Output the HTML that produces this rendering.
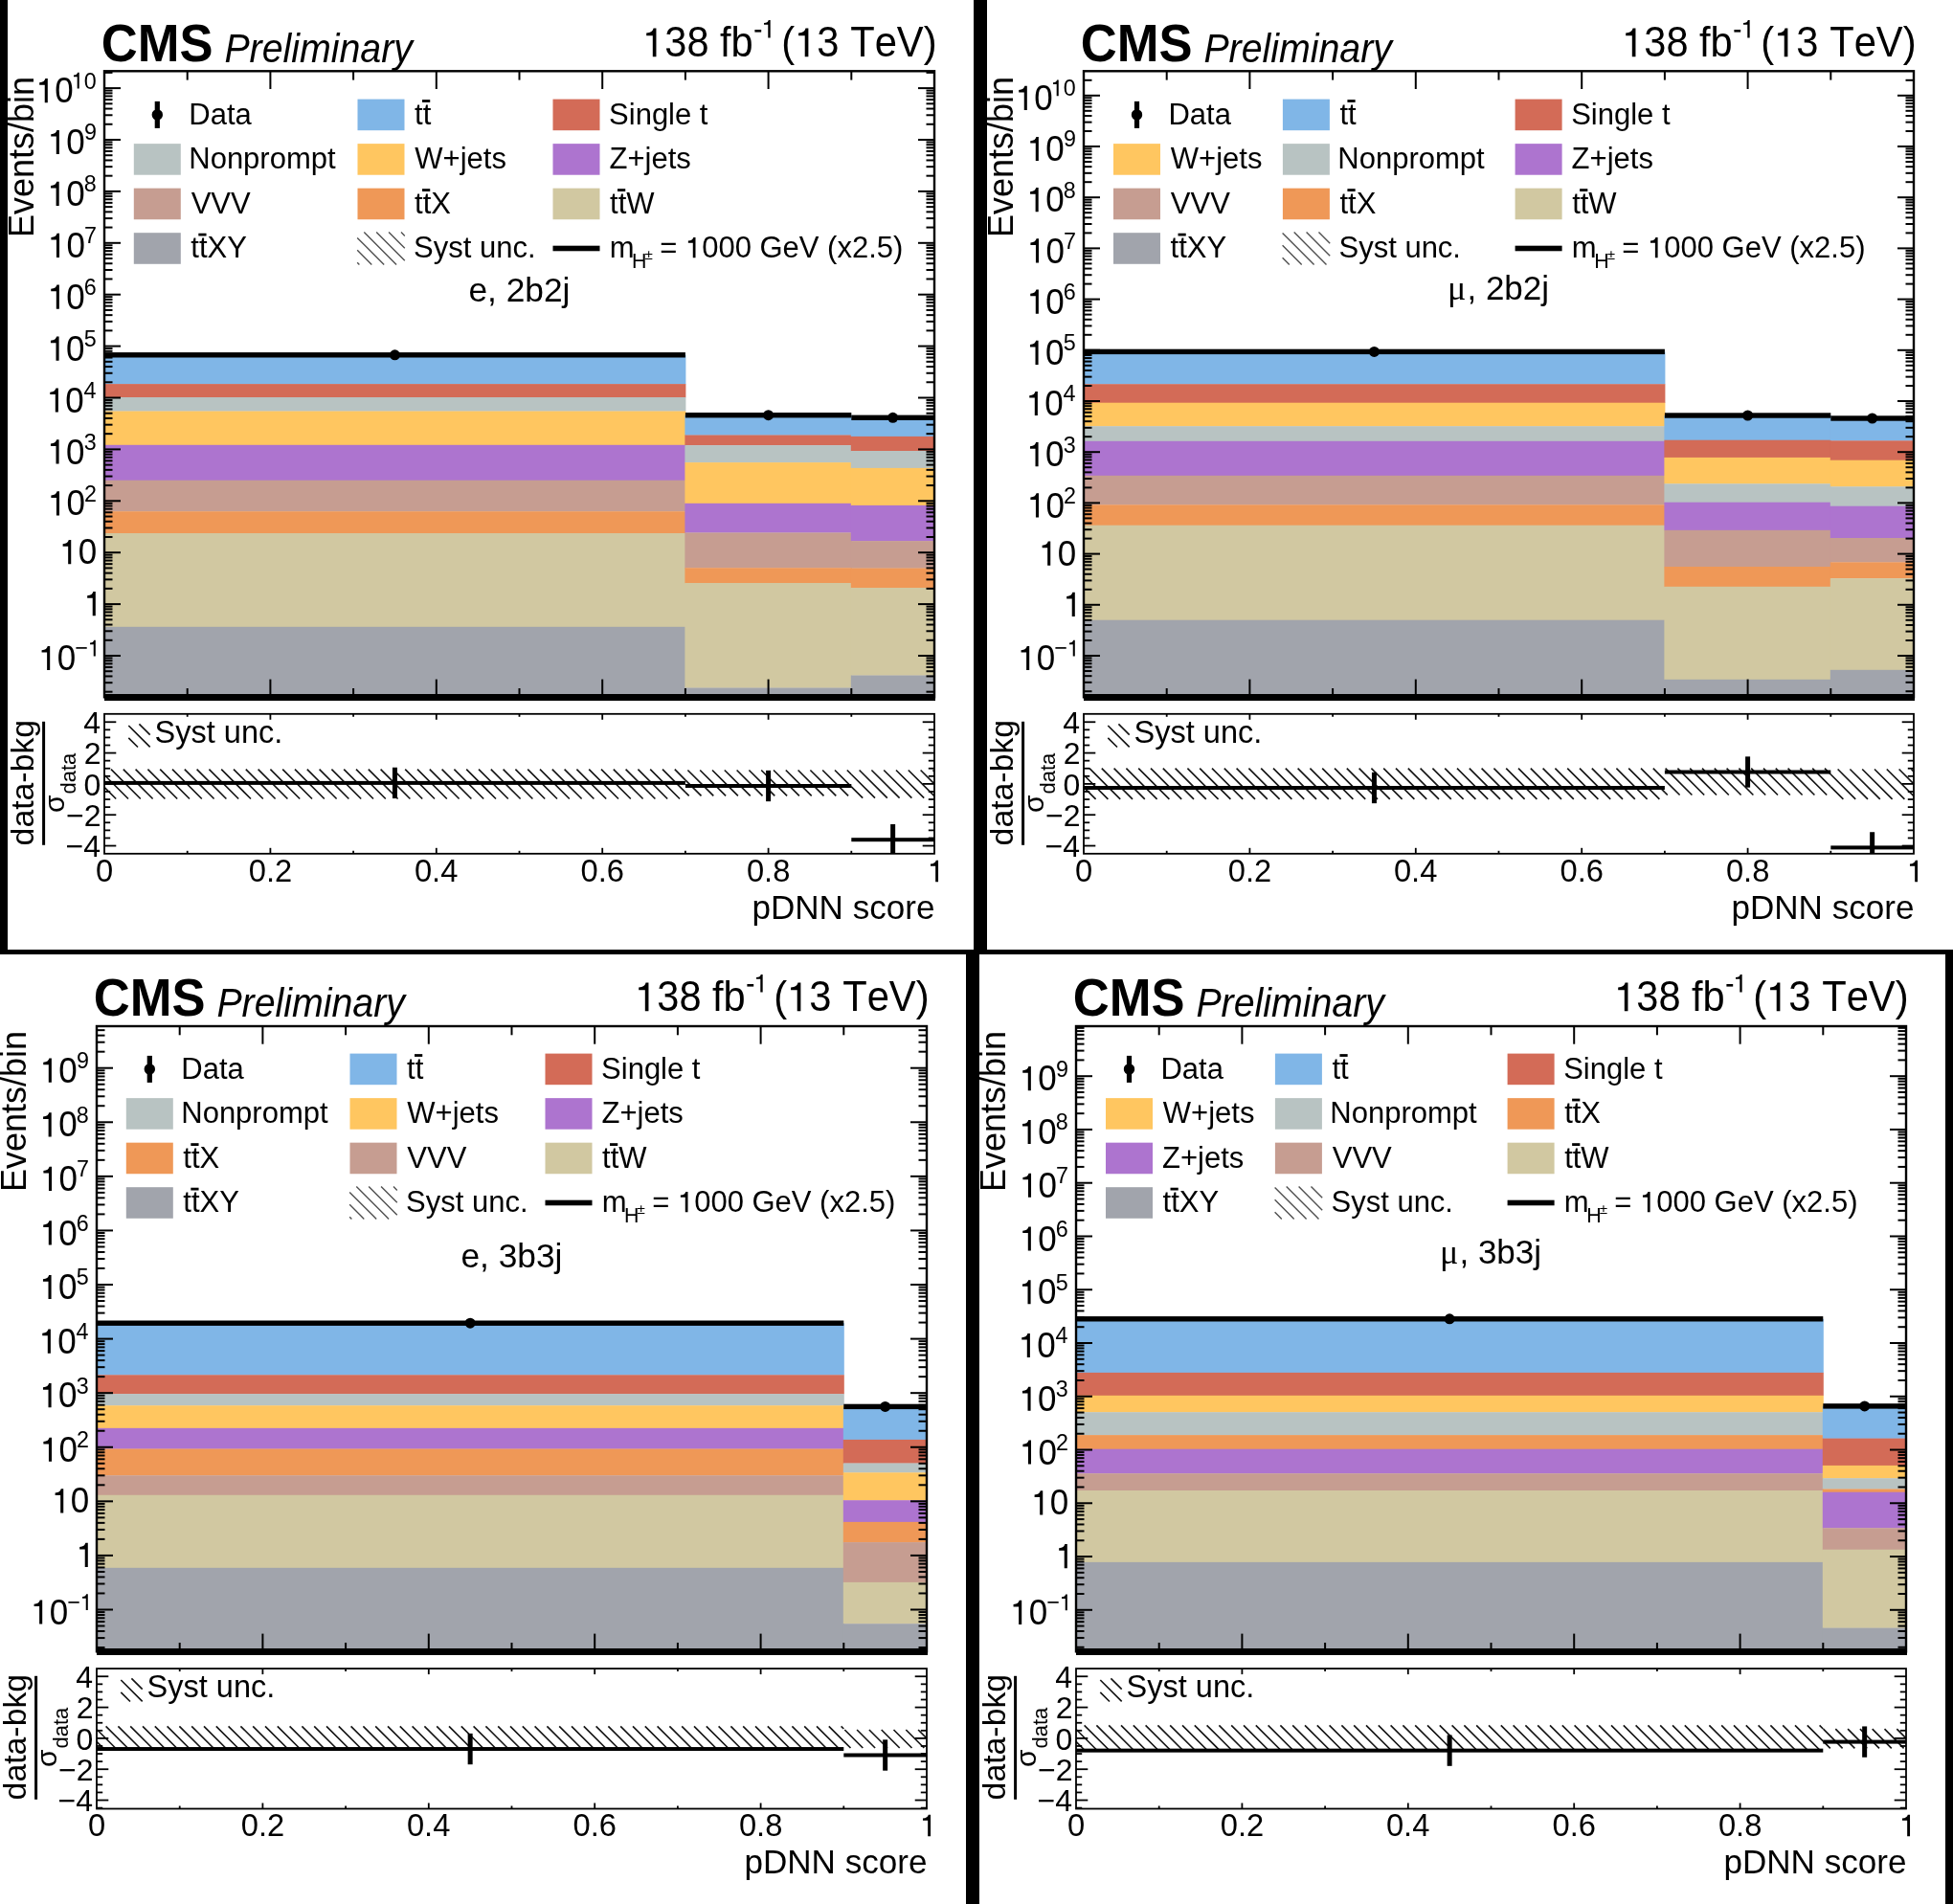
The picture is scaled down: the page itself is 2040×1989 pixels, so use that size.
<!DOCTYPE html><html><head><meta charset="utf-8"><style>html,body{margin:0;padding:0;background:#fff;}svg{display:block;will-change:transform;}</style></head><body><svg xmlns="http://www.w3.org/2000/svg" width="2040" height="1989" viewBox="0 0 2040 1989" font-family="Liberation Sans" style="font-kerning:none">
<rect width="2040" height="1989" fill="#fff"/>
<g transform="translate(0,0)">
<rect x="109" y="370.8" width="607.4" height="30.6" fill="#80b6e7"/>
<rect x="109" y="401.1" width="607.4" height="14.2" fill="#d36b57"/>
<rect x="109" y="415" width="607.4" height="14.8" fill="#b8c3c2"/>
<rect x="109" y="429.5" width="607.4" height="35.6" fill="#ffc660"/>
<rect x="109" y="464.8" width="607.4" height="37.2" fill="#ad74cf"/>
<rect x="109" y="501.7" width="607.4" height="32.8" fill="#c69d91"/>
<rect x="109" y="534.2" width="607.4" height="23.1" fill="#ef9857"/>
<rect x="109" y="557" width="607.4" height="98.1" fill="#d1c8a1"/>
<rect x="109" y="654.8" width="607.4" height="76.2" fill="#a1a4ac"/>
<rect x="715.4" y="433.7" width="174.4" height="21.1" fill="#80b6e7"/>
<rect x="715.4" y="454.5" width="174.4" height="10.9" fill="#d36b57"/>
<rect x="715.4" y="465.1" width="174.4" height="18.3" fill="#b8c3c2"/>
<rect x="715.4" y="483.1" width="174.4" height="43" fill="#ffc660"/>
<rect x="715.4" y="525.8" width="174.4" height="30.9" fill="#ad74cf"/>
<rect x="715.4" y="556.4" width="174.4" height="37.1" fill="#c69d91"/>
<rect x="715.4" y="593.2" width="174.4" height="16.1" fill="#ef9857"/>
<rect x="715.4" y="609" width="174.4" height="109.8" fill="#d1c8a1"/>
<rect x="715.4" y="718.5" width="174.4" height="12.5" fill="#a1a4ac"/>
<rect x="888.8" y="436.3" width="87.2" height="19.9" fill="#80b6e7"/>
<rect x="888.8" y="455.9" width="87.2" height="15.4" fill="#d36b57"/>
<rect x="888.8" y="471" width="87.2" height="18.2" fill="#b8c3c2"/>
<rect x="888.8" y="488.9" width="87.2" height="39.3" fill="#ffc660"/>
<rect x="888.8" y="527.9" width="87.2" height="37.5" fill="#ad74cf"/>
<rect x="888.8" y="565.1" width="87.2" height="28.7" fill="#c69d91"/>
<rect x="888.8" y="593.5" width="87.2" height="20.8" fill="#ef9857"/>
<rect x="888.8" y="614" width="87.2" height="91.8" fill="#d1c8a1"/>
<rect x="888.8" y="705.5" width="87.2" height="25.5" fill="#a1a4ac"/>
<g stroke="#000" fill="none">
<line x1="195.7" y1="728.3" x2="195.7" y2="719" stroke="#000" stroke-width="2"/>
<line x1="195.7" y1="74.3" x2="195.7" y2="83.6" stroke="#000" stroke-width="2"/>
<line x1="282.4" y1="728.3" x2="282.4" y2="709.6" stroke="#000" stroke-width="2"/>
<line x1="282.4" y1="74.3" x2="282.4" y2="93" stroke="#000" stroke-width="2"/>
<line x1="369.1" y1="728.3" x2="369.1" y2="719" stroke="#000" stroke-width="2"/>
<line x1="369.1" y1="74.3" x2="369.1" y2="83.6" stroke="#000" stroke-width="2"/>
<line x1="455.8" y1="728.3" x2="455.8" y2="709.6" stroke="#000" stroke-width="2"/>
<line x1="455.8" y1="74.3" x2="455.8" y2="93" stroke="#000" stroke-width="2"/>
<line x1="542.5" y1="728.3" x2="542.5" y2="719" stroke="#000" stroke-width="2"/>
<line x1="542.5" y1="74.3" x2="542.5" y2="83.6" stroke="#000" stroke-width="2"/>
<line x1="629.2" y1="728.3" x2="629.2" y2="709.6" stroke="#000" stroke-width="2"/>
<line x1="629.2" y1="74.3" x2="629.2" y2="93" stroke="#000" stroke-width="2"/>
<line x1="715.9" y1="728.3" x2="715.9" y2="719" stroke="#000" stroke-width="2"/>
<line x1="715.9" y1="74.3" x2="715.9" y2="83.6" stroke="#000" stroke-width="2"/>
<line x1="802.6" y1="728.3" x2="802.6" y2="709.6" stroke="#000" stroke-width="2"/>
<line x1="802.6" y1="74.3" x2="802.6" y2="93" stroke="#000" stroke-width="2"/>
<line x1="889.3" y1="728.3" x2="889.3" y2="719" stroke="#000" stroke-width="2"/>
<line x1="889.3" y1="74.3" x2="889.3" y2="83.6" stroke="#000" stroke-width="2"/>
<line x1="109" y1="722.67" x2="117.5" y2="722.67" stroke="#000" stroke-width="2"/>
<line x1="976" y1="722.67" x2="967.5" y2="722.67" stroke="#000" stroke-width="2"/>
<line x1="109" y1="713.18" x2="117.5" y2="713.18" stroke="#000" stroke-width="2"/>
<line x1="976" y1="713.18" x2="967.5" y2="713.18" stroke="#000" stroke-width="2"/>
<line x1="109" y1="706.45" x2="117.5" y2="706.45" stroke="#000" stroke-width="2"/>
<line x1="976" y1="706.45" x2="967.5" y2="706.45" stroke="#000" stroke-width="2"/>
<line x1="109" y1="701.23" x2="117.5" y2="701.23" stroke="#000" stroke-width="2"/>
<line x1="976" y1="701.23" x2="967.5" y2="701.23" stroke="#000" stroke-width="2"/>
<line x1="109" y1="696.96" x2="117.5" y2="696.96" stroke="#000" stroke-width="2"/>
<line x1="976" y1="696.96" x2="967.5" y2="696.96" stroke="#000" stroke-width="2"/>
<line x1="109" y1="693.35" x2="117.5" y2="693.35" stroke="#000" stroke-width="2"/>
<line x1="976" y1="693.35" x2="967.5" y2="693.35" stroke="#000" stroke-width="2"/>
<line x1="109" y1="690.22" x2="117.5" y2="690.22" stroke="#000" stroke-width="2"/>
<line x1="976" y1="690.22" x2="967.5" y2="690.22" stroke="#000" stroke-width="2"/>
<line x1="109" y1="687.47" x2="117.5" y2="687.47" stroke="#000" stroke-width="2"/>
<line x1="976" y1="687.47" x2="967.5" y2="687.47" stroke="#000" stroke-width="2"/>
<line x1="109" y1="685" x2="126" y2="685" stroke="#000" stroke-width="2"/>
<line x1="976" y1="685" x2="959" y2="685" stroke="#000" stroke-width="2"/>
<line x1="109" y1="668.77" x2="117.5" y2="668.77" stroke="#000" stroke-width="2"/>
<line x1="976" y1="668.77" x2="967.5" y2="668.77" stroke="#000" stroke-width="2"/>
<line x1="109" y1="659.28" x2="117.5" y2="659.28" stroke="#000" stroke-width="2"/>
<line x1="976" y1="659.28" x2="967.5" y2="659.28" stroke="#000" stroke-width="2"/>
<line x1="109" y1="652.55" x2="117.5" y2="652.55" stroke="#000" stroke-width="2"/>
<line x1="976" y1="652.55" x2="967.5" y2="652.55" stroke="#000" stroke-width="2"/>
<line x1="109" y1="647.33" x2="117.5" y2="647.33" stroke="#000" stroke-width="2"/>
<line x1="976" y1="647.33" x2="967.5" y2="647.33" stroke="#000" stroke-width="2"/>
<line x1="109" y1="643.06" x2="117.5" y2="643.06" stroke="#000" stroke-width="2"/>
<line x1="976" y1="643.06" x2="967.5" y2="643.06" stroke="#000" stroke-width="2"/>
<line x1="109" y1="639.45" x2="117.5" y2="639.45" stroke="#000" stroke-width="2"/>
<line x1="976" y1="639.45" x2="967.5" y2="639.45" stroke="#000" stroke-width="2"/>
<line x1="109" y1="636.32" x2="117.5" y2="636.32" stroke="#000" stroke-width="2"/>
<line x1="976" y1="636.32" x2="967.5" y2="636.32" stroke="#000" stroke-width="2"/>
<line x1="109" y1="633.57" x2="117.5" y2="633.57" stroke="#000" stroke-width="2"/>
<line x1="976" y1="633.57" x2="967.5" y2="633.57" stroke="#000" stroke-width="2"/>
<line x1="109" y1="631.1" x2="126" y2="631.1" stroke="#000" stroke-width="2"/>
<line x1="976" y1="631.1" x2="959" y2="631.1" stroke="#000" stroke-width="2"/>
<line x1="109" y1="614.87" x2="117.5" y2="614.87" stroke="#000" stroke-width="2"/>
<line x1="976" y1="614.87" x2="967.5" y2="614.87" stroke="#000" stroke-width="2"/>
<line x1="109" y1="605.38" x2="117.5" y2="605.38" stroke="#000" stroke-width="2"/>
<line x1="976" y1="605.38" x2="967.5" y2="605.38" stroke="#000" stroke-width="2"/>
<line x1="109" y1="598.65" x2="117.5" y2="598.65" stroke="#000" stroke-width="2"/>
<line x1="976" y1="598.65" x2="967.5" y2="598.65" stroke="#000" stroke-width="2"/>
<line x1="109" y1="593.43" x2="117.5" y2="593.43" stroke="#000" stroke-width="2"/>
<line x1="976" y1="593.43" x2="967.5" y2="593.43" stroke="#000" stroke-width="2"/>
<line x1="109" y1="589.16" x2="117.5" y2="589.16" stroke="#000" stroke-width="2"/>
<line x1="976" y1="589.16" x2="967.5" y2="589.16" stroke="#000" stroke-width="2"/>
<line x1="109" y1="585.55" x2="117.5" y2="585.55" stroke="#000" stroke-width="2"/>
<line x1="976" y1="585.55" x2="967.5" y2="585.55" stroke="#000" stroke-width="2"/>
<line x1="109" y1="582.42" x2="117.5" y2="582.42" stroke="#000" stroke-width="2"/>
<line x1="976" y1="582.42" x2="967.5" y2="582.42" stroke="#000" stroke-width="2"/>
<line x1="109" y1="579.67" x2="117.5" y2="579.67" stroke="#000" stroke-width="2"/>
<line x1="976" y1="579.67" x2="967.5" y2="579.67" stroke="#000" stroke-width="2"/>
<line x1="109" y1="577.2" x2="126" y2="577.2" stroke="#000" stroke-width="2"/>
<line x1="976" y1="577.2" x2="959" y2="577.2" stroke="#000" stroke-width="2"/>
<line x1="109" y1="560.97" x2="117.5" y2="560.97" stroke="#000" stroke-width="2"/>
<line x1="976" y1="560.97" x2="967.5" y2="560.97" stroke="#000" stroke-width="2"/>
<line x1="109" y1="551.48" x2="117.5" y2="551.48" stroke="#000" stroke-width="2"/>
<line x1="976" y1="551.48" x2="967.5" y2="551.48" stroke="#000" stroke-width="2"/>
<line x1="109" y1="544.75" x2="117.5" y2="544.75" stroke="#000" stroke-width="2"/>
<line x1="976" y1="544.75" x2="967.5" y2="544.75" stroke="#000" stroke-width="2"/>
<line x1="109" y1="539.53" x2="117.5" y2="539.53" stroke="#000" stroke-width="2"/>
<line x1="976" y1="539.53" x2="967.5" y2="539.53" stroke="#000" stroke-width="2"/>
<line x1="109" y1="535.26" x2="117.5" y2="535.26" stroke="#000" stroke-width="2"/>
<line x1="976" y1="535.26" x2="967.5" y2="535.26" stroke="#000" stroke-width="2"/>
<line x1="109" y1="531.65" x2="117.5" y2="531.65" stroke="#000" stroke-width="2"/>
<line x1="976" y1="531.65" x2="967.5" y2="531.65" stroke="#000" stroke-width="2"/>
<line x1="109" y1="528.52" x2="117.5" y2="528.52" stroke="#000" stroke-width="2"/>
<line x1="976" y1="528.52" x2="967.5" y2="528.52" stroke="#000" stroke-width="2"/>
<line x1="109" y1="525.77" x2="117.5" y2="525.77" stroke="#000" stroke-width="2"/>
<line x1="976" y1="525.77" x2="967.5" y2="525.77" stroke="#000" stroke-width="2"/>
<line x1="109" y1="523.3" x2="126" y2="523.3" stroke="#000" stroke-width="2"/>
<line x1="976" y1="523.3" x2="959" y2="523.3" stroke="#000" stroke-width="2"/>
<line x1="109" y1="507.07" x2="117.5" y2="507.07" stroke="#000" stroke-width="2"/>
<line x1="976" y1="507.07" x2="967.5" y2="507.07" stroke="#000" stroke-width="2"/>
<line x1="109" y1="497.58" x2="117.5" y2="497.58" stroke="#000" stroke-width="2"/>
<line x1="976" y1="497.58" x2="967.5" y2="497.58" stroke="#000" stroke-width="2"/>
<line x1="109" y1="490.85" x2="117.5" y2="490.85" stroke="#000" stroke-width="2"/>
<line x1="976" y1="490.85" x2="967.5" y2="490.85" stroke="#000" stroke-width="2"/>
<line x1="109" y1="485.63" x2="117.5" y2="485.63" stroke="#000" stroke-width="2"/>
<line x1="976" y1="485.63" x2="967.5" y2="485.63" stroke="#000" stroke-width="2"/>
<line x1="109" y1="481.36" x2="117.5" y2="481.36" stroke="#000" stroke-width="2"/>
<line x1="976" y1="481.36" x2="967.5" y2="481.36" stroke="#000" stroke-width="2"/>
<line x1="109" y1="477.75" x2="117.5" y2="477.75" stroke="#000" stroke-width="2"/>
<line x1="976" y1="477.75" x2="967.5" y2="477.75" stroke="#000" stroke-width="2"/>
<line x1="109" y1="474.62" x2="117.5" y2="474.62" stroke="#000" stroke-width="2"/>
<line x1="976" y1="474.62" x2="967.5" y2="474.62" stroke="#000" stroke-width="2"/>
<line x1="109" y1="471.87" x2="117.5" y2="471.87" stroke="#000" stroke-width="2"/>
<line x1="976" y1="471.87" x2="967.5" y2="471.87" stroke="#000" stroke-width="2"/>
<line x1="109" y1="469.4" x2="126" y2="469.4" stroke="#000" stroke-width="2"/>
<line x1="976" y1="469.4" x2="959" y2="469.4" stroke="#000" stroke-width="2"/>
<line x1="109" y1="453.17" x2="117.5" y2="453.17" stroke="#000" stroke-width="2"/>
<line x1="976" y1="453.17" x2="967.5" y2="453.17" stroke="#000" stroke-width="2"/>
<line x1="109" y1="443.68" x2="117.5" y2="443.68" stroke="#000" stroke-width="2"/>
<line x1="976" y1="443.68" x2="967.5" y2="443.68" stroke="#000" stroke-width="2"/>
<line x1="109" y1="436.95" x2="117.5" y2="436.95" stroke="#000" stroke-width="2"/>
<line x1="976" y1="436.95" x2="967.5" y2="436.95" stroke="#000" stroke-width="2"/>
<line x1="109" y1="431.73" x2="117.5" y2="431.73" stroke="#000" stroke-width="2"/>
<line x1="976" y1="431.73" x2="967.5" y2="431.73" stroke="#000" stroke-width="2"/>
<line x1="109" y1="427.46" x2="117.5" y2="427.46" stroke="#000" stroke-width="2"/>
<line x1="976" y1="427.46" x2="967.5" y2="427.46" stroke="#000" stroke-width="2"/>
<line x1="109" y1="423.85" x2="117.5" y2="423.85" stroke="#000" stroke-width="2"/>
<line x1="976" y1="423.85" x2="967.5" y2="423.85" stroke="#000" stroke-width="2"/>
<line x1="109" y1="420.72" x2="117.5" y2="420.72" stroke="#000" stroke-width="2"/>
<line x1="976" y1="420.72" x2="967.5" y2="420.72" stroke="#000" stroke-width="2"/>
<line x1="109" y1="417.97" x2="117.5" y2="417.97" stroke="#000" stroke-width="2"/>
<line x1="976" y1="417.97" x2="967.5" y2="417.97" stroke="#000" stroke-width="2"/>
<line x1="109" y1="415.5" x2="126" y2="415.5" stroke="#000" stroke-width="2"/>
<line x1="976" y1="415.5" x2="959" y2="415.5" stroke="#000" stroke-width="2"/>
<line x1="109" y1="399.27" x2="117.5" y2="399.27" stroke="#000" stroke-width="2"/>
<line x1="976" y1="399.27" x2="967.5" y2="399.27" stroke="#000" stroke-width="2"/>
<line x1="109" y1="389.78" x2="117.5" y2="389.78" stroke="#000" stroke-width="2"/>
<line x1="976" y1="389.78" x2="967.5" y2="389.78" stroke="#000" stroke-width="2"/>
<line x1="109" y1="383.05" x2="117.5" y2="383.05" stroke="#000" stroke-width="2"/>
<line x1="976" y1="383.05" x2="967.5" y2="383.05" stroke="#000" stroke-width="2"/>
<line x1="109" y1="377.83" x2="117.5" y2="377.83" stroke="#000" stroke-width="2"/>
<line x1="976" y1="377.83" x2="967.5" y2="377.83" stroke="#000" stroke-width="2"/>
<line x1="109" y1="373.56" x2="117.5" y2="373.56" stroke="#000" stroke-width="2"/>
<line x1="976" y1="373.56" x2="967.5" y2="373.56" stroke="#000" stroke-width="2"/>
<line x1="109" y1="369.95" x2="117.5" y2="369.95" stroke="#000" stroke-width="2"/>
<line x1="976" y1="369.95" x2="967.5" y2="369.95" stroke="#000" stroke-width="2"/>
<line x1="109" y1="366.82" x2="117.5" y2="366.82" stroke="#000" stroke-width="2"/>
<line x1="976" y1="366.82" x2="967.5" y2="366.82" stroke="#000" stroke-width="2"/>
<line x1="109" y1="364.07" x2="117.5" y2="364.07" stroke="#000" stroke-width="2"/>
<line x1="976" y1="364.07" x2="967.5" y2="364.07" stroke="#000" stroke-width="2"/>
<line x1="109" y1="361.6" x2="126" y2="361.6" stroke="#000" stroke-width="2"/>
<line x1="976" y1="361.6" x2="959" y2="361.6" stroke="#000" stroke-width="2"/>
<line x1="109" y1="345.37" x2="117.5" y2="345.37" stroke="#000" stroke-width="2"/>
<line x1="976" y1="345.37" x2="967.5" y2="345.37" stroke="#000" stroke-width="2"/>
<line x1="109" y1="335.88" x2="117.5" y2="335.88" stroke="#000" stroke-width="2"/>
<line x1="976" y1="335.88" x2="967.5" y2="335.88" stroke="#000" stroke-width="2"/>
<line x1="109" y1="329.15" x2="117.5" y2="329.15" stroke="#000" stroke-width="2"/>
<line x1="976" y1="329.15" x2="967.5" y2="329.15" stroke="#000" stroke-width="2"/>
<line x1="109" y1="323.93" x2="117.5" y2="323.93" stroke="#000" stroke-width="2"/>
<line x1="976" y1="323.93" x2="967.5" y2="323.93" stroke="#000" stroke-width="2"/>
<line x1="109" y1="319.66" x2="117.5" y2="319.66" stroke="#000" stroke-width="2"/>
<line x1="976" y1="319.66" x2="967.5" y2="319.66" stroke="#000" stroke-width="2"/>
<line x1="109" y1="316.05" x2="117.5" y2="316.05" stroke="#000" stroke-width="2"/>
<line x1="976" y1="316.05" x2="967.5" y2="316.05" stroke="#000" stroke-width="2"/>
<line x1="109" y1="312.92" x2="117.5" y2="312.92" stroke="#000" stroke-width="2"/>
<line x1="976" y1="312.92" x2="967.5" y2="312.92" stroke="#000" stroke-width="2"/>
<line x1="109" y1="310.17" x2="117.5" y2="310.17" stroke="#000" stroke-width="2"/>
<line x1="976" y1="310.17" x2="967.5" y2="310.17" stroke="#000" stroke-width="2"/>
<line x1="109" y1="307.7" x2="126" y2="307.7" stroke="#000" stroke-width="2"/>
<line x1="976" y1="307.7" x2="959" y2="307.7" stroke="#000" stroke-width="2"/>
<line x1="109" y1="291.47" x2="117.5" y2="291.47" stroke="#000" stroke-width="2"/>
<line x1="976" y1="291.47" x2="967.5" y2="291.47" stroke="#000" stroke-width="2"/>
<line x1="109" y1="281.98" x2="117.5" y2="281.98" stroke="#000" stroke-width="2"/>
<line x1="976" y1="281.98" x2="967.5" y2="281.98" stroke="#000" stroke-width="2"/>
<line x1="109" y1="275.25" x2="117.5" y2="275.25" stroke="#000" stroke-width="2"/>
<line x1="976" y1="275.25" x2="967.5" y2="275.25" stroke="#000" stroke-width="2"/>
<line x1="109" y1="270.03" x2="117.5" y2="270.03" stroke="#000" stroke-width="2"/>
<line x1="976" y1="270.03" x2="967.5" y2="270.03" stroke="#000" stroke-width="2"/>
<line x1="109" y1="265.76" x2="117.5" y2="265.76" stroke="#000" stroke-width="2"/>
<line x1="976" y1="265.76" x2="967.5" y2="265.76" stroke="#000" stroke-width="2"/>
<line x1="109" y1="262.15" x2="117.5" y2="262.15" stroke="#000" stroke-width="2"/>
<line x1="976" y1="262.15" x2="967.5" y2="262.15" stroke="#000" stroke-width="2"/>
<line x1="109" y1="259.02" x2="117.5" y2="259.02" stroke="#000" stroke-width="2"/>
<line x1="976" y1="259.02" x2="967.5" y2="259.02" stroke="#000" stroke-width="2"/>
<line x1="109" y1="256.27" x2="117.5" y2="256.27" stroke="#000" stroke-width="2"/>
<line x1="976" y1="256.27" x2="967.5" y2="256.27" stroke="#000" stroke-width="2"/>
<line x1="109" y1="253.8" x2="126" y2="253.8" stroke="#000" stroke-width="2"/>
<line x1="976" y1="253.8" x2="959" y2="253.8" stroke="#000" stroke-width="2"/>
<line x1="109" y1="237.57" x2="117.5" y2="237.57" stroke="#000" stroke-width="2"/>
<line x1="976" y1="237.57" x2="967.5" y2="237.57" stroke="#000" stroke-width="2"/>
<line x1="109" y1="228.08" x2="117.5" y2="228.08" stroke="#000" stroke-width="2"/>
<line x1="976" y1="228.08" x2="967.5" y2="228.08" stroke="#000" stroke-width="2"/>
<line x1="109" y1="221.35" x2="117.5" y2="221.35" stroke="#000" stroke-width="2"/>
<line x1="976" y1="221.35" x2="967.5" y2="221.35" stroke="#000" stroke-width="2"/>
<line x1="109" y1="216.13" x2="117.5" y2="216.13" stroke="#000" stroke-width="2"/>
<line x1="976" y1="216.13" x2="967.5" y2="216.13" stroke="#000" stroke-width="2"/>
<line x1="109" y1="211.86" x2="117.5" y2="211.86" stroke="#000" stroke-width="2"/>
<line x1="976" y1="211.86" x2="967.5" y2="211.86" stroke="#000" stroke-width="2"/>
<line x1="109" y1="208.25" x2="117.5" y2="208.25" stroke="#000" stroke-width="2"/>
<line x1="976" y1="208.25" x2="967.5" y2="208.25" stroke="#000" stroke-width="2"/>
<line x1="109" y1="205.12" x2="117.5" y2="205.12" stroke="#000" stroke-width="2"/>
<line x1="976" y1="205.12" x2="967.5" y2="205.12" stroke="#000" stroke-width="2"/>
<line x1="109" y1="202.37" x2="117.5" y2="202.37" stroke="#000" stroke-width="2"/>
<line x1="976" y1="202.37" x2="967.5" y2="202.37" stroke="#000" stroke-width="2"/>
<line x1="109" y1="199.9" x2="126" y2="199.9" stroke="#000" stroke-width="2"/>
<line x1="976" y1="199.9" x2="959" y2="199.9" stroke="#000" stroke-width="2"/>
<line x1="109" y1="183.67" x2="117.5" y2="183.67" stroke="#000" stroke-width="2"/>
<line x1="976" y1="183.67" x2="967.5" y2="183.67" stroke="#000" stroke-width="2"/>
<line x1="109" y1="174.18" x2="117.5" y2="174.18" stroke="#000" stroke-width="2"/>
<line x1="976" y1="174.18" x2="967.5" y2="174.18" stroke="#000" stroke-width="2"/>
<line x1="109" y1="167.45" x2="117.5" y2="167.45" stroke="#000" stroke-width="2"/>
<line x1="976" y1="167.45" x2="967.5" y2="167.45" stroke="#000" stroke-width="2"/>
<line x1="109" y1="162.23" x2="117.5" y2="162.23" stroke="#000" stroke-width="2"/>
<line x1="976" y1="162.23" x2="967.5" y2="162.23" stroke="#000" stroke-width="2"/>
<line x1="109" y1="157.96" x2="117.5" y2="157.96" stroke="#000" stroke-width="2"/>
<line x1="976" y1="157.96" x2="967.5" y2="157.96" stroke="#000" stroke-width="2"/>
<line x1="109" y1="154.35" x2="117.5" y2="154.35" stroke="#000" stroke-width="2"/>
<line x1="976" y1="154.35" x2="967.5" y2="154.35" stroke="#000" stroke-width="2"/>
<line x1="109" y1="151.22" x2="117.5" y2="151.22" stroke="#000" stroke-width="2"/>
<line x1="976" y1="151.22" x2="967.5" y2="151.22" stroke="#000" stroke-width="2"/>
<line x1="109" y1="148.47" x2="117.5" y2="148.47" stroke="#000" stroke-width="2"/>
<line x1="976" y1="148.47" x2="967.5" y2="148.47" stroke="#000" stroke-width="2"/>
<line x1="109" y1="146" x2="126" y2="146" stroke="#000" stroke-width="2"/>
<line x1="976" y1="146" x2="959" y2="146" stroke="#000" stroke-width="2"/>
<line x1="109" y1="129.77" x2="117.5" y2="129.77" stroke="#000" stroke-width="2"/>
<line x1="976" y1="129.77" x2="967.5" y2="129.77" stroke="#000" stroke-width="2"/>
<line x1="109" y1="120.28" x2="117.5" y2="120.28" stroke="#000" stroke-width="2"/>
<line x1="976" y1="120.28" x2="967.5" y2="120.28" stroke="#000" stroke-width="2"/>
<line x1="109" y1="113.55" x2="117.5" y2="113.55" stroke="#000" stroke-width="2"/>
<line x1="976" y1="113.55" x2="967.5" y2="113.55" stroke="#000" stroke-width="2"/>
<line x1="109" y1="108.33" x2="117.5" y2="108.33" stroke="#000" stroke-width="2"/>
<line x1="976" y1="108.33" x2="967.5" y2="108.33" stroke="#000" stroke-width="2"/>
<line x1="109" y1="104.06" x2="117.5" y2="104.06" stroke="#000" stroke-width="2"/>
<line x1="976" y1="104.06" x2="967.5" y2="104.06" stroke="#000" stroke-width="2"/>
<line x1="109" y1="100.45" x2="117.5" y2="100.45" stroke="#000" stroke-width="2"/>
<line x1="976" y1="100.45" x2="967.5" y2="100.45" stroke="#000" stroke-width="2"/>
<line x1="109" y1="97.32" x2="117.5" y2="97.32" stroke="#000" stroke-width="2"/>
<line x1="976" y1="97.32" x2="967.5" y2="97.32" stroke="#000" stroke-width="2"/>
<line x1="109" y1="94.57" x2="117.5" y2="94.57" stroke="#000" stroke-width="2"/>
<line x1="976" y1="94.57" x2="967.5" y2="94.57" stroke="#000" stroke-width="2"/>
<line x1="109" y1="92.1" x2="126" y2="92.1" stroke="#000" stroke-width="2"/>
<line x1="976" y1="92.1" x2="959" y2="92.1" stroke="#000" stroke-width="2"/>
<line x1="109" y1="75.87" x2="117.5" y2="75.87" stroke="#000" stroke-width="2"/>
<line x1="976" y1="75.87" x2="967.5" y2="75.87" stroke="#000" stroke-width="2"/>
</g>
<rect x="109" y="368.1" width="606.9" height="5.4" fill="#000"/>
<rect x="715.9" y="431" width="173.4" height="5.4" fill="#000"/>
<rect x="889.3" y="433.6" width="86.7" height="5.4" fill="#000"/>
<rect x="109" y="725" width="868" height="7" fill="#000"/>
<rect x="109.0" y="74.3" width="867.0" height="654.0" fill="none" stroke="#000" stroke-width="2.4"/>
<circle cx="412.45" cy="370.8" r="5.5" fill="#000"/>
<circle cx="802.6" cy="433.7" r="5.5" fill="#000"/>
<circle cx="932.65" cy="436.3" r="5.5" fill="#000"/>
<text transform="translate(74.76,92.5) scale(0.9600,1)" font-size="24.3"> 0</text>
<path d="M0.342,0 L0.342,0.688 L0.272,0.688 C0.258,0.625 0.205,0.578 0.095,0.572 L0.095,0.505 L0.254,0.505 L0.254,0 Z" fill="#000" transform="translate(74.76,92.5) scale(23.328,-24.300)"/>
<text transform="translate(37.87,107.2) scale(0.9550,1)" font-size="36.6"> 0</text>
<path d="M0.342,0 L0.342,0.688 L0.272,0.688 C0.258,0.625 0.205,0.578 0.095,0.572 L0.095,0.505 L0.254,0.505 L0.254,0 Z" fill="#000" transform="translate(37.87,107.2) scale(34.953,-36.600)"/>
<text transform="translate(87.93,146.4) scale(0.9600,1)" font-size="24.3">9</text>
<text transform="translate(49.91,161.1) scale(0.9550,1)" font-size="36.6"> 0</text>
<path d="M0.342,0 L0.342,0.688 L0.272,0.688 C0.258,0.625 0.205,0.578 0.095,0.572 L0.095,0.505 L0.254,0.505 L0.254,0 Z" fill="#000" transform="translate(49.91,161.1) scale(34.953,-36.600)"/>
<text transform="translate(87.84,200.3) scale(0.9600,1)" font-size="24.3">8</text>
<text transform="translate(49.74,215) scale(0.9550,1)" font-size="36.6"> 0</text>
<path d="M0.342,0 L0.342,0.688 L0.272,0.688 C0.258,0.625 0.205,0.578 0.095,0.572 L0.095,0.505 L0.254,0.505 L0.254,0 Z" fill="#000" transform="translate(49.74,215) scale(34.953,-36.600)"/>
<text transform="translate(88,254.2) scale(0.9600,1)" font-size="24.3">7</text>
<text transform="translate(50.08,268.9) scale(0.9550,1)" font-size="36.6"> 0</text>
<path d="M0.342,0 L0.342,0.688 L0.272,0.688 C0.258,0.625 0.205,0.578 0.095,0.572 L0.095,0.505 L0.254,0.505 L0.254,0 Z" fill="#000" transform="translate(50.08,268.9) scale(34.953,-36.600)"/>
<text transform="translate(87.85,308.1) scale(0.9600,1)" font-size="24.3">6</text>
<text transform="translate(49.92,322.8) scale(0.9550,1)" font-size="36.6"> 0</text>
<path d="M0.342,0 L0.342,0.688 L0.272,0.688 C0.258,0.625 0.205,0.578 0.095,0.572 L0.095,0.505 L0.254,0.505 L0.254,0 Z" fill="#000" transform="translate(49.92,322.8) scale(34.953,-36.600)"/>
<text transform="translate(87.81,362) scale(0.9600,1)" font-size="24.3">5</text>
<text transform="translate(49.63,376.7) scale(0.9550,1)" font-size="36.6"> 0</text>
<path d="M0.342,0 L0.342,0.688 L0.272,0.688 C0.258,0.625 0.205,0.578 0.095,0.572 L0.095,0.505 L0.254,0.505 L0.254,0 Z" fill="#000" transform="translate(49.63,376.7) scale(34.953,-36.600)"/>
<text transform="translate(87.51,415.9) scale(0.9600,1)" font-size="24.3">4</text>
<text transform="translate(48.93,430.6) scale(0.9550,1)" font-size="36.6"> 0</text>
<path d="M0.342,0 L0.342,0.688 L0.272,0.688 C0.258,0.625 0.205,0.578 0.095,0.572 L0.095,0.505 L0.254,0.505 L0.254,0 Z" fill="#000" transform="translate(48.93,430.6) scale(34.953,-36.600)"/>
<text transform="translate(87.85,469.8) scale(0.9600,1)" font-size="24.3">3</text>
<text transform="translate(49.63,484.5) scale(0.9550,1)" font-size="36.6"> 0</text>
<path d="M0.342,0 L0.342,0.688 L0.272,0.688 C0.258,0.625 0.205,0.578 0.095,0.572 L0.095,0.505 L0.254,0.505 L0.254,0 Z" fill="#000" transform="translate(49.63,484.5) scale(34.953,-36.600)"/>
<text transform="translate(88,523.7) scale(0.9600,1)" font-size="24.3">2</text>
<text transform="translate(50.06,538.4) scale(0.9550,1)" font-size="36.6"> 0</text>
<path d="M0.342,0 L0.342,0.688 L0.272,0.688 C0.258,0.625 0.205,0.578 0.095,0.572 L0.095,0.505 L0.254,0.505 L0.254,0 Z" fill="#000" transform="translate(50.06,538.4) scale(34.953,-36.600)"/>
<text transform="translate(62.29,589.3) scale(0.9550,1)" font-size="36.6"> 0</text>
<path d="M0.342,0 L0.342,0.688 L0.272,0.688 C0.258,0.625 0.205,0.578 0.095,0.572 L0.095,0.505 L0.254,0.505 L0.254,0 Z" fill="#000" transform="translate(62.29,589.3) scale(34.953,-36.600)"/>
<text transform="translate(87.85,643.2) scale(0.9550,1)" font-size="36.6"> </text>
<path d="M0.342,0 L0.342,0.688 L0.272,0.688 C0.258,0.625 0.205,0.578 0.095,0.572 L0.095,0.505 L0.254,0.505 L0.254,0 Z" fill="#000" transform="translate(87.85,643.2) scale(34.953,-36.600)"/>
<text transform="translate(78.2,685.4) scale(0.9600,1)" font-size="24.3">− </text>
<path d="M0.342,0 L0.342,0.688 L0.272,0.688 C0.258,0.625 0.205,0.578 0.095,0.572 L0.095,0.505 L0.254,0.505 L0.254,0 Z" fill="#000" transform="translate(91.82,685.4) scale(23.328,-24.300)"/>
<text transform="translate(40.24,700.1) scale(0.9550,1)" font-size="36.6"> 0</text>
<path d="M0.342,0 L0.342,0.688 L0.272,0.688 C0.258,0.625 0.205,0.578 0.095,0.572 L0.095,0.505 L0.254,0.505 L0.254,0 Z" fill="#000" transform="translate(40.24,700.1) scale(34.953,-36.600)"/>
<text transform="translate(34.6,82.3) rotate(-90)" x="-165.76" y="0" font-size="36">Events/bin</text>
<text transform="translate(105.74,64.4) scale(0.9533,1)" font-size="55.14" font-weight="bold">CMS</text>
<text transform="translate(234.39,64.7) scale(0.9360,1)" font-size="42.01" font-style="italic">Preliminary</text>
<text transform="translate(816.21,59.3) scale(0.9605,1)" font-size="43.46">( 3 TeV)</text>
<path d="M0.342,0 L0.342,0.688 L0.272,0.688 C0.258,0.625 0.205,0.578 0.095,0.572 L0.095,0.505 L0.254,0.505 L0.254,0 Z" fill="#000" transform="translate(830.11,59.3) scale(41.741,-43.459)"/>
<text transform="translate(671.25,59.3) scale(0.9558,1)" font-size="43.46"> 38 fb</text>
<path d="M0.342,0 L0.342,0.688 L0.272,0.688 C0.258,0.625 0.205,0.578 0.095,0.572 L0.095,0.505 L0.254,0.505 L0.254,0 Z" fill="#000" transform="translate(671.25,59.3) scale(41.539,-43.459)"/>
<rect x="788.4" y="31" width="6.8" height="2.6" fill="#000"/>
<text x="795.43" y="39.5" font-size="27"> </text>
<path d="M0.342,0 L0.342,0.688 L0.272,0.688 C0.258,0.625 0.205,0.578 0.095,0.572 L0.095,0.505 L0.254,0.505 L0.254,0 Z" fill="#000" transform="translate(795.43,39.5) scale(27.000,-27.000)"/>
<text x="489.45" y="314.7" font-size="35.3">e, 2b2j</text>
<rect x="161.7" y="105.9" width="5.2" height="28" fill="#000"/>
<circle cx="164.3" cy="119.9" r="5.7" fill="#000"/>
<text x="197.26" y="129.7" font-size="31">Data</text>
<rect x="373.5" y="103.6" width="49" height="32.6" fill="#80b6e7"/>
<text x="433.03" y="129.7" font-size="31">tt</text>
<line x1="441.02" y1="105.52" x2="449.24" y2="105.52" stroke="#000" stroke-width="2.79"/>
<rect x="577.5" y="103.6" width="49" height="32.6" fill="#d36b57"/>
<text x="636.09" y="129.7" font-size="31">Single t</text>
<rect x="139.8" y="150.13" width="49" height="32.6" fill="#b8c3c2"/>
<text x="197.26" y="176.23" font-size="31">Nonprompt</text>
<rect x="373.5" y="150.13" width="49" height="32.6" fill="#ffc660"/>
<text x="433.36" y="176.23" font-size="31">W+jets</text>
<rect x="577.5" y="150.13" width="49" height="32.6" fill="#ad74cf"/>
<text x="636.52" y="176.23" font-size="31">Z+jets</text>
<rect x="139.8" y="196.66" width="49" height="32.6" fill="#c69d91"/>
<text x="199.66" y="222.76" font-size="31">VVV</text>
<rect x="373.5" y="196.66" width="49" height="32.6" fill="#ef9857"/>
<text x="433.03" y="222.76" font-size="31">ttX</text>
<line x1="441.02" y1="198.58" x2="449.24" y2="198.58" stroke="#000" stroke-width="2.79"/>
<rect x="577.5" y="196.66" width="49" height="32.6" fill="#d1c8a1"/>
<text x="637.03" y="222.76" font-size="31">ttW</text>
<line x1="645.02" y1="198.58" x2="653.24" y2="198.58" stroke="#000" stroke-width="2.79"/>
<rect x="139.8" y="243.19" width="49" height="32.6" fill="#a1a4ac"/>
<text x="199.33" y="269.29" font-size="31">ttXY</text>
<line x1="207.32" y1="245.11" x2="215.54" y2="245.11" stroke="#000" stroke-width="2.79"/>
<path d="M373.20,274.20L375.39,276.39M373.20,261.30L388.29,276.39M373.20,248.40L401.19,276.39M380.29,242.59L414.09,276.39M393.19,242.59L422.80,272.20M406.09,242.59L422.80,259.30M418.99,242.59L422.80,246.40" stroke="#505050" stroke-width="1.4" fill="none"/>
<text x="432.09" y="269.29" font-size="31">Syst unc.</text>
<rect x="577.5" y="256.69" width="49" height="5.6" fill="#000"/>
<text x="636.64" y="269.29" font-size="31">m</text>
<text x="660.04" y="279.59" font-size="21.4">H</text>
<text x="673.62" y="270.59" font-size="15.2">±</text>
<text x="689.19" y="269.29" font-size="31">=  000 GeV (x2.5)</text>
<path d="M0.342,0 L0.342,0.688 L0.272,0.688 C0.258,0.625 0.205,0.578 0.095,0.572 L0.095,0.505 L0.254,0.505 L0.254,0 Z" fill="#000" transform="translate(715.90,269.29) scale(31.000,-31.000)"/>
<path d="M109.00,822.30L121.20,834.50M109.00,809.50L134.00,834.50M116.00,803.70L146.80,834.50M128.80,803.70L159.60,834.50M141.60,803.70L172.40,834.50M154.40,803.70L185.20,834.50M167.20,803.70L198.00,834.50M180.00,803.70L210.80,834.50M192.80,803.70L223.60,834.50M205.60,803.70L236.40,834.50M218.40,803.70L249.20,834.50M231.20,803.70L262.00,834.50M244.00,803.70L274.80,834.50M256.80,803.70L287.60,834.50M269.60,803.70L300.40,834.50M282.40,803.70L313.20,834.50M295.20,803.70L326.00,834.50M308.00,803.70L338.80,834.50M320.80,803.70L351.60,834.50M333.60,803.70L364.40,834.50M346.40,803.70L377.20,834.50M359.20,803.70L390.00,834.50M372.00,803.70L402.80,834.50M384.80,803.70L415.60,834.50M397.60,803.70L428.40,834.50M410.40,803.70L441.20,834.50M423.20,803.70L454.00,834.50M436.00,803.70L466.80,834.50M448.80,803.70L479.60,834.50M461.60,803.70L492.40,834.50M474.40,803.70L505.20,834.50M487.20,803.70L518.00,834.50M500.00,803.70L530.80,834.50M512.80,803.70L543.60,834.50M525.60,803.70L556.40,834.50M538.40,803.70L569.20,834.50M551.20,803.70L582.00,834.50M564.00,803.70L594.80,834.50M576.80,803.70L607.60,834.50M589.60,803.70L620.40,834.50M602.40,803.70L633.20,834.50M615.20,803.70L646.00,834.50M628.00,803.70L658.80,834.50M640.80,803.70L671.60,834.50M653.60,803.70L684.40,834.50M666.40,803.70L697.20,834.50M679.20,803.70L710.00,834.50M692.00,803.70L715.90,827.60M704.80,803.70L715.90,814.80" stroke="#151515" stroke-width="1.65" fill="none"/>
<path d="M715.90,827.60L719.70,831.40M715.90,814.80L732.50,831.40M718.40,804.50L745.30,831.40M731.20,804.50L758.10,831.40M744.00,804.50L770.90,831.40M756.80,804.50L783.70,831.40M769.60,804.50L796.50,831.40M782.40,804.50L809.30,831.40M795.20,804.50L822.10,831.40M808.00,804.50L834.90,831.40M820.80,804.50L847.70,831.40M833.60,804.50L860.50,831.40M846.40,804.50L873.30,831.40M859.20,804.50L886.10,831.40M872.00,804.50L889.30,821.80M884.80,804.50L889.30,809.00" stroke="#151515" stroke-width="1.65" fill="none"/>
<path d="M889.30,821.80L901.20,833.70M889.30,809.00L914.00,833.70M897.60,804.50L926.80,833.70M910.40,804.50L939.60,833.70M923.20,804.50L952.40,833.70M936.00,804.50L965.20,833.70M948.80,804.50L976.00,831.70M961.60,804.50L976.00,818.90M974.40,804.50L976.00,806.10" stroke="#151515" stroke-width="1.65" fill="none"/>
<line x1="195.7" y1="891.8" x2="195.7" y2="888.8" stroke="#000" stroke-width="1.8"/>
<line x1="195.7" y1="745.8" x2="195.7" y2="748.8" stroke="#000" stroke-width="1.8"/>
<line x1="282.4" y1="891.8" x2="282.4" y2="885.8" stroke="#000" stroke-width="1.8"/>
<line x1="282.4" y1="745.8" x2="282.4" y2="751.8" stroke="#000" stroke-width="1.8"/>
<line x1="369.1" y1="891.8" x2="369.1" y2="888.8" stroke="#000" stroke-width="1.8"/>
<line x1="369.1" y1="745.8" x2="369.1" y2="748.8" stroke="#000" stroke-width="1.8"/>
<line x1="455.8" y1="891.8" x2="455.8" y2="885.8" stroke="#000" stroke-width="1.8"/>
<line x1="455.8" y1="745.8" x2="455.8" y2="751.8" stroke="#000" stroke-width="1.8"/>
<line x1="542.5" y1="891.8" x2="542.5" y2="888.8" stroke="#000" stroke-width="1.8"/>
<line x1="542.5" y1="745.8" x2="542.5" y2="748.8" stroke="#000" stroke-width="1.8"/>
<line x1="629.2" y1="891.8" x2="629.2" y2="885.8" stroke="#000" stroke-width="1.8"/>
<line x1="629.2" y1="745.8" x2="629.2" y2="751.8" stroke="#000" stroke-width="1.8"/>
<line x1="715.9" y1="891.8" x2="715.9" y2="888.8" stroke="#000" stroke-width="1.8"/>
<line x1="715.9" y1="745.8" x2="715.9" y2="748.8" stroke="#000" stroke-width="1.8"/>
<line x1="802.6" y1="891.8" x2="802.6" y2="885.8" stroke="#000" stroke-width="1.8"/>
<line x1="802.6" y1="745.8" x2="802.6" y2="751.8" stroke="#000" stroke-width="1.8"/>
<line x1="889.3" y1="891.8" x2="889.3" y2="888.8" stroke="#000" stroke-width="1.8"/>
<line x1="889.3" y1="745.8" x2="889.3" y2="748.8" stroke="#000" stroke-width="1.8"/>
<line x1="109" y1="883.54" x2="121.3" y2="883.54" stroke="#000" stroke-width="1.8"/>
<line x1="976" y1="883.54" x2="963.7" y2="883.54" stroke="#000" stroke-width="1.8"/>
<line x1="109" y1="875.46" x2="115.2" y2="875.46" stroke="#000" stroke-width="1.8"/>
<line x1="976" y1="875.46" x2="969.8" y2="875.46" stroke="#000" stroke-width="1.8"/>
<line x1="109" y1="867.38" x2="115.2" y2="867.38" stroke="#000" stroke-width="1.8"/>
<line x1="976" y1="867.38" x2="969.8" y2="867.38" stroke="#000" stroke-width="1.8"/>
<line x1="109" y1="859.3" x2="115.2" y2="859.3" stroke="#000" stroke-width="1.8"/>
<line x1="976" y1="859.3" x2="969.8" y2="859.3" stroke="#000" stroke-width="1.8"/>
<line x1="109" y1="851.22" x2="121.3" y2="851.22" stroke="#000" stroke-width="1.8"/>
<line x1="976" y1="851.22" x2="963.7" y2="851.22" stroke="#000" stroke-width="1.8"/>
<line x1="109" y1="843.14" x2="115.2" y2="843.14" stroke="#000" stroke-width="1.8"/>
<line x1="976" y1="843.14" x2="969.8" y2="843.14" stroke="#000" stroke-width="1.8"/>
<line x1="109" y1="835.06" x2="115.2" y2="835.06" stroke="#000" stroke-width="1.8"/>
<line x1="976" y1="835.06" x2="969.8" y2="835.06" stroke="#000" stroke-width="1.8"/>
<line x1="109" y1="826.98" x2="115.2" y2="826.98" stroke="#000" stroke-width="1.8"/>
<line x1="976" y1="826.98" x2="969.8" y2="826.98" stroke="#000" stroke-width="1.8"/>
<line x1="109" y1="818.9" x2="121.3" y2="818.9" stroke="#000" stroke-width="1.8"/>
<line x1="976" y1="818.9" x2="963.7" y2="818.9" stroke="#000" stroke-width="1.8"/>
<line x1="109" y1="810.82" x2="115.2" y2="810.82" stroke="#000" stroke-width="1.8"/>
<line x1="976" y1="810.82" x2="969.8" y2="810.82" stroke="#000" stroke-width="1.8"/>
<line x1="109" y1="802.74" x2="115.2" y2="802.74" stroke="#000" stroke-width="1.8"/>
<line x1="976" y1="802.74" x2="969.8" y2="802.74" stroke="#000" stroke-width="1.8"/>
<line x1="109" y1="794.66" x2="115.2" y2="794.66" stroke="#000" stroke-width="1.8"/>
<line x1="976" y1="794.66" x2="969.8" y2="794.66" stroke="#000" stroke-width="1.8"/>
<line x1="109" y1="786.58" x2="121.3" y2="786.58" stroke="#000" stroke-width="1.8"/>
<line x1="976" y1="786.58" x2="963.7" y2="786.58" stroke="#000" stroke-width="1.8"/>
<line x1="109" y1="778.5" x2="115.2" y2="778.5" stroke="#000" stroke-width="1.8"/>
<line x1="976" y1="778.5" x2="969.8" y2="778.5" stroke="#000" stroke-width="1.8"/>
<line x1="109" y1="770.42" x2="115.2" y2="770.42" stroke="#000" stroke-width="1.8"/>
<line x1="976" y1="770.42" x2="969.8" y2="770.42" stroke="#000" stroke-width="1.8"/>
<line x1="109" y1="762.34" x2="115.2" y2="762.34" stroke="#000" stroke-width="1.8"/>
<line x1="976" y1="762.34" x2="969.8" y2="762.34" stroke="#000" stroke-width="1.8"/>
<line x1="109" y1="754.26" x2="121.3" y2="754.26" stroke="#000" stroke-width="1.8"/>
<line x1="976" y1="754.26" x2="963.7" y2="754.26" stroke="#000" stroke-width="1.8"/>
<rect x="109.0" y="745.8" width="867.0" height="146.0" fill="none" stroke="#000" stroke-width="1.8"/>
<rect x="109" y="815.9" width="606.9" height="4" fill="#000"/>
<rect x="409.95" y="801.74" width="5" height="32.32" fill="#000"/>
<rect x="715.9" y="819" width="173.4" height="4" fill="#000"/>
<rect x="800.1" y="804.84" width="5" height="32.32" fill="#000"/>
<rect x="889.3" y="875.2" width="86.7" height="4" fill="#000"/>
<rect x="930.15" y="861.04" width="5" height="30.76" fill="#000"/>
<text x="87.14" y="766.06" font-size="32">4</text>
<text x="87.81" y="798.38" font-size="32">2</text>
<text x="87.45" y="830.7" font-size="32">0</text>
<text x="69.12" y="863.02" font-size="32">−2</text>
<text x="68.45" y="895.34" font-size="32">−4</text>
<text x="99.91" y="921.2" font-size="32.7">0</text>
<text x="259.85" y="921.2" font-size="32.7">0.2</text>
<text x="432.91" y="921.2" font-size="32.7">0.4</text>
<text x="606.55" y="921.2" font-size="32.7">0.6</text>
<text x="779.94" y="921.2" font-size="32.7">0.8</text>
<text x="968.86" y="921.2" font-size="32.7"> </text>
<path d="M0.342,0 L0.342,0.688 L0.272,0.688 C0.258,0.625 0.205,0.578 0.095,0.572 L0.095,0.505 L0.254,0.505 L0.254,0 Z" fill="#000" transform="translate(968.86,921.2) scale(32.700,-32.700)"/>
<text x="785.41" y="960.4" font-size="35.1">pDNN score</text>
<path d="M134.30,770.80L144.00,780.50M134.30,758.00L156.70,780.40M145.40,756.30L156.70,767.60" stroke="#151515" stroke-width="1.65" fill="none"/>
<text x="161.62" y="776" font-size="32.5">Syst unc.</text>
<text transform="translate(35.0,882.0) rotate(-90)" x="-1.42" y="0" font-size="33.8">data-bkg</text>
<line x1="45.6" y1="753.8" x2="45.6" y2="882.8" stroke="#000" stroke-width="3"/>
<text transform="translate(67.0,849.0) rotate(-90)" x="0" y="0" font-size="30">σ</text>
<text transform="translate(78.5,829.5) rotate(-90)" x="0" y="0" font-size="22">data</text>
</g>
<g transform="translate(1023,0)">
<rect x="109" y="367.4" width="607.4" height="34.1" fill="#80b6e7"/>
<rect x="109" y="401.2" width="607.4" height="19.8" fill="#d36b57"/>
<rect x="109" y="420.7" width="607.4" height="24.8" fill="#ffc660"/>
<rect x="109" y="445.2" width="607.4" height="15.9" fill="#b8c3c2"/>
<rect x="109" y="460.8" width="607.4" height="36.3" fill="#ad74cf"/>
<rect x="109" y="496.8" width="607.4" height="30.8" fill="#c69d91"/>
<rect x="109" y="527.3" width="607.4" height="21.7" fill="#ef9857"/>
<rect x="109" y="548.7" width="607.4" height="99.3" fill="#d1c8a1"/>
<rect x="109" y="647.7" width="607.4" height="83.3" fill="#a1a4ac"/>
<rect x="715.4" y="434" width="174.4" height="26" fill="#80b6e7"/>
<rect x="715.4" y="459.7" width="174.4" height="18.5" fill="#d36b57"/>
<rect x="715.4" y="477.9" width="174.4" height="27.7" fill="#ffc660"/>
<rect x="715.4" y="505.3" width="174.4" height="19.7" fill="#b8c3c2"/>
<rect x="715.4" y="524.7" width="174.4" height="29.4" fill="#ad74cf"/>
<rect x="715.4" y="553.8" width="174.4" height="38.5" fill="#c69d91"/>
<rect x="715.4" y="592" width="174.4" height="21.1" fill="#ef9857"/>
<rect x="715.4" y="612.8" width="174.4" height="97.3" fill="#d1c8a1"/>
<rect x="715.4" y="709.8" width="174.4" height="21.2" fill="#a1a4ac"/>
<rect x="888.8" y="437" width="87.2" height="23.6" fill="#80b6e7"/>
<rect x="888.8" y="460.3" width="87.2" height="20.7" fill="#d36b57"/>
<rect x="888.8" y="480.7" width="87.2" height="27.9" fill="#ffc660"/>
<rect x="888.8" y="508.3" width="87.2" height="20.7" fill="#b8c3c2"/>
<rect x="888.8" y="528.7" width="87.2" height="33.6" fill="#ad74cf"/>
<rect x="888.8" y="562" width="87.2" height="25.6" fill="#c69d91"/>
<rect x="888.8" y="587.3" width="87.2" height="17.1" fill="#ef9857"/>
<rect x="888.8" y="604.1" width="87.2" height="96" fill="#d1c8a1"/>
<rect x="888.8" y="699.8" width="87.2" height="31.2" fill="#a1a4ac"/>
<g stroke="#000" fill="none">
<line x1="195.7" y1="728.3" x2="195.7" y2="719" stroke="#000" stroke-width="2"/>
<line x1="195.7" y1="74.3" x2="195.7" y2="83.6" stroke="#000" stroke-width="2"/>
<line x1="282.4" y1="728.3" x2="282.4" y2="709.6" stroke="#000" stroke-width="2"/>
<line x1="282.4" y1="74.3" x2="282.4" y2="93" stroke="#000" stroke-width="2"/>
<line x1="369.1" y1="728.3" x2="369.1" y2="719" stroke="#000" stroke-width="2"/>
<line x1="369.1" y1="74.3" x2="369.1" y2="83.6" stroke="#000" stroke-width="2"/>
<line x1="455.8" y1="728.3" x2="455.8" y2="709.6" stroke="#000" stroke-width="2"/>
<line x1="455.8" y1="74.3" x2="455.8" y2="93" stroke="#000" stroke-width="2"/>
<line x1="542.5" y1="728.3" x2="542.5" y2="719" stroke="#000" stroke-width="2"/>
<line x1="542.5" y1="74.3" x2="542.5" y2="83.6" stroke="#000" stroke-width="2"/>
<line x1="629.2" y1="728.3" x2="629.2" y2="709.6" stroke="#000" stroke-width="2"/>
<line x1="629.2" y1="74.3" x2="629.2" y2="93" stroke="#000" stroke-width="2"/>
<line x1="715.9" y1="728.3" x2="715.9" y2="719" stroke="#000" stroke-width="2"/>
<line x1="715.9" y1="74.3" x2="715.9" y2="83.6" stroke="#000" stroke-width="2"/>
<line x1="802.6" y1="728.3" x2="802.6" y2="709.6" stroke="#000" stroke-width="2"/>
<line x1="802.6" y1="74.3" x2="802.6" y2="93" stroke="#000" stroke-width="2"/>
<line x1="889.3" y1="728.3" x2="889.3" y2="719" stroke="#000" stroke-width="2"/>
<line x1="889.3" y1="74.3" x2="889.3" y2="83.6" stroke="#000" stroke-width="2"/>
<line x1="109" y1="722.19" x2="117.5" y2="722.19" stroke="#000" stroke-width="2"/>
<line x1="976" y1="722.19" x2="967.5" y2="722.19" stroke="#000" stroke-width="2"/>
<line x1="109" y1="712.82" x2="117.5" y2="712.82" stroke="#000" stroke-width="2"/>
<line x1="976" y1="712.82" x2="967.5" y2="712.82" stroke="#000" stroke-width="2"/>
<line x1="109" y1="706.17" x2="117.5" y2="706.17" stroke="#000" stroke-width="2"/>
<line x1="976" y1="706.17" x2="967.5" y2="706.17" stroke="#000" stroke-width="2"/>
<line x1="109" y1="701.01" x2="117.5" y2="701.01" stroke="#000" stroke-width="2"/>
<line x1="976" y1="701.01" x2="967.5" y2="701.01" stroke="#000" stroke-width="2"/>
<line x1="109" y1="696.8" x2="117.5" y2="696.8" stroke="#000" stroke-width="2"/>
<line x1="976" y1="696.8" x2="967.5" y2="696.8" stroke="#000" stroke-width="2"/>
<line x1="109" y1="693.24" x2="117.5" y2="693.24" stroke="#000" stroke-width="2"/>
<line x1="976" y1="693.24" x2="967.5" y2="693.24" stroke="#000" stroke-width="2"/>
<line x1="109" y1="690.16" x2="117.5" y2="690.16" stroke="#000" stroke-width="2"/>
<line x1="976" y1="690.16" x2="967.5" y2="690.16" stroke="#000" stroke-width="2"/>
<line x1="109" y1="687.43" x2="117.5" y2="687.43" stroke="#000" stroke-width="2"/>
<line x1="976" y1="687.43" x2="967.5" y2="687.43" stroke="#000" stroke-width="2"/>
<line x1="109" y1="685" x2="126" y2="685" stroke="#000" stroke-width="2"/>
<line x1="976" y1="685" x2="959" y2="685" stroke="#000" stroke-width="2"/>
<line x1="109" y1="668.99" x2="117.5" y2="668.99" stroke="#000" stroke-width="2"/>
<line x1="976" y1="668.99" x2="967.5" y2="668.99" stroke="#000" stroke-width="2"/>
<line x1="109" y1="659.62" x2="117.5" y2="659.62" stroke="#000" stroke-width="2"/>
<line x1="976" y1="659.62" x2="967.5" y2="659.62" stroke="#000" stroke-width="2"/>
<line x1="109" y1="652.97" x2="117.5" y2="652.97" stroke="#000" stroke-width="2"/>
<line x1="976" y1="652.97" x2="967.5" y2="652.97" stroke="#000" stroke-width="2"/>
<line x1="109" y1="647.81" x2="117.5" y2="647.81" stroke="#000" stroke-width="2"/>
<line x1="976" y1="647.81" x2="967.5" y2="647.81" stroke="#000" stroke-width="2"/>
<line x1="109" y1="643.6" x2="117.5" y2="643.6" stroke="#000" stroke-width="2"/>
<line x1="976" y1="643.6" x2="967.5" y2="643.6" stroke="#000" stroke-width="2"/>
<line x1="109" y1="640.04" x2="117.5" y2="640.04" stroke="#000" stroke-width="2"/>
<line x1="976" y1="640.04" x2="967.5" y2="640.04" stroke="#000" stroke-width="2"/>
<line x1="109" y1="636.96" x2="117.5" y2="636.96" stroke="#000" stroke-width="2"/>
<line x1="976" y1="636.96" x2="967.5" y2="636.96" stroke="#000" stroke-width="2"/>
<line x1="109" y1="634.23" x2="117.5" y2="634.23" stroke="#000" stroke-width="2"/>
<line x1="976" y1="634.23" x2="967.5" y2="634.23" stroke="#000" stroke-width="2"/>
<line x1="109" y1="631.8" x2="126" y2="631.8" stroke="#000" stroke-width="2"/>
<line x1="976" y1="631.8" x2="959" y2="631.8" stroke="#000" stroke-width="2"/>
<line x1="109" y1="615.79" x2="117.5" y2="615.79" stroke="#000" stroke-width="2"/>
<line x1="976" y1="615.79" x2="967.5" y2="615.79" stroke="#000" stroke-width="2"/>
<line x1="109" y1="606.42" x2="117.5" y2="606.42" stroke="#000" stroke-width="2"/>
<line x1="976" y1="606.42" x2="967.5" y2="606.42" stroke="#000" stroke-width="2"/>
<line x1="109" y1="599.77" x2="117.5" y2="599.77" stroke="#000" stroke-width="2"/>
<line x1="976" y1="599.77" x2="967.5" y2="599.77" stroke="#000" stroke-width="2"/>
<line x1="109" y1="594.61" x2="117.5" y2="594.61" stroke="#000" stroke-width="2"/>
<line x1="976" y1="594.61" x2="967.5" y2="594.61" stroke="#000" stroke-width="2"/>
<line x1="109" y1="590.4" x2="117.5" y2="590.4" stroke="#000" stroke-width="2"/>
<line x1="976" y1="590.4" x2="967.5" y2="590.4" stroke="#000" stroke-width="2"/>
<line x1="109" y1="586.84" x2="117.5" y2="586.84" stroke="#000" stroke-width="2"/>
<line x1="976" y1="586.84" x2="967.5" y2="586.84" stroke="#000" stroke-width="2"/>
<line x1="109" y1="583.76" x2="117.5" y2="583.76" stroke="#000" stroke-width="2"/>
<line x1="976" y1="583.76" x2="967.5" y2="583.76" stroke="#000" stroke-width="2"/>
<line x1="109" y1="581.03" x2="117.5" y2="581.03" stroke="#000" stroke-width="2"/>
<line x1="976" y1="581.03" x2="967.5" y2="581.03" stroke="#000" stroke-width="2"/>
<line x1="109" y1="578.6" x2="126" y2="578.6" stroke="#000" stroke-width="2"/>
<line x1="976" y1="578.6" x2="959" y2="578.6" stroke="#000" stroke-width="2"/>
<line x1="109" y1="562.59" x2="117.5" y2="562.59" stroke="#000" stroke-width="2"/>
<line x1="976" y1="562.59" x2="967.5" y2="562.59" stroke="#000" stroke-width="2"/>
<line x1="109" y1="553.22" x2="117.5" y2="553.22" stroke="#000" stroke-width="2"/>
<line x1="976" y1="553.22" x2="967.5" y2="553.22" stroke="#000" stroke-width="2"/>
<line x1="109" y1="546.57" x2="117.5" y2="546.57" stroke="#000" stroke-width="2"/>
<line x1="976" y1="546.57" x2="967.5" y2="546.57" stroke="#000" stroke-width="2"/>
<line x1="109" y1="541.41" x2="117.5" y2="541.41" stroke="#000" stroke-width="2"/>
<line x1="976" y1="541.41" x2="967.5" y2="541.41" stroke="#000" stroke-width="2"/>
<line x1="109" y1="537.2" x2="117.5" y2="537.2" stroke="#000" stroke-width="2"/>
<line x1="976" y1="537.2" x2="967.5" y2="537.2" stroke="#000" stroke-width="2"/>
<line x1="109" y1="533.64" x2="117.5" y2="533.64" stroke="#000" stroke-width="2"/>
<line x1="976" y1="533.64" x2="967.5" y2="533.64" stroke="#000" stroke-width="2"/>
<line x1="109" y1="530.56" x2="117.5" y2="530.56" stroke="#000" stroke-width="2"/>
<line x1="976" y1="530.56" x2="967.5" y2="530.56" stroke="#000" stroke-width="2"/>
<line x1="109" y1="527.83" x2="117.5" y2="527.83" stroke="#000" stroke-width="2"/>
<line x1="976" y1="527.83" x2="967.5" y2="527.83" stroke="#000" stroke-width="2"/>
<line x1="109" y1="525.4" x2="126" y2="525.4" stroke="#000" stroke-width="2"/>
<line x1="976" y1="525.4" x2="959" y2="525.4" stroke="#000" stroke-width="2"/>
<line x1="109" y1="509.39" x2="117.5" y2="509.39" stroke="#000" stroke-width="2"/>
<line x1="976" y1="509.39" x2="967.5" y2="509.39" stroke="#000" stroke-width="2"/>
<line x1="109" y1="500.02" x2="117.5" y2="500.02" stroke="#000" stroke-width="2"/>
<line x1="976" y1="500.02" x2="967.5" y2="500.02" stroke="#000" stroke-width="2"/>
<line x1="109" y1="493.37" x2="117.5" y2="493.37" stroke="#000" stroke-width="2"/>
<line x1="976" y1="493.37" x2="967.5" y2="493.37" stroke="#000" stroke-width="2"/>
<line x1="109" y1="488.21" x2="117.5" y2="488.21" stroke="#000" stroke-width="2"/>
<line x1="976" y1="488.21" x2="967.5" y2="488.21" stroke="#000" stroke-width="2"/>
<line x1="109" y1="484" x2="117.5" y2="484" stroke="#000" stroke-width="2"/>
<line x1="976" y1="484" x2="967.5" y2="484" stroke="#000" stroke-width="2"/>
<line x1="109" y1="480.44" x2="117.5" y2="480.44" stroke="#000" stroke-width="2"/>
<line x1="976" y1="480.44" x2="967.5" y2="480.44" stroke="#000" stroke-width="2"/>
<line x1="109" y1="477.36" x2="117.5" y2="477.36" stroke="#000" stroke-width="2"/>
<line x1="976" y1="477.36" x2="967.5" y2="477.36" stroke="#000" stroke-width="2"/>
<line x1="109" y1="474.63" x2="117.5" y2="474.63" stroke="#000" stroke-width="2"/>
<line x1="976" y1="474.63" x2="967.5" y2="474.63" stroke="#000" stroke-width="2"/>
<line x1="109" y1="472.2" x2="126" y2="472.2" stroke="#000" stroke-width="2"/>
<line x1="976" y1="472.2" x2="959" y2="472.2" stroke="#000" stroke-width="2"/>
<line x1="109" y1="456.19" x2="117.5" y2="456.19" stroke="#000" stroke-width="2"/>
<line x1="976" y1="456.19" x2="967.5" y2="456.19" stroke="#000" stroke-width="2"/>
<line x1="109" y1="446.82" x2="117.5" y2="446.82" stroke="#000" stroke-width="2"/>
<line x1="976" y1="446.82" x2="967.5" y2="446.82" stroke="#000" stroke-width="2"/>
<line x1="109" y1="440.17" x2="117.5" y2="440.17" stroke="#000" stroke-width="2"/>
<line x1="976" y1="440.17" x2="967.5" y2="440.17" stroke="#000" stroke-width="2"/>
<line x1="109" y1="435.01" x2="117.5" y2="435.01" stroke="#000" stroke-width="2"/>
<line x1="976" y1="435.01" x2="967.5" y2="435.01" stroke="#000" stroke-width="2"/>
<line x1="109" y1="430.8" x2="117.5" y2="430.8" stroke="#000" stroke-width="2"/>
<line x1="976" y1="430.8" x2="967.5" y2="430.8" stroke="#000" stroke-width="2"/>
<line x1="109" y1="427.24" x2="117.5" y2="427.24" stroke="#000" stroke-width="2"/>
<line x1="976" y1="427.24" x2="967.5" y2="427.24" stroke="#000" stroke-width="2"/>
<line x1="109" y1="424.16" x2="117.5" y2="424.16" stroke="#000" stroke-width="2"/>
<line x1="976" y1="424.16" x2="967.5" y2="424.16" stroke="#000" stroke-width="2"/>
<line x1="109" y1="421.43" x2="117.5" y2="421.43" stroke="#000" stroke-width="2"/>
<line x1="976" y1="421.43" x2="967.5" y2="421.43" stroke="#000" stroke-width="2"/>
<line x1="109" y1="419" x2="126" y2="419" stroke="#000" stroke-width="2"/>
<line x1="976" y1="419" x2="959" y2="419" stroke="#000" stroke-width="2"/>
<line x1="109" y1="402.99" x2="117.5" y2="402.99" stroke="#000" stroke-width="2"/>
<line x1="976" y1="402.99" x2="967.5" y2="402.99" stroke="#000" stroke-width="2"/>
<line x1="109" y1="393.62" x2="117.5" y2="393.62" stroke="#000" stroke-width="2"/>
<line x1="976" y1="393.62" x2="967.5" y2="393.62" stroke="#000" stroke-width="2"/>
<line x1="109" y1="386.97" x2="117.5" y2="386.97" stroke="#000" stroke-width="2"/>
<line x1="976" y1="386.97" x2="967.5" y2="386.97" stroke="#000" stroke-width="2"/>
<line x1="109" y1="381.81" x2="117.5" y2="381.81" stroke="#000" stroke-width="2"/>
<line x1="976" y1="381.81" x2="967.5" y2="381.81" stroke="#000" stroke-width="2"/>
<line x1="109" y1="377.6" x2="117.5" y2="377.6" stroke="#000" stroke-width="2"/>
<line x1="976" y1="377.6" x2="967.5" y2="377.6" stroke="#000" stroke-width="2"/>
<line x1="109" y1="374.04" x2="117.5" y2="374.04" stroke="#000" stroke-width="2"/>
<line x1="976" y1="374.04" x2="967.5" y2="374.04" stroke="#000" stroke-width="2"/>
<line x1="109" y1="370.96" x2="117.5" y2="370.96" stroke="#000" stroke-width="2"/>
<line x1="976" y1="370.96" x2="967.5" y2="370.96" stroke="#000" stroke-width="2"/>
<line x1="109" y1="368.23" x2="117.5" y2="368.23" stroke="#000" stroke-width="2"/>
<line x1="976" y1="368.23" x2="967.5" y2="368.23" stroke="#000" stroke-width="2"/>
<line x1="109" y1="365.8" x2="126" y2="365.8" stroke="#000" stroke-width="2"/>
<line x1="976" y1="365.8" x2="959" y2="365.8" stroke="#000" stroke-width="2"/>
<line x1="109" y1="349.79" x2="117.5" y2="349.79" stroke="#000" stroke-width="2"/>
<line x1="976" y1="349.79" x2="967.5" y2="349.79" stroke="#000" stroke-width="2"/>
<line x1="109" y1="340.42" x2="117.5" y2="340.42" stroke="#000" stroke-width="2"/>
<line x1="976" y1="340.42" x2="967.5" y2="340.42" stroke="#000" stroke-width="2"/>
<line x1="109" y1="333.77" x2="117.5" y2="333.77" stroke="#000" stroke-width="2"/>
<line x1="976" y1="333.77" x2="967.5" y2="333.77" stroke="#000" stroke-width="2"/>
<line x1="109" y1="328.61" x2="117.5" y2="328.61" stroke="#000" stroke-width="2"/>
<line x1="976" y1="328.61" x2="967.5" y2="328.61" stroke="#000" stroke-width="2"/>
<line x1="109" y1="324.4" x2="117.5" y2="324.4" stroke="#000" stroke-width="2"/>
<line x1="976" y1="324.4" x2="967.5" y2="324.4" stroke="#000" stroke-width="2"/>
<line x1="109" y1="320.84" x2="117.5" y2="320.84" stroke="#000" stroke-width="2"/>
<line x1="976" y1="320.84" x2="967.5" y2="320.84" stroke="#000" stroke-width="2"/>
<line x1="109" y1="317.76" x2="117.5" y2="317.76" stroke="#000" stroke-width="2"/>
<line x1="976" y1="317.76" x2="967.5" y2="317.76" stroke="#000" stroke-width="2"/>
<line x1="109" y1="315.03" x2="117.5" y2="315.03" stroke="#000" stroke-width="2"/>
<line x1="976" y1="315.03" x2="967.5" y2="315.03" stroke="#000" stroke-width="2"/>
<line x1="109" y1="312.6" x2="126" y2="312.6" stroke="#000" stroke-width="2"/>
<line x1="976" y1="312.6" x2="959" y2="312.6" stroke="#000" stroke-width="2"/>
<line x1="109" y1="296.59" x2="117.5" y2="296.59" stroke="#000" stroke-width="2"/>
<line x1="976" y1="296.59" x2="967.5" y2="296.59" stroke="#000" stroke-width="2"/>
<line x1="109" y1="287.22" x2="117.5" y2="287.22" stroke="#000" stroke-width="2"/>
<line x1="976" y1="287.22" x2="967.5" y2="287.22" stroke="#000" stroke-width="2"/>
<line x1="109" y1="280.57" x2="117.5" y2="280.57" stroke="#000" stroke-width="2"/>
<line x1="976" y1="280.57" x2="967.5" y2="280.57" stroke="#000" stroke-width="2"/>
<line x1="109" y1="275.41" x2="117.5" y2="275.41" stroke="#000" stroke-width="2"/>
<line x1="976" y1="275.41" x2="967.5" y2="275.41" stroke="#000" stroke-width="2"/>
<line x1="109" y1="271.2" x2="117.5" y2="271.2" stroke="#000" stroke-width="2"/>
<line x1="976" y1="271.2" x2="967.5" y2="271.2" stroke="#000" stroke-width="2"/>
<line x1="109" y1="267.64" x2="117.5" y2="267.64" stroke="#000" stroke-width="2"/>
<line x1="976" y1="267.64" x2="967.5" y2="267.64" stroke="#000" stroke-width="2"/>
<line x1="109" y1="264.56" x2="117.5" y2="264.56" stroke="#000" stroke-width="2"/>
<line x1="976" y1="264.56" x2="967.5" y2="264.56" stroke="#000" stroke-width="2"/>
<line x1="109" y1="261.83" x2="117.5" y2="261.83" stroke="#000" stroke-width="2"/>
<line x1="976" y1="261.83" x2="967.5" y2="261.83" stroke="#000" stroke-width="2"/>
<line x1="109" y1="259.4" x2="126" y2="259.4" stroke="#000" stroke-width="2"/>
<line x1="976" y1="259.4" x2="959" y2="259.4" stroke="#000" stroke-width="2"/>
<line x1="109" y1="243.39" x2="117.5" y2="243.39" stroke="#000" stroke-width="2"/>
<line x1="976" y1="243.39" x2="967.5" y2="243.39" stroke="#000" stroke-width="2"/>
<line x1="109" y1="234.02" x2="117.5" y2="234.02" stroke="#000" stroke-width="2"/>
<line x1="976" y1="234.02" x2="967.5" y2="234.02" stroke="#000" stroke-width="2"/>
<line x1="109" y1="227.37" x2="117.5" y2="227.37" stroke="#000" stroke-width="2"/>
<line x1="976" y1="227.37" x2="967.5" y2="227.37" stroke="#000" stroke-width="2"/>
<line x1="109" y1="222.21" x2="117.5" y2="222.21" stroke="#000" stroke-width="2"/>
<line x1="976" y1="222.21" x2="967.5" y2="222.21" stroke="#000" stroke-width="2"/>
<line x1="109" y1="218" x2="117.5" y2="218" stroke="#000" stroke-width="2"/>
<line x1="976" y1="218" x2="967.5" y2="218" stroke="#000" stroke-width="2"/>
<line x1="109" y1="214.44" x2="117.5" y2="214.44" stroke="#000" stroke-width="2"/>
<line x1="976" y1="214.44" x2="967.5" y2="214.44" stroke="#000" stroke-width="2"/>
<line x1="109" y1="211.36" x2="117.5" y2="211.36" stroke="#000" stroke-width="2"/>
<line x1="976" y1="211.36" x2="967.5" y2="211.36" stroke="#000" stroke-width="2"/>
<line x1="109" y1="208.63" x2="117.5" y2="208.63" stroke="#000" stroke-width="2"/>
<line x1="976" y1="208.63" x2="967.5" y2="208.63" stroke="#000" stroke-width="2"/>
<line x1="109" y1="206.2" x2="126" y2="206.2" stroke="#000" stroke-width="2"/>
<line x1="976" y1="206.2" x2="959" y2="206.2" stroke="#000" stroke-width="2"/>
<line x1="109" y1="190.19" x2="117.5" y2="190.19" stroke="#000" stroke-width="2"/>
<line x1="976" y1="190.19" x2="967.5" y2="190.19" stroke="#000" stroke-width="2"/>
<line x1="109" y1="180.82" x2="117.5" y2="180.82" stroke="#000" stroke-width="2"/>
<line x1="976" y1="180.82" x2="967.5" y2="180.82" stroke="#000" stroke-width="2"/>
<line x1="109" y1="174.17" x2="117.5" y2="174.17" stroke="#000" stroke-width="2"/>
<line x1="976" y1="174.17" x2="967.5" y2="174.17" stroke="#000" stroke-width="2"/>
<line x1="109" y1="169.01" x2="117.5" y2="169.01" stroke="#000" stroke-width="2"/>
<line x1="976" y1="169.01" x2="967.5" y2="169.01" stroke="#000" stroke-width="2"/>
<line x1="109" y1="164.8" x2="117.5" y2="164.8" stroke="#000" stroke-width="2"/>
<line x1="976" y1="164.8" x2="967.5" y2="164.8" stroke="#000" stroke-width="2"/>
<line x1="109" y1="161.24" x2="117.5" y2="161.24" stroke="#000" stroke-width="2"/>
<line x1="976" y1="161.24" x2="967.5" y2="161.24" stroke="#000" stroke-width="2"/>
<line x1="109" y1="158.16" x2="117.5" y2="158.16" stroke="#000" stroke-width="2"/>
<line x1="976" y1="158.16" x2="967.5" y2="158.16" stroke="#000" stroke-width="2"/>
<line x1="109" y1="155.43" x2="117.5" y2="155.43" stroke="#000" stroke-width="2"/>
<line x1="976" y1="155.43" x2="967.5" y2="155.43" stroke="#000" stroke-width="2"/>
<line x1="109" y1="153" x2="126" y2="153" stroke="#000" stroke-width="2"/>
<line x1="976" y1="153" x2="959" y2="153" stroke="#000" stroke-width="2"/>
<line x1="109" y1="136.99" x2="117.5" y2="136.99" stroke="#000" stroke-width="2"/>
<line x1="976" y1="136.99" x2="967.5" y2="136.99" stroke="#000" stroke-width="2"/>
<line x1="109" y1="127.62" x2="117.5" y2="127.62" stroke="#000" stroke-width="2"/>
<line x1="976" y1="127.62" x2="967.5" y2="127.62" stroke="#000" stroke-width="2"/>
<line x1="109" y1="120.97" x2="117.5" y2="120.97" stroke="#000" stroke-width="2"/>
<line x1="976" y1="120.97" x2="967.5" y2="120.97" stroke="#000" stroke-width="2"/>
<line x1="109" y1="115.81" x2="117.5" y2="115.81" stroke="#000" stroke-width="2"/>
<line x1="976" y1="115.81" x2="967.5" y2="115.81" stroke="#000" stroke-width="2"/>
<line x1="109" y1="111.6" x2="117.5" y2="111.6" stroke="#000" stroke-width="2"/>
<line x1="976" y1="111.6" x2="967.5" y2="111.6" stroke="#000" stroke-width="2"/>
<line x1="109" y1="108.04" x2="117.5" y2="108.04" stroke="#000" stroke-width="2"/>
<line x1="976" y1="108.04" x2="967.5" y2="108.04" stroke="#000" stroke-width="2"/>
<line x1="109" y1="104.96" x2="117.5" y2="104.96" stroke="#000" stroke-width="2"/>
<line x1="976" y1="104.96" x2="967.5" y2="104.96" stroke="#000" stroke-width="2"/>
<line x1="109" y1="102.23" x2="117.5" y2="102.23" stroke="#000" stroke-width="2"/>
<line x1="976" y1="102.23" x2="967.5" y2="102.23" stroke="#000" stroke-width="2"/>
<line x1="109" y1="99.8" x2="126" y2="99.8" stroke="#000" stroke-width="2"/>
<line x1="976" y1="99.8" x2="959" y2="99.8" stroke="#000" stroke-width="2"/>
<line x1="109" y1="83.79" x2="117.5" y2="83.79" stroke="#000" stroke-width="2"/>
<line x1="976" y1="83.79" x2="967.5" y2="83.79" stroke="#000" stroke-width="2"/>
</g>
<rect x="109" y="364.7" width="606.9" height="5.4" fill="#000"/>
<rect x="715.9" y="431.3" width="173.4" height="5.4" fill="#000"/>
<rect x="889.3" y="434.3" width="86.7" height="5.4" fill="#000"/>
<rect x="109" y="725" width="868" height="7" fill="#000"/>
<rect x="109.0" y="74.3" width="867.0" height="654.0" fill="none" stroke="#000" stroke-width="2.4"/>
<circle cx="412.45" cy="367.4" r="5.5" fill="#000"/>
<circle cx="802.6" cy="434" r="5.5" fill="#000"/>
<circle cx="932.65" cy="437" r="5.5" fill="#000"/>
<text transform="translate(74.76,100.2) scale(0.9600,1)" font-size="24.3"> 0</text>
<path d="M0.342,0 L0.342,0.688 L0.272,0.688 C0.258,0.625 0.205,0.578 0.095,0.572 L0.095,0.505 L0.254,0.505 L0.254,0 Z" fill="#000" transform="translate(74.76,100.2) scale(23.328,-24.300)"/>
<text transform="translate(37.87,114.9) scale(0.9550,1)" font-size="36.6"> 0</text>
<path d="M0.342,0 L0.342,0.688 L0.272,0.688 C0.258,0.625 0.205,0.578 0.095,0.572 L0.095,0.505 L0.254,0.505 L0.254,0 Z" fill="#000" transform="translate(37.87,114.9) scale(34.953,-36.600)"/>
<text transform="translate(87.93,153.4) scale(0.9600,1)" font-size="24.3">9</text>
<text transform="translate(49.91,168.1) scale(0.9550,1)" font-size="36.6"> 0</text>
<path d="M0.342,0 L0.342,0.688 L0.272,0.688 C0.258,0.625 0.205,0.578 0.095,0.572 L0.095,0.505 L0.254,0.505 L0.254,0 Z" fill="#000" transform="translate(49.91,168.1) scale(34.953,-36.600)"/>
<text transform="translate(87.84,206.6) scale(0.9600,1)" font-size="24.3">8</text>
<text transform="translate(49.74,221.3) scale(0.9550,1)" font-size="36.6"> 0</text>
<path d="M0.342,0 L0.342,0.688 L0.272,0.688 C0.258,0.625 0.205,0.578 0.095,0.572 L0.095,0.505 L0.254,0.505 L0.254,0 Z" fill="#000" transform="translate(49.74,221.3) scale(34.953,-36.600)"/>
<text transform="translate(88,259.8) scale(0.9600,1)" font-size="24.3">7</text>
<text transform="translate(50.08,274.5) scale(0.9550,1)" font-size="36.6"> 0</text>
<path d="M0.342,0 L0.342,0.688 L0.272,0.688 C0.258,0.625 0.205,0.578 0.095,0.572 L0.095,0.505 L0.254,0.505 L0.254,0 Z" fill="#000" transform="translate(50.08,274.5) scale(34.953,-36.600)"/>
<text transform="translate(87.85,313) scale(0.9600,1)" font-size="24.3">6</text>
<text transform="translate(49.92,327.7) scale(0.9550,1)" font-size="36.6"> 0</text>
<path d="M0.342,0 L0.342,0.688 L0.272,0.688 C0.258,0.625 0.205,0.578 0.095,0.572 L0.095,0.505 L0.254,0.505 L0.254,0 Z" fill="#000" transform="translate(49.92,327.7) scale(34.953,-36.600)"/>
<text transform="translate(87.81,366.2) scale(0.9600,1)" font-size="24.3">5</text>
<text transform="translate(49.63,380.9) scale(0.9550,1)" font-size="36.6"> 0</text>
<path d="M0.342,0 L0.342,0.688 L0.272,0.688 C0.258,0.625 0.205,0.578 0.095,0.572 L0.095,0.505 L0.254,0.505 L0.254,0 Z" fill="#000" transform="translate(49.63,380.9) scale(34.953,-36.600)"/>
<text transform="translate(87.51,419.4) scale(0.9600,1)" font-size="24.3">4</text>
<text transform="translate(48.93,434.1) scale(0.9550,1)" font-size="36.6"> 0</text>
<path d="M0.342,0 L0.342,0.688 L0.272,0.688 C0.258,0.625 0.205,0.578 0.095,0.572 L0.095,0.505 L0.254,0.505 L0.254,0 Z" fill="#000" transform="translate(48.93,434.1) scale(34.953,-36.600)"/>
<text transform="translate(87.85,472.6) scale(0.9600,1)" font-size="24.3">3</text>
<text transform="translate(49.63,487.3) scale(0.9550,1)" font-size="36.6"> 0</text>
<path d="M0.342,0 L0.342,0.688 L0.272,0.688 C0.258,0.625 0.205,0.578 0.095,0.572 L0.095,0.505 L0.254,0.505 L0.254,0 Z" fill="#000" transform="translate(49.63,487.3) scale(34.953,-36.600)"/>
<text transform="translate(88,525.8) scale(0.9600,1)" font-size="24.3">2</text>
<text transform="translate(50.06,540.5) scale(0.9550,1)" font-size="36.6"> 0</text>
<path d="M0.342,0 L0.342,0.688 L0.272,0.688 C0.258,0.625 0.205,0.578 0.095,0.572 L0.095,0.505 L0.254,0.505 L0.254,0 Z" fill="#000" transform="translate(50.06,540.5) scale(34.953,-36.600)"/>
<text transform="translate(62.29,590.7) scale(0.9550,1)" font-size="36.6"> 0</text>
<path d="M0.342,0 L0.342,0.688 L0.272,0.688 C0.258,0.625 0.205,0.578 0.095,0.572 L0.095,0.505 L0.254,0.505 L0.254,0 Z" fill="#000" transform="translate(62.29,590.7) scale(34.953,-36.600)"/>
<text transform="translate(87.85,643.9) scale(0.9550,1)" font-size="36.6"> </text>
<path d="M0.342,0 L0.342,0.688 L0.272,0.688 C0.258,0.625 0.205,0.578 0.095,0.572 L0.095,0.505 L0.254,0.505 L0.254,0 Z" fill="#000" transform="translate(87.85,643.9) scale(34.953,-36.600)"/>
<text transform="translate(78.2,685.4) scale(0.9600,1)" font-size="24.3">− </text>
<path d="M0.342,0 L0.342,0.688 L0.272,0.688 C0.258,0.625 0.205,0.578 0.095,0.572 L0.095,0.505 L0.254,0.505 L0.254,0 Z" fill="#000" transform="translate(91.82,685.4) scale(23.328,-24.300)"/>
<text transform="translate(40.24,700.1) scale(0.9550,1)" font-size="36.6"> 0</text>
<path d="M0.342,0 L0.342,0.688 L0.272,0.688 C0.258,0.625 0.205,0.578 0.095,0.572 L0.095,0.505 L0.254,0.505 L0.254,0 Z" fill="#000" transform="translate(40.24,700.1) scale(34.953,-36.600)"/>
<text transform="translate(34.6,82.3) rotate(-90)" x="-165.76" y="0" font-size="36">Events/bin</text>
<text transform="translate(105.74,64.4) scale(0.9533,1)" font-size="55.14" font-weight="bold">CMS</text>
<text transform="translate(234.39,64.7) scale(0.9360,1)" font-size="42.01" font-style="italic">Preliminary</text>
<text transform="translate(816.21,59.3) scale(0.9605,1)" font-size="43.46">( 3 TeV)</text>
<path d="M0.342,0 L0.342,0.688 L0.272,0.688 C0.258,0.625 0.205,0.578 0.095,0.572 L0.095,0.505 L0.254,0.505 L0.254,0 Z" fill="#000" transform="translate(830.11,59.3) scale(41.741,-43.459)"/>
<text transform="translate(671.25,59.3) scale(0.9558,1)" font-size="43.46"> 38 fb</text>
<path d="M0.342,0 L0.342,0.688 L0.272,0.688 C0.258,0.625 0.205,0.578 0.095,0.572 L0.095,0.505 L0.254,0.505 L0.254,0 Z" fill="#000" transform="translate(671.25,59.3) scale(41.539,-43.459)"/>
<rect x="788.4" y="31" width="6.8" height="2.6" fill="#000"/>
<text x="795.43" y="39.5" font-size="27"> </text>
<path d="M0.342,0 L0.342,0.688 L0.272,0.688 C0.258,0.625 0.205,0.578 0.095,0.572 L0.095,0.505 L0.254,0.505 L0.254,0 Z" fill="#000" transform="translate(795.43,39.5) scale(27.000,-27.000)"/>
<text x="489" y="312.7" font-size="36" font-family="Liberation Serif">μ</text>
<text x="509.46" y="312.7" font-size="35">, 2b2j</text>
<rect x="161.9" y="105.9" width="5.2" height="28" fill="#000"/>
<circle cx="164.5" cy="119.9" r="5.7" fill="#000"/>
<text x="197.46" y="129.7" font-size="31">Data</text>
<rect x="316.9" y="103.6" width="49" height="32.6" fill="#80b6e7"/>
<text x="376.43" y="129.7" font-size="31">tt</text>
<line x1="384.42" y1="105.52" x2="392.64" y2="105.52" stroke="#000" stroke-width="2.79"/>
<rect x="559.6" y="103.6" width="49" height="32.6" fill="#d36b57"/>
<text x="618.19" y="129.7" font-size="31">Single t</text>
<rect x="140" y="150.13" width="49" height="32.6" fill="#ffc660"/>
<text x="199.86" y="176.23" font-size="31">W+jets</text>
<rect x="316.9" y="150.13" width="49" height="32.6" fill="#b8c3c2"/>
<text x="374.36" y="176.23" font-size="31">Nonprompt</text>
<rect x="559.6" y="150.13" width="49" height="32.6" fill="#ad74cf"/>
<text x="618.62" y="176.23" font-size="31">Z+jets</text>
<rect x="140" y="196.66" width="49" height="32.6" fill="#c69d91"/>
<text x="199.86" y="222.76" font-size="31">VVV</text>
<rect x="316.9" y="196.66" width="49" height="32.6" fill="#ef9857"/>
<text x="376.43" y="222.76" font-size="31">ttX</text>
<line x1="384.42" y1="198.58" x2="392.64" y2="198.58" stroke="#000" stroke-width="2.79"/>
<rect x="559.6" y="196.66" width="49" height="32.6" fill="#d1c8a1"/>
<text x="619.13" y="222.76" font-size="31">ttW</text>
<line x1="627.12" y1="198.58" x2="635.34" y2="198.58" stroke="#000" stroke-width="2.79"/>
<rect x="140" y="243.19" width="49" height="32.6" fill="#a1a4ac"/>
<text x="199.53" y="269.29" font-size="31">ttXY</text>
<line x1="207.52" y1="245.11" x2="215.74" y2="245.11" stroke="#000" stroke-width="2.79"/>
<path d="M316.60,269.20L323.79,276.39M316.60,256.30L336.69,276.39M316.60,243.40L349.59,276.39M328.69,242.59L362.49,276.39M341.59,242.59L366.20,267.20M354.49,242.59L366.20,254.30" stroke="#505050" stroke-width="1.4" fill="none"/>
<text x="375.49" y="269.29" font-size="31">Syst unc.</text>
<rect x="559.6" y="256.69" width="49" height="5.6" fill="#000"/>
<text x="618.74" y="269.29" font-size="31">m</text>
<text x="642.14" y="279.59" font-size="21.4">H</text>
<text x="655.72" y="270.59" font-size="15.2">±</text>
<text x="671.29" y="269.29" font-size="31">=  000 GeV (x2.5)</text>
<path d="M0.342,0 L0.342,0.688 L0.272,0.688 C0.258,0.625 0.205,0.578 0.095,0.572 L0.095,0.505 L0.254,0.505 L0.254,0 Z" fill="#000" transform="translate(698.00,269.29) scale(31.000,-31.000)"/>
<path d="M109.00,822.30L121.60,834.90M109.00,809.50L134.40,834.90M115.00,802.70L147.20,834.90M127.80,802.70L160.00,834.90M140.60,802.70L172.80,834.90M153.40,802.70L185.60,834.90M166.20,802.70L198.40,834.90M179.00,802.70L211.20,834.90M191.80,802.70L224.00,834.90M204.60,802.70L236.80,834.90M217.40,802.70L249.60,834.90M230.20,802.70L262.40,834.90M243.00,802.70L275.20,834.90M255.80,802.70L288.00,834.90M268.60,802.70L300.80,834.90M281.40,802.70L313.60,834.90M294.20,802.70L326.40,834.90M307.00,802.70L339.20,834.90M319.80,802.70L352.00,834.90M332.60,802.70L364.80,834.90M345.40,802.70L377.60,834.90M358.20,802.70L390.40,834.90M371.00,802.70L403.20,834.90M383.80,802.70L416.00,834.90M396.60,802.70L428.80,834.90M409.40,802.70L441.60,834.90M422.20,802.70L454.40,834.90M435.00,802.70L467.20,834.90M447.80,802.70L480.00,834.90M460.60,802.70L492.80,834.90M473.40,802.70L505.60,834.90M486.20,802.70L518.40,834.90M499.00,802.70L531.20,834.90M511.80,802.70L544.00,834.90M524.60,802.70L556.80,834.90M537.40,802.70L569.60,834.90M550.20,802.70L582.40,834.90M563.00,802.70L595.20,834.90M575.80,802.70L608.00,834.90M588.60,802.70L620.80,834.90M601.40,802.70L633.60,834.90M614.20,802.70L646.40,834.90M627.00,802.70L659.20,834.90M639.80,802.70L672.00,834.90M652.60,802.70L684.80,834.90M665.40,802.70L697.60,834.90M678.20,802.70L710.40,834.90M691.00,802.70L715.90,827.60M703.80,802.70L715.90,814.80" stroke="#151515" stroke-width="1.65" fill="none"/>
<path d="M715.90,827.60L718.80,830.50M715.90,814.80L731.60,830.50M716.60,802.70L744.40,830.50M729.40,802.70L757.20,830.50M742.20,802.70L770.00,830.50M755.00,802.70L782.80,830.50M767.80,802.70L795.60,830.50M780.60,802.70L808.40,830.50M793.40,802.70L821.20,830.50M806.20,802.70L834.00,830.50M819.00,802.70L846.80,830.50M831.80,802.70L859.60,830.50M844.60,802.70L872.40,830.50M857.40,802.70L885.20,830.50M870.20,802.70L889.30,821.80M883.00,802.70L889.30,809.00" stroke="#151515" stroke-width="1.65" fill="none"/>
<path d="M889.30,821.80L902.40,834.90M889.30,809.00L915.20,834.90M896.60,803.50L928.00,834.90M909.40,803.50L940.80,834.90M922.20,803.50L953.60,834.90M935.00,803.50L966.40,834.90M947.80,803.50L976.00,831.70M960.60,803.50L976.00,818.90M973.40,803.50L976.00,806.10" stroke="#151515" stroke-width="1.65" fill="none"/>
<line x1="195.7" y1="891.8" x2="195.7" y2="888.8" stroke="#000" stroke-width="1.8"/>
<line x1="195.7" y1="745.8" x2="195.7" y2="748.8" stroke="#000" stroke-width="1.8"/>
<line x1="282.4" y1="891.8" x2="282.4" y2="885.8" stroke="#000" stroke-width="1.8"/>
<line x1="282.4" y1="745.8" x2="282.4" y2="751.8" stroke="#000" stroke-width="1.8"/>
<line x1="369.1" y1="891.8" x2="369.1" y2="888.8" stroke="#000" stroke-width="1.8"/>
<line x1="369.1" y1="745.8" x2="369.1" y2="748.8" stroke="#000" stroke-width="1.8"/>
<line x1="455.8" y1="891.8" x2="455.8" y2="885.8" stroke="#000" stroke-width="1.8"/>
<line x1="455.8" y1="745.8" x2="455.8" y2="751.8" stroke="#000" stroke-width="1.8"/>
<line x1="542.5" y1="891.8" x2="542.5" y2="888.8" stroke="#000" stroke-width="1.8"/>
<line x1="542.5" y1="745.8" x2="542.5" y2="748.8" stroke="#000" stroke-width="1.8"/>
<line x1="629.2" y1="891.8" x2="629.2" y2="885.8" stroke="#000" stroke-width="1.8"/>
<line x1="629.2" y1="745.8" x2="629.2" y2="751.8" stroke="#000" stroke-width="1.8"/>
<line x1="715.9" y1="891.8" x2="715.9" y2="888.8" stroke="#000" stroke-width="1.8"/>
<line x1="715.9" y1="745.8" x2="715.9" y2="748.8" stroke="#000" stroke-width="1.8"/>
<line x1="802.6" y1="891.8" x2="802.6" y2="885.8" stroke="#000" stroke-width="1.8"/>
<line x1="802.6" y1="745.8" x2="802.6" y2="751.8" stroke="#000" stroke-width="1.8"/>
<line x1="889.3" y1="891.8" x2="889.3" y2="888.8" stroke="#000" stroke-width="1.8"/>
<line x1="889.3" y1="745.8" x2="889.3" y2="748.8" stroke="#000" stroke-width="1.8"/>
<line x1="109" y1="883.54" x2="121.3" y2="883.54" stroke="#000" stroke-width="1.8"/>
<line x1="976" y1="883.54" x2="963.7" y2="883.54" stroke="#000" stroke-width="1.8"/>
<line x1="109" y1="875.46" x2="115.2" y2="875.46" stroke="#000" stroke-width="1.8"/>
<line x1="976" y1="875.46" x2="969.8" y2="875.46" stroke="#000" stroke-width="1.8"/>
<line x1="109" y1="867.38" x2="115.2" y2="867.38" stroke="#000" stroke-width="1.8"/>
<line x1="976" y1="867.38" x2="969.8" y2="867.38" stroke="#000" stroke-width="1.8"/>
<line x1="109" y1="859.3" x2="115.2" y2="859.3" stroke="#000" stroke-width="1.8"/>
<line x1="976" y1="859.3" x2="969.8" y2="859.3" stroke="#000" stroke-width="1.8"/>
<line x1="109" y1="851.22" x2="121.3" y2="851.22" stroke="#000" stroke-width="1.8"/>
<line x1="976" y1="851.22" x2="963.7" y2="851.22" stroke="#000" stroke-width="1.8"/>
<line x1="109" y1="843.14" x2="115.2" y2="843.14" stroke="#000" stroke-width="1.8"/>
<line x1="976" y1="843.14" x2="969.8" y2="843.14" stroke="#000" stroke-width="1.8"/>
<line x1="109" y1="835.06" x2="115.2" y2="835.06" stroke="#000" stroke-width="1.8"/>
<line x1="976" y1="835.06" x2="969.8" y2="835.06" stroke="#000" stroke-width="1.8"/>
<line x1="109" y1="826.98" x2="115.2" y2="826.98" stroke="#000" stroke-width="1.8"/>
<line x1="976" y1="826.98" x2="969.8" y2="826.98" stroke="#000" stroke-width="1.8"/>
<line x1="109" y1="818.9" x2="121.3" y2="818.9" stroke="#000" stroke-width="1.8"/>
<line x1="976" y1="818.9" x2="963.7" y2="818.9" stroke="#000" stroke-width="1.8"/>
<line x1="109" y1="810.82" x2="115.2" y2="810.82" stroke="#000" stroke-width="1.8"/>
<line x1="976" y1="810.82" x2="969.8" y2="810.82" stroke="#000" stroke-width="1.8"/>
<line x1="109" y1="802.74" x2="115.2" y2="802.74" stroke="#000" stroke-width="1.8"/>
<line x1="976" y1="802.74" x2="969.8" y2="802.74" stroke="#000" stroke-width="1.8"/>
<line x1="109" y1="794.66" x2="115.2" y2="794.66" stroke="#000" stroke-width="1.8"/>
<line x1="976" y1="794.66" x2="969.8" y2="794.66" stroke="#000" stroke-width="1.8"/>
<line x1="109" y1="786.58" x2="121.3" y2="786.58" stroke="#000" stroke-width="1.8"/>
<line x1="976" y1="786.58" x2="963.7" y2="786.58" stroke="#000" stroke-width="1.8"/>
<line x1="109" y1="778.5" x2="115.2" y2="778.5" stroke="#000" stroke-width="1.8"/>
<line x1="976" y1="778.5" x2="969.8" y2="778.5" stroke="#000" stroke-width="1.8"/>
<line x1="109" y1="770.42" x2="115.2" y2="770.42" stroke="#000" stroke-width="1.8"/>
<line x1="976" y1="770.42" x2="969.8" y2="770.42" stroke="#000" stroke-width="1.8"/>
<line x1="109" y1="762.34" x2="115.2" y2="762.34" stroke="#000" stroke-width="1.8"/>
<line x1="976" y1="762.34" x2="969.8" y2="762.34" stroke="#000" stroke-width="1.8"/>
<line x1="109" y1="754.26" x2="121.3" y2="754.26" stroke="#000" stroke-width="1.8"/>
<line x1="976" y1="754.26" x2="963.7" y2="754.26" stroke="#000" stroke-width="1.8"/>
<rect x="109.0" y="745.8" width="867.0" height="146.0" fill="none" stroke="#000" stroke-width="1.8"/>
<rect x="109" y="821" width="606.9" height="4" fill="#000"/>
<rect x="409.95" y="806.84" width="5" height="32.32" fill="#000"/>
<rect x="715.9" y="804.5" width="173.4" height="4" fill="#000"/>
<rect x="800.1" y="790.34" width="5" height="32.32" fill="#000"/>
<rect x="889.3" y="883.4" width="86.7" height="4" fill="#000"/>
<rect x="930.15" y="869.24" width="5" height="22.56" fill="#000"/>
<text x="87.14" y="766.06" font-size="32">4</text>
<text x="87.81" y="798.38" font-size="32">2</text>
<text x="87.45" y="830.7" font-size="32">0</text>
<text x="69.12" y="863.02" font-size="32">−2</text>
<text x="68.45" y="895.34" font-size="32">−4</text>
<text x="99.91" y="921.2" font-size="32.7">0</text>
<text x="259.85" y="921.2" font-size="32.7">0.2</text>
<text x="432.91" y="921.2" font-size="32.7">0.4</text>
<text x="606.55" y="921.2" font-size="32.7">0.6</text>
<text x="779.94" y="921.2" font-size="32.7">0.8</text>
<text x="968.86" y="921.2" font-size="32.7"> </text>
<path d="M0.342,0 L0.342,0.688 L0.272,0.688 C0.258,0.625 0.205,0.578 0.095,0.572 L0.095,0.505 L0.254,0.505 L0.254,0 Z" fill="#000" transform="translate(968.86,921.2) scale(32.700,-32.700)"/>
<text x="785.41" y="960.4" font-size="35.1">pDNN score</text>
<path d="M134.30,770.80L144.00,780.50M134.30,758.00L156.70,780.40M145.40,756.30L156.70,767.60" stroke="#151515" stroke-width="1.65" fill="none"/>
<text x="161.62" y="776" font-size="32.5">Syst unc.</text>
<text transform="translate(35.0,882.0) rotate(-90)" x="-1.42" y="0" font-size="33.8">data-bkg</text>
<line x1="45.6" y1="753.8" x2="45.6" y2="882.8" stroke="#000" stroke-width="3"/>
<text transform="translate(67.0,849.0) rotate(-90)" x="0" y="0" font-size="30">σ</text>
<text transform="translate(78.5,829.5) rotate(-90)" x="0" y="0" font-size="22">data</text>
</g>
<g transform="translate(-8,997)">
<rect x="109" y="385.2" width="780.8" height="54.4" fill="#80b6e7"/>
<rect x="109" y="439.3" width="780.8" height="20.1" fill="#d36b57"/>
<rect x="109" y="459.1" width="780.8" height="12.45" fill="#b8c3c2"/>
<rect x="109" y="471.25" width="780.8" height="23.9" fill="#ffc660"/>
<rect x="109" y="494.85" width="780.8" height="21.95" fill="#ad74cf"/>
<rect x="109" y="516.5" width="780.8" height="28.05" fill="#ef9857"/>
<rect x="109" y="544.25" width="780.8" height="20.8" fill="#c69d91"/>
<rect x="109" y="564.75" width="780.8" height="76.35" fill="#d1c8a1"/>
<rect x="109" y="640.8" width="780.8" height="90.2" fill="#a1a4ac"/>
<rect x="888.8" y="472.4" width="87.2" height="34.8" fill="#80b6e7"/>
<rect x="888.8" y="506.9" width="87.2" height="24.9" fill="#d36b57"/>
<rect x="888.8" y="531.5" width="87.2" height="10.1" fill="#b8c3c2"/>
<rect x="888.8" y="541.3" width="87.2" height="29.2" fill="#ffc660"/>
<rect x="888.8" y="570.2" width="87.2" height="23" fill="#ad74cf"/>
<rect x="888.8" y="592.9" width="87.2" height="21.5" fill="#ef9857"/>
<rect x="888.8" y="614.1" width="87.2" height="42.1" fill="#c69d91"/>
<rect x="888.8" y="655.9" width="87.2" height="43.6" fill="#d1c8a1"/>
<rect x="888.8" y="699.2" width="87.2" height="31.8" fill="#a1a4ac"/>
<g stroke="#000" fill="none">
<line x1="195.7" y1="728.3" x2="195.7" y2="719" stroke="#000" stroke-width="2"/>
<line x1="195.7" y1="75" x2="195.7" y2="84.3" stroke="#000" stroke-width="2"/>
<line x1="282.4" y1="728.3" x2="282.4" y2="709.6" stroke="#000" stroke-width="2"/>
<line x1="282.4" y1="75" x2="282.4" y2="93.7" stroke="#000" stroke-width="2"/>
<line x1="369.1" y1="728.3" x2="369.1" y2="719" stroke="#000" stroke-width="2"/>
<line x1="369.1" y1="75" x2="369.1" y2="84.3" stroke="#000" stroke-width="2"/>
<line x1="455.8" y1="728.3" x2="455.8" y2="709.6" stroke="#000" stroke-width="2"/>
<line x1="455.8" y1="75" x2="455.8" y2="93.7" stroke="#000" stroke-width="2"/>
<line x1="542.5" y1="728.3" x2="542.5" y2="719" stroke="#000" stroke-width="2"/>
<line x1="542.5" y1="75" x2="542.5" y2="84.3" stroke="#000" stroke-width="2"/>
<line x1="629.2" y1="728.3" x2="629.2" y2="709.6" stroke="#000" stroke-width="2"/>
<line x1="629.2" y1="75" x2="629.2" y2="93.7" stroke="#000" stroke-width="2"/>
<line x1="715.9" y1="728.3" x2="715.9" y2="719" stroke="#000" stroke-width="2"/>
<line x1="715.9" y1="75" x2="715.9" y2="84.3" stroke="#000" stroke-width="2"/>
<line x1="802.6" y1="728.3" x2="802.6" y2="709.6" stroke="#000" stroke-width="2"/>
<line x1="802.6" y1="75" x2="802.6" y2="93.7" stroke="#000" stroke-width="2"/>
<line x1="889.3" y1="728.3" x2="889.3" y2="719" stroke="#000" stroke-width="2"/>
<line x1="889.3" y1="75" x2="889.3" y2="84.3" stroke="#000" stroke-width="2"/>
<line x1="109" y1="724.05" x2="117.5" y2="724.05" stroke="#000" stroke-width="2"/>
<line x1="976" y1="724.05" x2="967.5" y2="724.05" stroke="#000" stroke-width="2"/>
<line x1="109" y1="714.08" x2="117.5" y2="714.08" stroke="#000" stroke-width="2"/>
<line x1="976" y1="714.08" x2="967.5" y2="714.08" stroke="#000" stroke-width="2"/>
<line x1="109" y1="707.02" x2="117.5" y2="707.02" stroke="#000" stroke-width="2"/>
<line x1="976" y1="707.02" x2="967.5" y2="707.02" stroke="#000" stroke-width="2"/>
<line x1="109" y1="701.53" x2="117.5" y2="701.53" stroke="#000" stroke-width="2"/>
<line x1="976" y1="701.53" x2="967.5" y2="701.53" stroke="#000" stroke-width="2"/>
<line x1="109" y1="697.05" x2="117.5" y2="697.05" stroke="#000" stroke-width="2"/>
<line x1="976" y1="697.05" x2="967.5" y2="697.05" stroke="#000" stroke-width="2"/>
<line x1="109" y1="693.26" x2="117.5" y2="693.26" stroke="#000" stroke-width="2"/>
<line x1="976" y1="693.26" x2="967.5" y2="693.26" stroke="#000" stroke-width="2"/>
<line x1="109" y1="689.98" x2="117.5" y2="689.98" stroke="#000" stroke-width="2"/>
<line x1="976" y1="689.98" x2="967.5" y2="689.98" stroke="#000" stroke-width="2"/>
<line x1="109" y1="687.09" x2="117.5" y2="687.09" stroke="#000" stroke-width="2"/>
<line x1="976" y1="687.09" x2="967.5" y2="687.09" stroke="#000" stroke-width="2"/>
<line x1="109" y1="684.5" x2="126" y2="684.5" stroke="#000" stroke-width="2"/>
<line x1="976" y1="684.5" x2="959" y2="684.5" stroke="#000" stroke-width="2"/>
<line x1="109" y1="667.47" x2="117.5" y2="667.47" stroke="#000" stroke-width="2"/>
<line x1="976" y1="667.47" x2="967.5" y2="667.47" stroke="#000" stroke-width="2"/>
<line x1="109" y1="657.5" x2="117.5" y2="657.5" stroke="#000" stroke-width="2"/>
<line x1="976" y1="657.5" x2="967.5" y2="657.5" stroke="#000" stroke-width="2"/>
<line x1="109" y1="650.44" x2="117.5" y2="650.44" stroke="#000" stroke-width="2"/>
<line x1="976" y1="650.44" x2="967.5" y2="650.44" stroke="#000" stroke-width="2"/>
<line x1="109" y1="644.95" x2="117.5" y2="644.95" stroke="#000" stroke-width="2"/>
<line x1="976" y1="644.95" x2="967.5" y2="644.95" stroke="#000" stroke-width="2"/>
<line x1="109" y1="640.47" x2="117.5" y2="640.47" stroke="#000" stroke-width="2"/>
<line x1="976" y1="640.47" x2="967.5" y2="640.47" stroke="#000" stroke-width="2"/>
<line x1="109" y1="636.68" x2="117.5" y2="636.68" stroke="#000" stroke-width="2"/>
<line x1="976" y1="636.68" x2="967.5" y2="636.68" stroke="#000" stroke-width="2"/>
<line x1="109" y1="633.4" x2="117.5" y2="633.4" stroke="#000" stroke-width="2"/>
<line x1="976" y1="633.4" x2="967.5" y2="633.4" stroke="#000" stroke-width="2"/>
<line x1="109" y1="630.51" x2="117.5" y2="630.51" stroke="#000" stroke-width="2"/>
<line x1="976" y1="630.51" x2="967.5" y2="630.51" stroke="#000" stroke-width="2"/>
<line x1="109" y1="627.92" x2="126" y2="627.92" stroke="#000" stroke-width="2"/>
<line x1="976" y1="627.92" x2="959" y2="627.92" stroke="#000" stroke-width="2"/>
<line x1="109" y1="610.89" x2="117.5" y2="610.89" stroke="#000" stroke-width="2"/>
<line x1="976" y1="610.89" x2="967.5" y2="610.89" stroke="#000" stroke-width="2"/>
<line x1="109" y1="600.92" x2="117.5" y2="600.92" stroke="#000" stroke-width="2"/>
<line x1="976" y1="600.92" x2="967.5" y2="600.92" stroke="#000" stroke-width="2"/>
<line x1="109" y1="593.86" x2="117.5" y2="593.86" stroke="#000" stroke-width="2"/>
<line x1="976" y1="593.86" x2="967.5" y2="593.86" stroke="#000" stroke-width="2"/>
<line x1="109" y1="588.37" x2="117.5" y2="588.37" stroke="#000" stroke-width="2"/>
<line x1="976" y1="588.37" x2="967.5" y2="588.37" stroke="#000" stroke-width="2"/>
<line x1="109" y1="583.89" x2="117.5" y2="583.89" stroke="#000" stroke-width="2"/>
<line x1="976" y1="583.89" x2="967.5" y2="583.89" stroke="#000" stroke-width="2"/>
<line x1="109" y1="580.1" x2="117.5" y2="580.1" stroke="#000" stroke-width="2"/>
<line x1="976" y1="580.1" x2="967.5" y2="580.1" stroke="#000" stroke-width="2"/>
<line x1="109" y1="576.82" x2="117.5" y2="576.82" stroke="#000" stroke-width="2"/>
<line x1="976" y1="576.82" x2="967.5" y2="576.82" stroke="#000" stroke-width="2"/>
<line x1="109" y1="573.93" x2="117.5" y2="573.93" stroke="#000" stroke-width="2"/>
<line x1="976" y1="573.93" x2="967.5" y2="573.93" stroke="#000" stroke-width="2"/>
<line x1="109" y1="571.34" x2="126" y2="571.34" stroke="#000" stroke-width="2"/>
<line x1="976" y1="571.34" x2="959" y2="571.34" stroke="#000" stroke-width="2"/>
<line x1="109" y1="554.31" x2="117.5" y2="554.31" stroke="#000" stroke-width="2"/>
<line x1="976" y1="554.31" x2="967.5" y2="554.31" stroke="#000" stroke-width="2"/>
<line x1="109" y1="544.34" x2="117.5" y2="544.34" stroke="#000" stroke-width="2"/>
<line x1="976" y1="544.34" x2="967.5" y2="544.34" stroke="#000" stroke-width="2"/>
<line x1="109" y1="537.28" x2="117.5" y2="537.28" stroke="#000" stroke-width="2"/>
<line x1="976" y1="537.28" x2="967.5" y2="537.28" stroke="#000" stroke-width="2"/>
<line x1="109" y1="531.79" x2="117.5" y2="531.79" stroke="#000" stroke-width="2"/>
<line x1="976" y1="531.79" x2="967.5" y2="531.79" stroke="#000" stroke-width="2"/>
<line x1="109" y1="527.31" x2="117.5" y2="527.31" stroke="#000" stroke-width="2"/>
<line x1="976" y1="527.31" x2="967.5" y2="527.31" stroke="#000" stroke-width="2"/>
<line x1="109" y1="523.52" x2="117.5" y2="523.52" stroke="#000" stroke-width="2"/>
<line x1="976" y1="523.52" x2="967.5" y2="523.52" stroke="#000" stroke-width="2"/>
<line x1="109" y1="520.24" x2="117.5" y2="520.24" stroke="#000" stroke-width="2"/>
<line x1="976" y1="520.24" x2="967.5" y2="520.24" stroke="#000" stroke-width="2"/>
<line x1="109" y1="517.35" x2="117.5" y2="517.35" stroke="#000" stroke-width="2"/>
<line x1="976" y1="517.35" x2="967.5" y2="517.35" stroke="#000" stroke-width="2"/>
<line x1="109" y1="514.76" x2="126" y2="514.76" stroke="#000" stroke-width="2"/>
<line x1="976" y1="514.76" x2="959" y2="514.76" stroke="#000" stroke-width="2"/>
<line x1="109" y1="497.73" x2="117.5" y2="497.73" stroke="#000" stroke-width="2"/>
<line x1="976" y1="497.73" x2="967.5" y2="497.73" stroke="#000" stroke-width="2"/>
<line x1="109" y1="487.76" x2="117.5" y2="487.76" stroke="#000" stroke-width="2"/>
<line x1="976" y1="487.76" x2="967.5" y2="487.76" stroke="#000" stroke-width="2"/>
<line x1="109" y1="480.7" x2="117.5" y2="480.7" stroke="#000" stroke-width="2"/>
<line x1="976" y1="480.7" x2="967.5" y2="480.7" stroke="#000" stroke-width="2"/>
<line x1="109" y1="475.21" x2="117.5" y2="475.21" stroke="#000" stroke-width="2"/>
<line x1="976" y1="475.21" x2="967.5" y2="475.21" stroke="#000" stroke-width="2"/>
<line x1="109" y1="470.73" x2="117.5" y2="470.73" stroke="#000" stroke-width="2"/>
<line x1="976" y1="470.73" x2="967.5" y2="470.73" stroke="#000" stroke-width="2"/>
<line x1="109" y1="466.94" x2="117.5" y2="466.94" stroke="#000" stroke-width="2"/>
<line x1="976" y1="466.94" x2="967.5" y2="466.94" stroke="#000" stroke-width="2"/>
<line x1="109" y1="463.66" x2="117.5" y2="463.66" stroke="#000" stroke-width="2"/>
<line x1="976" y1="463.66" x2="967.5" y2="463.66" stroke="#000" stroke-width="2"/>
<line x1="109" y1="460.77" x2="117.5" y2="460.77" stroke="#000" stroke-width="2"/>
<line x1="976" y1="460.77" x2="967.5" y2="460.77" stroke="#000" stroke-width="2"/>
<line x1="109" y1="458.18" x2="126" y2="458.18" stroke="#000" stroke-width="2"/>
<line x1="976" y1="458.18" x2="959" y2="458.18" stroke="#000" stroke-width="2"/>
<line x1="109" y1="441.15" x2="117.5" y2="441.15" stroke="#000" stroke-width="2"/>
<line x1="976" y1="441.15" x2="967.5" y2="441.15" stroke="#000" stroke-width="2"/>
<line x1="109" y1="431.18" x2="117.5" y2="431.18" stroke="#000" stroke-width="2"/>
<line x1="976" y1="431.18" x2="967.5" y2="431.18" stroke="#000" stroke-width="2"/>
<line x1="109" y1="424.12" x2="117.5" y2="424.12" stroke="#000" stroke-width="2"/>
<line x1="976" y1="424.12" x2="967.5" y2="424.12" stroke="#000" stroke-width="2"/>
<line x1="109" y1="418.63" x2="117.5" y2="418.63" stroke="#000" stroke-width="2"/>
<line x1="976" y1="418.63" x2="967.5" y2="418.63" stroke="#000" stroke-width="2"/>
<line x1="109" y1="414.15" x2="117.5" y2="414.15" stroke="#000" stroke-width="2"/>
<line x1="976" y1="414.15" x2="967.5" y2="414.15" stroke="#000" stroke-width="2"/>
<line x1="109" y1="410.36" x2="117.5" y2="410.36" stroke="#000" stroke-width="2"/>
<line x1="976" y1="410.36" x2="967.5" y2="410.36" stroke="#000" stroke-width="2"/>
<line x1="109" y1="407.08" x2="117.5" y2="407.08" stroke="#000" stroke-width="2"/>
<line x1="976" y1="407.08" x2="967.5" y2="407.08" stroke="#000" stroke-width="2"/>
<line x1="109" y1="404.19" x2="117.5" y2="404.19" stroke="#000" stroke-width="2"/>
<line x1="976" y1="404.19" x2="967.5" y2="404.19" stroke="#000" stroke-width="2"/>
<line x1="109" y1="401.6" x2="126" y2="401.6" stroke="#000" stroke-width="2"/>
<line x1="976" y1="401.6" x2="959" y2="401.6" stroke="#000" stroke-width="2"/>
<line x1="109" y1="384.57" x2="117.5" y2="384.57" stroke="#000" stroke-width="2"/>
<line x1="976" y1="384.57" x2="967.5" y2="384.57" stroke="#000" stroke-width="2"/>
<line x1="109" y1="374.6" x2="117.5" y2="374.6" stroke="#000" stroke-width="2"/>
<line x1="976" y1="374.6" x2="967.5" y2="374.6" stroke="#000" stroke-width="2"/>
<line x1="109" y1="367.54" x2="117.5" y2="367.54" stroke="#000" stroke-width="2"/>
<line x1="976" y1="367.54" x2="967.5" y2="367.54" stroke="#000" stroke-width="2"/>
<line x1="109" y1="362.05" x2="117.5" y2="362.05" stroke="#000" stroke-width="2"/>
<line x1="976" y1="362.05" x2="967.5" y2="362.05" stroke="#000" stroke-width="2"/>
<line x1="109" y1="357.57" x2="117.5" y2="357.57" stroke="#000" stroke-width="2"/>
<line x1="976" y1="357.57" x2="967.5" y2="357.57" stroke="#000" stroke-width="2"/>
<line x1="109" y1="353.78" x2="117.5" y2="353.78" stroke="#000" stroke-width="2"/>
<line x1="976" y1="353.78" x2="967.5" y2="353.78" stroke="#000" stroke-width="2"/>
<line x1="109" y1="350.5" x2="117.5" y2="350.5" stroke="#000" stroke-width="2"/>
<line x1="976" y1="350.5" x2="967.5" y2="350.5" stroke="#000" stroke-width="2"/>
<line x1="109" y1="347.61" x2="117.5" y2="347.61" stroke="#000" stroke-width="2"/>
<line x1="976" y1="347.61" x2="967.5" y2="347.61" stroke="#000" stroke-width="2"/>
<line x1="109" y1="345.02" x2="126" y2="345.02" stroke="#000" stroke-width="2"/>
<line x1="976" y1="345.02" x2="959" y2="345.02" stroke="#000" stroke-width="2"/>
<line x1="109" y1="327.99" x2="117.5" y2="327.99" stroke="#000" stroke-width="2"/>
<line x1="976" y1="327.99" x2="967.5" y2="327.99" stroke="#000" stroke-width="2"/>
<line x1="109" y1="318.02" x2="117.5" y2="318.02" stroke="#000" stroke-width="2"/>
<line x1="976" y1="318.02" x2="967.5" y2="318.02" stroke="#000" stroke-width="2"/>
<line x1="109" y1="310.96" x2="117.5" y2="310.96" stroke="#000" stroke-width="2"/>
<line x1="976" y1="310.96" x2="967.5" y2="310.96" stroke="#000" stroke-width="2"/>
<line x1="109" y1="305.47" x2="117.5" y2="305.47" stroke="#000" stroke-width="2"/>
<line x1="976" y1="305.47" x2="967.5" y2="305.47" stroke="#000" stroke-width="2"/>
<line x1="109" y1="300.99" x2="117.5" y2="300.99" stroke="#000" stroke-width="2"/>
<line x1="976" y1="300.99" x2="967.5" y2="300.99" stroke="#000" stroke-width="2"/>
<line x1="109" y1="297.2" x2="117.5" y2="297.2" stroke="#000" stroke-width="2"/>
<line x1="976" y1="297.2" x2="967.5" y2="297.2" stroke="#000" stroke-width="2"/>
<line x1="109" y1="293.92" x2="117.5" y2="293.92" stroke="#000" stroke-width="2"/>
<line x1="976" y1="293.92" x2="967.5" y2="293.92" stroke="#000" stroke-width="2"/>
<line x1="109" y1="291.03" x2="117.5" y2="291.03" stroke="#000" stroke-width="2"/>
<line x1="976" y1="291.03" x2="967.5" y2="291.03" stroke="#000" stroke-width="2"/>
<line x1="109" y1="288.44" x2="126" y2="288.44" stroke="#000" stroke-width="2"/>
<line x1="976" y1="288.44" x2="959" y2="288.44" stroke="#000" stroke-width="2"/>
<line x1="109" y1="271.41" x2="117.5" y2="271.41" stroke="#000" stroke-width="2"/>
<line x1="976" y1="271.41" x2="967.5" y2="271.41" stroke="#000" stroke-width="2"/>
<line x1="109" y1="261.44" x2="117.5" y2="261.44" stroke="#000" stroke-width="2"/>
<line x1="976" y1="261.44" x2="967.5" y2="261.44" stroke="#000" stroke-width="2"/>
<line x1="109" y1="254.38" x2="117.5" y2="254.38" stroke="#000" stroke-width="2"/>
<line x1="976" y1="254.38" x2="967.5" y2="254.38" stroke="#000" stroke-width="2"/>
<line x1="109" y1="248.89" x2="117.5" y2="248.89" stroke="#000" stroke-width="2"/>
<line x1="976" y1="248.89" x2="967.5" y2="248.89" stroke="#000" stroke-width="2"/>
<line x1="109" y1="244.41" x2="117.5" y2="244.41" stroke="#000" stroke-width="2"/>
<line x1="976" y1="244.41" x2="967.5" y2="244.41" stroke="#000" stroke-width="2"/>
<line x1="109" y1="240.62" x2="117.5" y2="240.62" stroke="#000" stroke-width="2"/>
<line x1="976" y1="240.62" x2="967.5" y2="240.62" stroke="#000" stroke-width="2"/>
<line x1="109" y1="237.34" x2="117.5" y2="237.34" stroke="#000" stroke-width="2"/>
<line x1="976" y1="237.34" x2="967.5" y2="237.34" stroke="#000" stroke-width="2"/>
<line x1="109" y1="234.45" x2="117.5" y2="234.45" stroke="#000" stroke-width="2"/>
<line x1="976" y1="234.45" x2="967.5" y2="234.45" stroke="#000" stroke-width="2"/>
<line x1="109" y1="231.86" x2="126" y2="231.86" stroke="#000" stroke-width="2"/>
<line x1="976" y1="231.86" x2="959" y2="231.86" stroke="#000" stroke-width="2"/>
<line x1="109" y1="214.83" x2="117.5" y2="214.83" stroke="#000" stroke-width="2"/>
<line x1="976" y1="214.83" x2="967.5" y2="214.83" stroke="#000" stroke-width="2"/>
<line x1="109" y1="204.86" x2="117.5" y2="204.86" stroke="#000" stroke-width="2"/>
<line x1="976" y1="204.86" x2="967.5" y2="204.86" stroke="#000" stroke-width="2"/>
<line x1="109" y1="197.8" x2="117.5" y2="197.8" stroke="#000" stroke-width="2"/>
<line x1="976" y1="197.8" x2="967.5" y2="197.8" stroke="#000" stroke-width="2"/>
<line x1="109" y1="192.31" x2="117.5" y2="192.31" stroke="#000" stroke-width="2"/>
<line x1="976" y1="192.31" x2="967.5" y2="192.31" stroke="#000" stroke-width="2"/>
<line x1="109" y1="187.83" x2="117.5" y2="187.83" stroke="#000" stroke-width="2"/>
<line x1="976" y1="187.83" x2="967.5" y2="187.83" stroke="#000" stroke-width="2"/>
<line x1="109" y1="184.04" x2="117.5" y2="184.04" stroke="#000" stroke-width="2"/>
<line x1="976" y1="184.04" x2="967.5" y2="184.04" stroke="#000" stroke-width="2"/>
<line x1="109" y1="180.76" x2="117.5" y2="180.76" stroke="#000" stroke-width="2"/>
<line x1="976" y1="180.76" x2="967.5" y2="180.76" stroke="#000" stroke-width="2"/>
<line x1="109" y1="177.87" x2="117.5" y2="177.87" stroke="#000" stroke-width="2"/>
<line x1="976" y1="177.87" x2="967.5" y2="177.87" stroke="#000" stroke-width="2"/>
<line x1="109" y1="175.28" x2="126" y2="175.28" stroke="#000" stroke-width="2"/>
<line x1="976" y1="175.28" x2="959" y2="175.28" stroke="#000" stroke-width="2"/>
<line x1="109" y1="158.25" x2="117.5" y2="158.25" stroke="#000" stroke-width="2"/>
<line x1="976" y1="158.25" x2="967.5" y2="158.25" stroke="#000" stroke-width="2"/>
<line x1="109" y1="148.28" x2="117.5" y2="148.28" stroke="#000" stroke-width="2"/>
<line x1="976" y1="148.28" x2="967.5" y2="148.28" stroke="#000" stroke-width="2"/>
<line x1="109" y1="141.22" x2="117.5" y2="141.22" stroke="#000" stroke-width="2"/>
<line x1="976" y1="141.22" x2="967.5" y2="141.22" stroke="#000" stroke-width="2"/>
<line x1="109" y1="135.73" x2="117.5" y2="135.73" stroke="#000" stroke-width="2"/>
<line x1="976" y1="135.73" x2="967.5" y2="135.73" stroke="#000" stroke-width="2"/>
<line x1="109" y1="131.25" x2="117.5" y2="131.25" stroke="#000" stroke-width="2"/>
<line x1="976" y1="131.25" x2="967.5" y2="131.25" stroke="#000" stroke-width="2"/>
<line x1="109" y1="127.46" x2="117.5" y2="127.46" stroke="#000" stroke-width="2"/>
<line x1="976" y1="127.46" x2="967.5" y2="127.46" stroke="#000" stroke-width="2"/>
<line x1="109" y1="124.18" x2="117.5" y2="124.18" stroke="#000" stroke-width="2"/>
<line x1="976" y1="124.18" x2="967.5" y2="124.18" stroke="#000" stroke-width="2"/>
<line x1="109" y1="121.29" x2="117.5" y2="121.29" stroke="#000" stroke-width="2"/>
<line x1="976" y1="121.29" x2="967.5" y2="121.29" stroke="#000" stroke-width="2"/>
<line x1="109" y1="118.7" x2="126" y2="118.7" stroke="#000" stroke-width="2"/>
<line x1="976" y1="118.7" x2="959" y2="118.7" stroke="#000" stroke-width="2"/>
<line x1="109" y1="101.67" x2="117.5" y2="101.67" stroke="#000" stroke-width="2"/>
<line x1="976" y1="101.67" x2="967.5" y2="101.67" stroke="#000" stroke-width="2"/>
<line x1="109" y1="91.7" x2="117.5" y2="91.7" stroke="#000" stroke-width="2"/>
<line x1="976" y1="91.7" x2="967.5" y2="91.7" stroke="#000" stroke-width="2"/>
<line x1="109" y1="84.64" x2="117.5" y2="84.64" stroke="#000" stroke-width="2"/>
<line x1="976" y1="84.64" x2="967.5" y2="84.64" stroke="#000" stroke-width="2"/>
<line x1="109" y1="79.15" x2="117.5" y2="79.15" stroke="#000" stroke-width="2"/>
<line x1="976" y1="79.15" x2="967.5" y2="79.15" stroke="#000" stroke-width="2"/>
</g>
<rect x="109" y="382.5" width="780.3" height="5.4" fill="#000"/>
<rect x="889.3" y="469.7" width="86.7" height="5.4" fill="#000"/>
<rect x="109" y="725" width="868" height="7" fill="#000"/>
<rect x="109.0" y="75.0" width="867.0" height="653.3" fill="none" stroke="#000" stroke-width="2.4"/>
<circle cx="499.15" cy="385.2" r="5.5" fill="#000"/>
<circle cx="932.65" cy="472.4" r="5.5" fill="#000"/>
<text transform="translate(87.93,119.1) scale(0.9600,1)" font-size="24.3">9</text>
<text transform="translate(49.91,133.8) scale(0.9550,1)" font-size="36.6"> 0</text>
<path d="M0.342,0 L0.342,0.688 L0.272,0.688 C0.258,0.625 0.205,0.578 0.095,0.572 L0.095,0.505 L0.254,0.505 L0.254,0 Z" fill="#000" transform="translate(49.91,133.8) scale(34.953,-36.600)"/>
<text transform="translate(87.84,175.68) scale(0.9600,1)" font-size="24.3">8</text>
<text transform="translate(49.74,190.38) scale(0.9550,1)" font-size="36.6"> 0</text>
<path d="M0.342,0 L0.342,0.688 L0.272,0.688 C0.258,0.625 0.205,0.578 0.095,0.572 L0.095,0.505 L0.254,0.505 L0.254,0 Z" fill="#000" transform="translate(49.74,190.38) scale(34.953,-36.600)"/>
<text transform="translate(88,232.26) scale(0.9600,1)" font-size="24.3">7</text>
<text transform="translate(50.08,246.96) scale(0.9550,1)" font-size="36.6"> 0</text>
<path d="M0.342,0 L0.342,0.688 L0.272,0.688 C0.258,0.625 0.205,0.578 0.095,0.572 L0.095,0.505 L0.254,0.505 L0.254,0 Z" fill="#000" transform="translate(50.08,246.96) scale(34.953,-36.600)"/>
<text transform="translate(87.85,288.84) scale(0.9600,1)" font-size="24.3">6</text>
<text transform="translate(49.92,303.54) scale(0.9550,1)" font-size="36.6"> 0</text>
<path d="M0.342,0 L0.342,0.688 L0.272,0.688 C0.258,0.625 0.205,0.578 0.095,0.572 L0.095,0.505 L0.254,0.505 L0.254,0 Z" fill="#000" transform="translate(49.92,303.54) scale(34.953,-36.600)"/>
<text transform="translate(87.81,345.42) scale(0.9600,1)" font-size="24.3">5</text>
<text transform="translate(49.63,360.12) scale(0.9550,1)" font-size="36.6"> 0</text>
<path d="M0.342,0 L0.342,0.688 L0.272,0.688 C0.258,0.625 0.205,0.578 0.095,0.572 L0.095,0.505 L0.254,0.505 L0.254,0 Z" fill="#000" transform="translate(49.63,360.12) scale(34.953,-36.600)"/>
<text transform="translate(87.51,402) scale(0.9600,1)" font-size="24.3">4</text>
<text transform="translate(48.93,416.7) scale(0.9550,1)" font-size="36.6"> 0</text>
<path d="M0.342,0 L0.342,0.688 L0.272,0.688 C0.258,0.625 0.205,0.578 0.095,0.572 L0.095,0.505 L0.254,0.505 L0.254,0 Z" fill="#000" transform="translate(48.93,416.7) scale(34.953,-36.600)"/>
<text transform="translate(87.85,458.58) scale(0.9600,1)" font-size="24.3">3</text>
<text transform="translate(49.63,473.28) scale(0.9550,1)" font-size="36.6"> 0</text>
<path d="M0.342,0 L0.342,0.688 L0.272,0.688 C0.258,0.625 0.205,0.578 0.095,0.572 L0.095,0.505 L0.254,0.505 L0.254,0 Z" fill="#000" transform="translate(49.63,473.28) scale(34.953,-36.600)"/>
<text transform="translate(88,515.16) scale(0.9600,1)" font-size="24.3">2</text>
<text transform="translate(50.06,529.86) scale(0.9550,1)" font-size="36.6"> 0</text>
<path d="M0.342,0 L0.342,0.688 L0.272,0.688 C0.258,0.625 0.205,0.578 0.095,0.572 L0.095,0.505 L0.254,0.505 L0.254,0 Z" fill="#000" transform="translate(50.06,529.86) scale(34.953,-36.600)"/>
<text transform="translate(62.29,583.44) scale(0.9550,1)" font-size="36.6"> 0</text>
<path d="M0.342,0 L0.342,0.688 L0.272,0.688 C0.258,0.625 0.205,0.578 0.095,0.572 L0.095,0.505 L0.254,0.505 L0.254,0 Z" fill="#000" transform="translate(62.29,583.44) scale(34.953,-36.600)"/>
<text transform="translate(87.85,640.02) scale(0.9550,1)" font-size="36.6"> </text>
<path d="M0.342,0 L0.342,0.688 L0.272,0.688 C0.258,0.625 0.205,0.578 0.095,0.572 L0.095,0.505 L0.254,0.505 L0.254,0 Z" fill="#000" transform="translate(87.85,640.02) scale(34.953,-36.600)"/>
<text transform="translate(78.2,684.9) scale(0.9600,1)" font-size="24.3">− </text>
<path d="M0.342,0 L0.342,0.688 L0.272,0.688 C0.258,0.625 0.205,0.578 0.095,0.572 L0.095,0.505 L0.254,0.505 L0.254,0 Z" fill="#000" transform="translate(91.82,684.9) scale(23.328,-24.300)"/>
<text transform="translate(40.24,699.6) scale(0.9550,1)" font-size="36.6"> 0</text>
<path d="M0.342,0 L0.342,0.688 L0.272,0.688 C0.258,0.625 0.205,0.578 0.095,0.572 L0.095,0.505 L0.254,0.505 L0.254,0 Z" fill="#000" transform="translate(40.24,699.6) scale(34.953,-36.600)"/>
<text transform="translate(34.6,82.3) rotate(-90)" x="-165.76" y="0" font-size="36">Events/bin</text>
<text transform="translate(105.74,64.4) scale(0.9533,1)" font-size="55.14" font-weight="bold">CMS</text>
<text transform="translate(234.39,64.7) scale(0.9360,1)" font-size="42.01" font-style="italic">Preliminary</text>
<text transform="translate(816.21,59.3) scale(0.9605,1)" font-size="43.46">( 3 TeV)</text>
<path d="M0.342,0 L0.342,0.688 L0.272,0.688 C0.258,0.625 0.205,0.578 0.095,0.572 L0.095,0.505 L0.254,0.505 L0.254,0 Z" fill="#000" transform="translate(830.11,59.3) scale(41.741,-43.459)"/>
<text transform="translate(671.25,59.3) scale(0.9558,1)" font-size="43.46"> 38 fb</text>
<path d="M0.342,0 L0.342,0.688 L0.272,0.688 C0.258,0.625 0.205,0.578 0.095,0.572 L0.095,0.505 L0.254,0.505 L0.254,0 Z" fill="#000" transform="translate(671.25,59.3) scale(41.539,-43.459)"/>
<rect x="788.4" y="31" width="6.8" height="2.6" fill="#000"/>
<text x="795.43" y="39.5" font-size="27"> </text>
<path d="M0.342,0 L0.342,0.688 L0.272,0.688 C0.258,0.625 0.205,0.578 0.095,0.572 L0.095,0.505 L0.254,0.505 L0.254,0 Z" fill="#000" transform="translate(795.43,39.5) scale(27.000,-27.000)"/>
<text x="489.45" y="326.6" font-size="35.3">e, 3b3j</text>
<rect x="161.7" y="105.9" width="5.2" height="28" fill="#000"/>
<circle cx="164.3" cy="119.9" r="5.7" fill="#000"/>
<text x="197.26" y="129.7" font-size="31">Data</text>
<rect x="373.5" y="103.6" width="49" height="32.6" fill="#80b6e7"/>
<text x="433.03" y="129.7" font-size="31">tt</text>
<line x1="441.02" y1="105.52" x2="449.24" y2="105.52" stroke="#000" stroke-width="2.79"/>
<rect x="577.5" y="103.6" width="49" height="32.6" fill="#d36b57"/>
<text x="636.09" y="129.7" font-size="31">Single t</text>
<rect x="139.8" y="150.13" width="49" height="32.6" fill="#b8c3c2"/>
<text x="197.26" y="176.23" font-size="31">Nonprompt</text>
<rect x="373.5" y="150.13" width="49" height="32.6" fill="#ffc660"/>
<text x="433.36" y="176.23" font-size="31">W+jets</text>
<rect x="577.5" y="150.13" width="49" height="32.6" fill="#ad74cf"/>
<text x="636.52" y="176.23" font-size="31">Z+jets</text>
<rect x="139.8" y="196.66" width="49" height="32.6" fill="#ef9857"/>
<text x="199.33" y="222.76" font-size="31">ttX</text>
<line x1="207.32" y1="198.58" x2="215.54" y2="198.58" stroke="#000" stroke-width="2.79"/>
<rect x="373.5" y="196.66" width="49" height="32.6" fill="#c69d91"/>
<text x="433.36" y="222.76" font-size="31">VVV</text>
<rect x="577.5" y="196.66" width="49" height="32.6" fill="#d1c8a1"/>
<text x="637.03" y="222.76" font-size="31">ttW</text>
<line x1="645.02" y1="198.58" x2="653.24" y2="198.58" stroke="#000" stroke-width="2.79"/>
<rect x="139.8" y="243.19" width="49" height="32.6" fill="#a1a4ac"/>
<text x="199.33" y="269.29" font-size="31">ttXY</text>
<line x1="207.32" y1="245.11" x2="215.54" y2="245.11" stroke="#000" stroke-width="2.79"/>
<path d="M373.20,274.20L375.39,276.39M373.20,261.30L388.29,276.39M373.20,248.40L401.19,276.39M380.29,242.59L414.09,276.39M393.19,242.59L422.80,272.20M406.09,242.59L422.80,259.30M418.99,242.59L422.80,246.40" stroke="#505050" stroke-width="1.4" fill="none"/>
<text x="432.09" y="269.29" font-size="31">Syst unc.</text>
<rect x="577.5" y="256.69" width="49" height="5.6" fill="#000"/>
<text x="636.64" y="269.29" font-size="31">m</text>
<text x="660.04" y="279.59" font-size="21.4">H</text>
<text x="673.62" y="270.59" font-size="15.2">±</text>
<text x="689.19" y="269.29" font-size="31">=  000 GeV (x2.5)</text>
<path d="M0.342,0 L0.342,0.688 L0.272,0.688 C0.258,0.625 0.205,0.578 0.095,0.572 L0.095,0.505 L0.254,0.505 L0.254,0 Z" fill="#000" transform="translate(715.90,269.29) scale(31.000,-31.000)"/>
<path d="M109.00,822.30L118.20,831.50M109.00,809.50L131.00,831.50M118.60,806.30L143.80,831.50M131.40,806.30L156.60,831.50M144.20,806.30L169.40,831.50M157.00,806.30L182.20,831.50M169.80,806.30L195.00,831.50M182.60,806.30L207.80,831.50M195.40,806.30L220.60,831.50M208.20,806.30L233.40,831.50M221.00,806.30L246.20,831.50M233.80,806.30L259.00,831.50M246.60,806.30L271.80,831.50M259.40,806.30L284.60,831.50M272.20,806.30L297.40,831.50M285.00,806.30L310.20,831.50M297.80,806.30L323.00,831.50M310.60,806.30L335.80,831.50M323.40,806.30L348.60,831.50M336.20,806.30L361.40,831.50M349.00,806.30L374.20,831.50M361.80,806.30L387.00,831.50M374.60,806.30L399.80,831.50M387.40,806.30L412.60,831.50M400.20,806.30L425.40,831.50M413.00,806.30L438.20,831.50M425.80,806.30L451.00,831.50M438.60,806.30L463.80,831.50M451.40,806.30L476.60,831.50M464.20,806.30L489.40,831.50M477.00,806.30L502.20,831.50M489.80,806.30L515.00,831.50M502.60,806.30L527.80,831.50M515.40,806.30L540.60,831.50M528.20,806.30L553.40,831.50M541.00,806.30L566.20,831.50M553.80,806.30L579.00,831.50M566.60,806.30L591.80,831.50M579.40,806.30L604.60,831.50M592.20,806.30L617.40,831.50M605.00,806.30L630.20,831.50M617.80,806.30L643.00,831.50M630.60,806.30L655.80,831.50M643.40,806.30L668.60,831.50M656.20,806.30L681.40,831.50M669.00,806.30L694.20,831.50M681.80,806.30L707.00,831.50M694.60,806.30L719.80,831.50M707.40,806.30L732.60,831.50M720.20,806.30L745.40,831.50M733.00,806.30L758.20,831.50M745.80,806.30L771.00,831.50M758.60,806.30L783.80,831.50M771.40,806.30L796.60,831.50M784.20,806.30L809.40,831.50M797.00,806.30L822.20,831.50M809.80,806.30L835.00,831.50M822.60,806.30L847.80,831.50M835.40,806.30L860.60,831.50M848.20,806.30L873.40,831.50M861.00,806.30L886.20,831.50M873.80,806.30L889.30,821.80M886.60,806.30L889.30,809.00" stroke="#151515" stroke-width="1.65" fill="none"/>
<path d="M889.30,821.80L896.50,829.00M890.30,810.00L909.30,829.00M903.10,810.00L922.10,829.00M915.90,810.00L934.90,829.00M928.70,810.00L947.70,829.00M941.50,810.00L960.50,829.00M954.30,810.00L973.30,829.00M967.10,810.00L976.00,818.90" stroke="#151515" stroke-width="1.65" fill="none"/>
<line x1="195.7" y1="892.5" x2="195.7" y2="889.5" stroke="#000" stroke-width="1.8"/>
<line x1="195.7" y1="746.1" x2="195.7" y2="749.1" stroke="#000" stroke-width="1.8"/>
<line x1="282.4" y1="892.5" x2="282.4" y2="886.5" stroke="#000" stroke-width="1.8"/>
<line x1="282.4" y1="746.1" x2="282.4" y2="752.1" stroke="#000" stroke-width="1.8"/>
<line x1="369.1" y1="892.5" x2="369.1" y2="889.5" stroke="#000" stroke-width="1.8"/>
<line x1="369.1" y1="746.1" x2="369.1" y2="749.1" stroke="#000" stroke-width="1.8"/>
<line x1="455.8" y1="892.5" x2="455.8" y2="886.5" stroke="#000" stroke-width="1.8"/>
<line x1="455.8" y1="746.1" x2="455.8" y2="752.1" stroke="#000" stroke-width="1.8"/>
<line x1="542.5" y1="892.5" x2="542.5" y2="889.5" stroke="#000" stroke-width="1.8"/>
<line x1="542.5" y1="746.1" x2="542.5" y2="749.1" stroke="#000" stroke-width="1.8"/>
<line x1="629.2" y1="892.5" x2="629.2" y2="886.5" stroke="#000" stroke-width="1.8"/>
<line x1="629.2" y1="746.1" x2="629.2" y2="752.1" stroke="#000" stroke-width="1.8"/>
<line x1="715.9" y1="892.5" x2="715.9" y2="889.5" stroke="#000" stroke-width="1.8"/>
<line x1="715.9" y1="746.1" x2="715.9" y2="749.1" stroke="#000" stroke-width="1.8"/>
<line x1="802.6" y1="892.5" x2="802.6" y2="886.5" stroke="#000" stroke-width="1.8"/>
<line x1="802.6" y1="746.1" x2="802.6" y2="752.1" stroke="#000" stroke-width="1.8"/>
<line x1="889.3" y1="892.5" x2="889.3" y2="889.5" stroke="#000" stroke-width="1.8"/>
<line x1="889.3" y1="746.1" x2="889.3" y2="749.1" stroke="#000" stroke-width="1.8"/>
<line x1="109" y1="891.62" x2="115.2" y2="891.62" stroke="#000" stroke-width="1.8"/>
<line x1="976" y1="891.62" x2="969.8" y2="891.62" stroke="#000" stroke-width="1.8"/>
<line x1="109" y1="883.54" x2="121.3" y2="883.54" stroke="#000" stroke-width="1.8"/>
<line x1="976" y1="883.54" x2="963.7" y2="883.54" stroke="#000" stroke-width="1.8"/>
<line x1="109" y1="875.46" x2="115.2" y2="875.46" stroke="#000" stroke-width="1.8"/>
<line x1="976" y1="875.46" x2="969.8" y2="875.46" stroke="#000" stroke-width="1.8"/>
<line x1="109" y1="867.38" x2="115.2" y2="867.38" stroke="#000" stroke-width="1.8"/>
<line x1="976" y1="867.38" x2="969.8" y2="867.38" stroke="#000" stroke-width="1.8"/>
<line x1="109" y1="859.3" x2="115.2" y2="859.3" stroke="#000" stroke-width="1.8"/>
<line x1="976" y1="859.3" x2="969.8" y2="859.3" stroke="#000" stroke-width="1.8"/>
<line x1="109" y1="851.22" x2="121.3" y2="851.22" stroke="#000" stroke-width="1.8"/>
<line x1="976" y1="851.22" x2="963.7" y2="851.22" stroke="#000" stroke-width="1.8"/>
<line x1="109" y1="843.14" x2="115.2" y2="843.14" stroke="#000" stroke-width="1.8"/>
<line x1="976" y1="843.14" x2="969.8" y2="843.14" stroke="#000" stroke-width="1.8"/>
<line x1="109" y1="835.06" x2="115.2" y2="835.06" stroke="#000" stroke-width="1.8"/>
<line x1="976" y1="835.06" x2="969.8" y2="835.06" stroke="#000" stroke-width="1.8"/>
<line x1="109" y1="826.98" x2="115.2" y2="826.98" stroke="#000" stroke-width="1.8"/>
<line x1="976" y1="826.98" x2="969.8" y2="826.98" stroke="#000" stroke-width="1.8"/>
<line x1="109" y1="818.9" x2="121.3" y2="818.9" stroke="#000" stroke-width="1.8"/>
<line x1="976" y1="818.9" x2="963.7" y2="818.9" stroke="#000" stroke-width="1.8"/>
<line x1="109" y1="810.82" x2="115.2" y2="810.82" stroke="#000" stroke-width="1.8"/>
<line x1="976" y1="810.82" x2="969.8" y2="810.82" stroke="#000" stroke-width="1.8"/>
<line x1="109" y1="802.74" x2="115.2" y2="802.74" stroke="#000" stroke-width="1.8"/>
<line x1="976" y1="802.74" x2="969.8" y2="802.74" stroke="#000" stroke-width="1.8"/>
<line x1="109" y1="794.66" x2="115.2" y2="794.66" stroke="#000" stroke-width="1.8"/>
<line x1="976" y1="794.66" x2="969.8" y2="794.66" stroke="#000" stroke-width="1.8"/>
<line x1="109" y1="786.58" x2="121.3" y2="786.58" stroke="#000" stroke-width="1.8"/>
<line x1="976" y1="786.58" x2="963.7" y2="786.58" stroke="#000" stroke-width="1.8"/>
<line x1="109" y1="778.5" x2="115.2" y2="778.5" stroke="#000" stroke-width="1.8"/>
<line x1="976" y1="778.5" x2="969.8" y2="778.5" stroke="#000" stroke-width="1.8"/>
<line x1="109" y1="770.42" x2="115.2" y2="770.42" stroke="#000" stroke-width="1.8"/>
<line x1="976" y1="770.42" x2="969.8" y2="770.42" stroke="#000" stroke-width="1.8"/>
<line x1="109" y1="762.34" x2="115.2" y2="762.34" stroke="#000" stroke-width="1.8"/>
<line x1="976" y1="762.34" x2="969.8" y2="762.34" stroke="#000" stroke-width="1.8"/>
<line x1="109" y1="754.26" x2="121.3" y2="754.26" stroke="#000" stroke-width="1.8"/>
<line x1="976" y1="754.26" x2="963.7" y2="754.26" stroke="#000" stroke-width="1.8"/>
<rect x="109.0" y="746.1" width="867.0" height="146.39999999999998" fill="none" stroke="#000" stroke-width="1.8"/>
<rect x="109" y="828.05" width="780.3" height="4" fill="#000"/>
<rect x="496.65" y="813.89" width="5" height="32.32" fill="#000"/>
<rect x="889.3" y="834.5" width="86.7" height="4" fill="#000"/>
<rect x="930.15" y="820.34" width="5" height="32.32" fill="#000"/>
<text x="87.14" y="766.06" font-size="32">4</text>
<text x="87.81" y="798.38" font-size="32">2</text>
<text x="87.45" y="830.7" font-size="32">0</text>
<text x="69.12" y="863.02" font-size="32">−2</text>
<text x="68.45" y="895.34" font-size="32">−4</text>
<text x="99.91" y="921.2" font-size="32.7">0</text>
<text x="259.85" y="921.2" font-size="32.7">0.2</text>
<text x="432.91" y="921.2" font-size="32.7">0.4</text>
<text x="606.55" y="921.2" font-size="32.7">0.6</text>
<text x="779.94" y="921.2" font-size="32.7">0.8</text>
<text x="968.86" y="921.2" font-size="32.7"> </text>
<path d="M0.342,0 L0.342,0.688 L0.272,0.688 C0.258,0.625 0.205,0.578 0.095,0.572 L0.095,0.505 L0.254,0.505 L0.254,0 Z" fill="#000" transform="translate(968.86,921.2) scale(32.700,-32.700)"/>
<text x="785.41" y="960.4" font-size="35.1">pDNN score</text>
<path d="M134.30,770.80L144.00,780.50M134.30,758.00L156.70,780.40M145.40,756.30L156.70,767.60" stroke="#151515" stroke-width="1.65" fill="none"/>
<text x="161.62" y="776" font-size="32.5">Syst unc.</text>
<text transform="translate(35.0,882.0) rotate(-90)" x="-1.42" y="0" font-size="33.8">data-bkg</text>
<line x1="45.6" y1="753.8" x2="45.6" y2="882.8" stroke="#000" stroke-width="3"/>
<text transform="translate(67.0,849.0) rotate(-90)" x="0" y="0" font-size="30">σ</text>
<text transform="translate(78.5,829.5) rotate(-90)" x="0" y="0" font-size="22">data</text>
</g>
<g transform="translate(1015,997)">
<rect x="109" y="380.8" width="780.8" height="56.4" fill="#80b6e7"/>
<rect x="109" y="436.9" width="780.8" height="24.2" fill="#d36b57"/>
<rect x="109" y="460.8" width="780.8" height="17.7" fill="#ffc660"/>
<rect x="109" y="478.2" width="780.8" height="24.2" fill="#b8c3c2"/>
<rect x="109" y="502.1" width="780.8" height="14.9" fill="#ef9857"/>
<rect x="109" y="516.7" width="780.8" height="25.8" fill="#ad74cf"/>
<rect x="109" y="542.2" width="780.8" height="18.1" fill="#c69d91"/>
<rect x="109" y="560" width="780.8" height="75.2" fill="#d1c8a1"/>
<rect x="109" y="634.9" width="780.8" height="96.1" fill="#a1a4ac"/>
<rect x="888.8" y="471.9" width="87.2" height="34" fill="#80b6e7"/>
<rect x="888.8" y="505.6" width="87.2" height="28.6" fill="#d36b57"/>
<rect x="888.8" y="533.9" width="87.2" height="13.6" fill="#ffc660"/>
<rect x="888.8" y="547.2" width="87.2" height="11.6" fill="#b8c3c2"/>
<rect x="888.8" y="558.5" width="87.2" height="3.5" fill="#ef9857"/>
<rect x="888.8" y="561.7" width="87.2" height="37.8" fill="#ad74cf"/>
<rect x="888.8" y="599.2" width="87.2" height="22.8" fill="#c69d91"/>
<rect x="888.8" y="621.7" width="87.2" height="82.2" fill="#d1c8a1"/>
<rect x="888.8" y="703.6" width="87.2" height="27.4" fill="#a1a4ac"/>
<g stroke="#000" fill="none">
<line x1="195.7" y1="728.3" x2="195.7" y2="719" stroke="#000" stroke-width="2"/>
<line x1="195.7" y1="75" x2="195.7" y2="84.3" stroke="#000" stroke-width="2"/>
<line x1="282.4" y1="728.3" x2="282.4" y2="709.6" stroke="#000" stroke-width="2"/>
<line x1="282.4" y1="75" x2="282.4" y2="93.7" stroke="#000" stroke-width="2"/>
<line x1="369.1" y1="728.3" x2="369.1" y2="719" stroke="#000" stroke-width="2"/>
<line x1="369.1" y1="75" x2="369.1" y2="84.3" stroke="#000" stroke-width="2"/>
<line x1="455.8" y1="728.3" x2="455.8" y2="709.6" stroke="#000" stroke-width="2"/>
<line x1="455.8" y1="75" x2="455.8" y2="93.7" stroke="#000" stroke-width="2"/>
<line x1="542.5" y1="728.3" x2="542.5" y2="719" stroke="#000" stroke-width="2"/>
<line x1="542.5" y1="75" x2="542.5" y2="84.3" stroke="#000" stroke-width="2"/>
<line x1="629.2" y1="728.3" x2="629.2" y2="709.6" stroke="#000" stroke-width="2"/>
<line x1="629.2" y1="75" x2="629.2" y2="93.7" stroke="#000" stroke-width="2"/>
<line x1="715.9" y1="728.3" x2="715.9" y2="719" stroke="#000" stroke-width="2"/>
<line x1="715.9" y1="75" x2="715.9" y2="84.3" stroke="#000" stroke-width="2"/>
<line x1="802.6" y1="728.3" x2="802.6" y2="709.6" stroke="#000" stroke-width="2"/>
<line x1="802.6" y1="75" x2="802.6" y2="93.7" stroke="#000" stroke-width="2"/>
<line x1="889.3" y1="728.3" x2="889.3" y2="719" stroke="#000" stroke-width="2"/>
<line x1="889.3" y1="75" x2="889.3" y2="84.3" stroke="#000" stroke-width="2"/>
<line x1="109" y1="723.77" x2="117.5" y2="723.77" stroke="#000" stroke-width="2"/>
<line x1="976" y1="723.77" x2="967.5" y2="723.77" stroke="#000" stroke-width="2"/>
<line x1="109" y1="713.96" x2="117.5" y2="713.96" stroke="#000" stroke-width="2"/>
<line x1="976" y1="713.96" x2="967.5" y2="713.96" stroke="#000" stroke-width="2"/>
<line x1="109" y1="706.99" x2="117.5" y2="706.99" stroke="#000" stroke-width="2"/>
<line x1="976" y1="706.99" x2="967.5" y2="706.99" stroke="#000" stroke-width="2"/>
<line x1="109" y1="701.59" x2="117.5" y2="701.59" stroke="#000" stroke-width="2"/>
<line x1="976" y1="701.59" x2="967.5" y2="701.59" stroke="#000" stroke-width="2"/>
<line x1="109" y1="697.17" x2="117.5" y2="697.17" stroke="#000" stroke-width="2"/>
<line x1="976" y1="697.17" x2="967.5" y2="697.17" stroke="#000" stroke-width="2"/>
<line x1="109" y1="693.44" x2="117.5" y2="693.44" stroke="#000" stroke-width="2"/>
<line x1="976" y1="693.44" x2="967.5" y2="693.44" stroke="#000" stroke-width="2"/>
<line x1="109" y1="690.2" x2="117.5" y2="690.2" stroke="#000" stroke-width="2"/>
<line x1="976" y1="690.2" x2="967.5" y2="690.2" stroke="#000" stroke-width="2"/>
<line x1="109" y1="687.35" x2="117.5" y2="687.35" stroke="#000" stroke-width="2"/>
<line x1="976" y1="687.35" x2="967.5" y2="687.35" stroke="#000" stroke-width="2"/>
<line x1="109" y1="684.8" x2="126" y2="684.8" stroke="#000" stroke-width="2"/>
<line x1="976" y1="684.8" x2="959" y2="684.8" stroke="#000" stroke-width="2"/>
<line x1="109" y1="668.01" x2="117.5" y2="668.01" stroke="#000" stroke-width="2"/>
<line x1="976" y1="668.01" x2="967.5" y2="668.01" stroke="#000" stroke-width="2"/>
<line x1="109" y1="658.2" x2="117.5" y2="658.2" stroke="#000" stroke-width="2"/>
<line x1="976" y1="658.2" x2="967.5" y2="658.2" stroke="#000" stroke-width="2"/>
<line x1="109" y1="651.23" x2="117.5" y2="651.23" stroke="#000" stroke-width="2"/>
<line x1="976" y1="651.23" x2="967.5" y2="651.23" stroke="#000" stroke-width="2"/>
<line x1="109" y1="645.83" x2="117.5" y2="645.83" stroke="#000" stroke-width="2"/>
<line x1="976" y1="645.83" x2="967.5" y2="645.83" stroke="#000" stroke-width="2"/>
<line x1="109" y1="641.41" x2="117.5" y2="641.41" stroke="#000" stroke-width="2"/>
<line x1="976" y1="641.41" x2="967.5" y2="641.41" stroke="#000" stroke-width="2"/>
<line x1="109" y1="637.68" x2="117.5" y2="637.68" stroke="#000" stroke-width="2"/>
<line x1="976" y1="637.68" x2="967.5" y2="637.68" stroke="#000" stroke-width="2"/>
<line x1="109" y1="634.44" x2="117.5" y2="634.44" stroke="#000" stroke-width="2"/>
<line x1="976" y1="634.44" x2="967.5" y2="634.44" stroke="#000" stroke-width="2"/>
<line x1="109" y1="631.59" x2="117.5" y2="631.59" stroke="#000" stroke-width="2"/>
<line x1="976" y1="631.59" x2="967.5" y2="631.59" stroke="#000" stroke-width="2"/>
<line x1="109" y1="629.04" x2="126" y2="629.04" stroke="#000" stroke-width="2"/>
<line x1="976" y1="629.04" x2="959" y2="629.04" stroke="#000" stroke-width="2"/>
<line x1="109" y1="612.25" x2="117.5" y2="612.25" stroke="#000" stroke-width="2"/>
<line x1="976" y1="612.25" x2="967.5" y2="612.25" stroke="#000" stroke-width="2"/>
<line x1="109" y1="602.44" x2="117.5" y2="602.44" stroke="#000" stroke-width="2"/>
<line x1="976" y1="602.44" x2="967.5" y2="602.44" stroke="#000" stroke-width="2"/>
<line x1="109" y1="595.47" x2="117.5" y2="595.47" stroke="#000" stroke-width="2"/>
<line x1="976" y1="595.47" x2="967.5" y2="595.47" stroke="#000" stroke-width="2"/>
<line x1="109" y1="590.07" x2="117.5" y2="590.07" stroke="#000" stroke-width="2"/>
<line x1="976" y1="590.07" x2="967.5" y2="590.07" stroke="#000" stroke-width="2"/>
<line x1="109" y1="585.65" x2="117.5" y2="585.65" stroke="#000" stroke-width="2"/>
<line x1="976" y1="585.65" x2="967.5" y2="585.65" stroke="#000" stroke-width="2"/>
<line x1="109" y1="581.92" x2="117.5" y2="581.92" stroke="#000" stroke-width="2"/>
<line x1="976" y1="581.92" x2="967.5" y2="581.92" stroke="#000" stroke-width="2"/>
<line x1="109" y1="578.68" x2="117.5" y2="578.68" stroke="#000" stroke-width="2"/>
<line x1="976" y1="578.68" x2="967.5" y2="578.68" stroke="#000" stroke-width="2"/>
<line x1="109" y1="575.83" x2="117.5" y2="575.83" stroke="#000" stroke-width="2"/>
<line x1="976" y1="575.83" x2="967.5" y2="575.83" stroke="#000" stroke-width="2"/>
<line x1="109" y1="573.28" x2="126" y2="573.28" stroke="#000" stroke-width="2"/>
<line x1="976" y1="573.28" x2="959" y2="573.28" stroke="#000" stroke-width="2"/>
<line x1="109" y1="556.49" x2="117.5" y2="556.49" stroke="#000" stroke-width="2"/>
<line x1="976" y1="556.49" x2="967.5" y2="556.49" stroke="#000" stroke-width="2"/>
<line x1="109" y1="546.68" x2="117.5" y2="546.68" stroke="#000" stroke-width="2"/>
<line x1="976" y1="546.68" x2="967.5" y2="546.68" stroke="#000" stroke-width="2"/>
<line x1="109" y1="539.71" x2="117.5" y2="539.71" stroke="#000" stroke-width="2"/>
<line x1="976" y1="539.71" x2="967.5" y2="539.71" stroke="#000" stroke-width="2"/>
<line x1="109" y1="534.31" x2="117.5" y2="534.31" stroke="#000" stroke-width="2"/>
<line x1="976" y1="534.31" x2="967.5" y2="534.31" stroke="#000" stroke-width="2"/>
<line x1="109" y1="529.89" x2="117.5" y2="529.89" stroke="#000" stroke-width="2"/>
<line x1="976" y1="529.89" x2="967.5" y2="529.89" stroke="#000" stroke-width="2"/>
<line x1="109" y1="526.16" x2="117.5" y2="526.16" stroke="#000" stroke-width="2"/>
<line x1="976" y1="526.16" x2="967.5" y2="526.16" stroke="#000" stroke-width="2"/>
<line x1="109" y1="522.92" x2="117.5" y2="522.92" stroke="#000" stroke-width="2"/>
<line x1="976" y1="522.92" x2="967.5" y2="522.92" stroke="#000" stroke-width="2"/>
<line x1="109" y1="520.07" x2="117.5" y2="520.07" stroke="#000" stroke-width="2"/>
<line x1="976" y1="520.07" x2="967.5" y2="520.07" stroke="#000" stroke-width="2"/>
<line x1="109" y1="517.52" x2="126" y2="517.52" stroke="#000" stroke-width="2"/>
<line x1="976" y1="517.52" x2="959" y2="517.52" stroke="#000" stroke-width="2"/>
<line x1="109" y1="500.73" x2="117.5" y2="500.73" stroke="#000" stroke-width="2"/>
<line x1="976" y1="500.73" x2="967.5" y2="500.73" stroke="#000" stroke-width="2"/>
<line x1="109" y1="490.92" x2="117.5" y2="490.92" stroke="#000" stroke-width="2"/>
<line x1="976" y1="490.92" x2="967.5" y2="490.92" stroke="#000" stroke-width="2"/>
<line x1="109" y1="483.95" x2="117.5" y2="483.95" stroke="#000" stroke-width="2"/>
<line x1="976" y1="483.95" x2="967.5" y2="483.95" stroke="#000" stroke-width="2"/>
<line x1="109" y1="478.55" x2="117.5" y2="478.55" stroke="#000" stroke-width="2"/>
<line x1="976" y1="478.55" x2="967.5" y2="478.55" stroke="#000" stroke-width="2"/>
<line x1="109" y1="474.13" x2="117.5" y2="474.13" stroke="#000" stroke-width="2"/>
<line x1="976" y1="474.13" x2="967.5" y2="474.13" stroke="#000" stroke-width="2"/>
<line x1="109" y1="470.4" x2="117.5" y2="470.4" stroke="#000" stroke-width="2"/>
<line x1="976" y1="470.4" x2="967.5" y2="470.4" stroke="#000" stroke-width="2"/>
<line x1="109" y1="467.16" x2="117.5" y2="467.16" stroke="#000" stroke-width="2"/>
<line x1="976" y1="467.16" x2="967.5" y2="467.16" stroke="#000" stroke-width="2"/>
<line x1="109" y1="464.31" x2="117.5" y2="464.31" stroke="#000" stroke-width="2"/>
<line x1="976" y1="464.31" x2="967.5" y2="464.31" stroke="#000" stroke-width="2"/>
<line x1="109" y1="461.76" x2="126" y2="461.76" stroke="#000" stroke-width="2"/>
<line x1="976" y1="461.76" x2="959" y2="461.76" stroke="#000" stroke-width="2"/>
<line x1="109" y1="444.97" x2="117.5" y2="444.97" stroke="#000" stroke-width="2"/>
<line x1="976" y1="444.97" x2="967.5" y2="444.97" stroke="#000" stroke-width="2"/>
<line x1="109" y1="435.16" x2="117.5" y2="435.16" stroke="#000" stroke-width="2"/>
<line x1="976" y1="435.16" x2="967.5" y2="435.16" stroke="#000" stroke-width="2"/>
<line x1="109" y1="428.19" x2="117.5" y2="428.19" stroke="#000" stroke-width="2"/>
<line x1="976" y1="428.19" x2="967.5" y2="428.19" stroke="#000" stroke-width="2"/>
<line x1="109" y1="422.79" x2="117.5" y2="422.79" stroke="#000" stroke-width="2"/>
<line x1="976" y1="422.79" x2="967.5" y2="422.79" stroke="#000" stroke-width="2"/>
<line x1="109" y1="418.37" x2="117.5" y2="418.37" stroke="#000" stroke-width="2"/>
<line x1="976" y1="418.37" x2="967.5" y2="418.37" stroke="#000" stroke-width="2"/>
<line x1="109" y1="414.64" x2="117.5" y2="414.64" stroke="#000" stroke-width="2"/>
<line x1="976" y1="414.64" x2="967.5" y2="414.64" stroke="#000" stroke-width="2"/>
<line x1="109" y1="411.4" x2="117.5" y2="411.4" stroke="#000" stroke-width="2"/>
<line x1="976" y1="411.4" x2="967.5" y2="411.4" stroke="#000" stroke-width="2"/>
<line x1="109" y1="408.55" x2="117.5" y2="408.55" stroke="#000" stroke-width="2"/>
<line x1="976" y1="408.55" x2="967.5" y2="408.55" stroke="#000" stroke-width="2"/>
<line x1="109" y1="406" x2="126" y2="406" stroke="#000" stroke-width="2"/>
<line x1="976" y1="406" x2="959" y2="406" stroke="#000" stroke-width="2"/>
<line x1="109" y1="389.21" x2="117.5" y2="389.21" stroke="#000" stroke-width="2"/>
<line x1="976" y1="389.21" x2="967.5" y2="389.21" stroke="#000" stroke-width="2"/>
<line x1="109" y1="379.4" x2="117.5" y2="379.4" stroke="#000" stroke-width="2"/>
<line x1="976" y1="379.4" x2="967.5" y2="379.4" stroke="#000" stroke-width="2"/>
<line x1="109" y1="372.43" x2="117.5" y2="372.43" stroke="#000" stroke-width="2"/>
<line x1="976" y1="372.43" x2="967.5" y2="372.43" stroke="#000" stroke-width="2"/>
<line x1="109" y1="367.03" x2="117.5" y2="367.03" stroke="#000" stroke-width="2"/>
<line x1="976" y1="367.03" x2="967.5" y2="367.03" stroke="#000" stroke-width="2"/>
<line x1="109" y1="362.61" x2="117.5" y2="362.61" stroke="#000" stroke-width="2"/>
<line x1="976" y1="362.61" x2="967.5" y2="362.61" stroke="#000" stroke-width="2"/>
<line x1="109" y1="358.88" x2="117.5" y2="358.88" stroke="#000" stroke-width="2"/>
<line x1="976" y1="358.88" x2="967.5" y2="358.88" stroke="#000" stroke-width="2"/>
<line x1="109" y1="355.64" x2="117.5" y2="355.64" stroke="#000" stroke-width="2"/>
<line x1="976" y1="355.64" x2="967.5" y2="355.64" stroke="#000" stroke-width="2"/>
<line x1="109" y1="352.79" x2="117.5" y2="352.79" stroke="#000" stroke-width="2"/>
<line x1="976" y1="352.79" x2="967.5" y2="352.79" stroke="#000" stroke-width="2"/>
<line x1="109" y1="350.24" x2="126" y2="350.24" stroke="#000" stroke-width="2"/>
<line x1="976" y1="350.24" x2="959" y2="350.24" stroke="#000" stroke-width="2"/>
<line x1="109" y1="333.45" x2="117.5" y2="333.45" stroke="#000" stroke-width="2"/>
<line x1="976" y1="333.45" x2="967.5" y2="333.45" stroke="#000" stroke-width="2"/>
<line x1="109" y1="323.64" x2="117.5" y2="323.64" stroke="#000" stroke-width="2"/>
<line x1="976" y1="323.64" x2="967.5" y2="323.64" stroke="#000" stroke-width="2"/>
<line x1="109" y1="316.67" x2="117.5" y2="316.67" stroke="#000" stroke-width="2"/>
<line x1="976" y1="316.67" x2="967.5" y2="316.67" stroke="#000" stroke-width="2"/>
<line x1="109" y1="311.27" x2="117.5" y2="311.27" stroke="#000" stroke-width="2"/>
<line x1="976" y1="311.27" x2="967.5" y2="311.27" stroke="#000" stroke-width="2"/>
<line x1="109" y1="306.85" x2="117.5" y2="306.85" stroke="#000" stroke-width="2"/>
<line x1="976" y1="306.85" x2="967.5" y2="306.85" stroke="#000" stroke-width="2"/>
<line x1="109" y1="303.12" x2="117.5" y2="303.12" stroke="#000" stroke-width="2"/>
<line x1="976" y1="303.12" x2="967.5" y2="303.12" stroke="#000" stroke-width="2"/>
<line x1="109" y1="299.88" x2="117.5" y2="299.88" stroke="#000" stroke-width="2"/>
<line x1="976" y1="299.88" x2="967.5" y2="299.88" stroke="#000" stroke-width="2"/>
<line x1="109" y1="297.03" x2="117.5" y2="297.03" stroke="#000" stroke-width="2"/>
<line x1="976" y1="297.03" x2="967.5" y2="297.03" stroke="#000" stroke-width="2"/>
<line x1="109" y1="294.48" x2="126" y2="294.48" stroke="#000" stroke-width="2"/>
<line x1="976" y1="294.48" x2="959" y2="294.48" stroke="#000" stroke-width="2"/>
<line x1="109" y1="277.69" x2="117.5" y2="277.69" stroke="#000" stroke-width="2"/>
<line x1="976" y1="277.69" x2="967.5" y2="277.69" stroke="#000" stroke-width="2"/>
<line x1="109" y1="267.88" x2="117.5" y2="267.88" stroke="#000" stroke-width="2"/>
<line x1="976" y1="267.88" x2="967.5" y2="267.88" stroke="#000" stroke-width="2"/>
<line x1="109" y1="260.91" x2="117.5" y2="260.91" stroke="#000" stroke-width="2"/>
<line x1="976" y1="260.91" x2="967.5" y2="260.91" stroke="#000" stroke-width="2"/>
<line x1="109" y1="255.51" x2="117.5" y2="255.51" stroke="#000" stroke-width="2"/>
<line x1="976" y1="255.51" x2="967.5" y2="255.51" stroke="#000" stroke-width="2"/>
<line x1="109" y1="251.09" x2="117.5" y2="251.09" stroke="#000" stroke-width="2"/>
<line x1="976" y1="251.09" x2="967.5" y2="251.09" stroke="#000" stroke-width="2"/>
<line x1="109" y1="247.36" x2="117.5" y2="247.36" stroke="#000" stroke-width="2"/>
<line x1="976" y1="247.36" x2="967.5" y2="247.36" stroke="#000" stroke-width="2"/>
<line x1="109" y1="244.12" x2="117.5" y2="244.12" stroke="#000" stroke-width="2"/>
<line x1="976" y1="244.12" x2="967.5" y2="244.12" stroke="#000" stroke-width="2"/>
<line x1="109" y1="241.27" x2="117.5" y2="241.27" stroke="#000" stroke-width="2"/>
<line x1="976" y1="241.27" x2="967.5" y2="241.27" stroke="#000" stroke-width="2"/>
<line x1="109" y1="238.72" x2="126" y2="238.72" stroke="#000" stroke-width="2"/>
<line x1="976" y1="238.72" x2="959" y2="238.72" stroke="#000" stroke-width="2"/>
<line x1="109" y1="221.93" x2="117.5" y2="221.93" stroke="#000" stroke-width="2"/>
<line x1="976" y1="221.93" x2="967.5" y2="221.93" stroke="#000" stroke-width="2"/>
<line x1="109" y1="212.12" x2="117.5" y2="212.12" stroke="#000" stroke-width="2"/>
<line x1="976" y1="212.12" x2="967.5" y2="212.12" stroke="#000" stroke-width="2"/>
<line x1="109" y1="205.15" x2="117.5" y2="205.15" stroke="#000" stroke-width="2"/>
<line x1="976" y1="205.15" x2="967.5" y2="205.15" stroke="#000" stroke-width="2"/>
<line x1="109" y1="199.75" x2="117.5" y2="199.75" stroke="#000" stroke-width="2"/>
<line x1="976" y1="199.75" x2="967.5" y2="199.75" stroke="#000" stroke-width="2"/>
<line x1="109" y1="195.33" x2="117.5" y2="195.33" stroke="#000" stroke-width="2"/>
<line x1="976" y1="195.33" x2="967.5" y2="195.33" stroke="#000" stroke-width="2"/>
<line x1="109" y1="191.6" x2="117.5" y2="191.6" stroke="#000" stroke-width="2"/>
<line x1="976" y1="191.6" x2="967.5" y2="191.6" stroke="#000" stroke-width="2"/>
<line x1="109" y1="188.36" x2="117.5" y2="188.36" stroke="#000" stroke-width="2"/>
<line x1="976" y1="188.36" x2="967.5" y2="188.36" stroke="#000" stroke-width="2"/>
<line x1="109" y1="185.51" x2="117.5" y2="185.51" stroke="#000" stroke-width="2"/>
<line x1="976" y1="185.51" x2="967.5" y2="185.51" stroke="#000" stroke-width="2"/>
<line x1="109" y1="182.96" x2="126" y2="182.96" stroke="#000" stroke-width="2"/>
<line x1="976" y1="182.96" x2="959" y2="182.96" stroke="#000" stroke-width="2"/>
<line x1="109" y1="166.17" x2="117.5" y2="166.17" stroke="#000" stroke-width="2"/>
<line x1="976" y1="166.17" x2="967.5" y2="166.17" stroke="#000" stroke-width="2"/>
<line x1="109" y1="156.36" x2="117.5" y2="156.36" stroke="#000" stroke-width="2"/>
<line x1="976" y1="156.36" x2="967.5" y2="156.36" stroke="#000" stroke-width="2"/>
<line x1="109" y1="149.39" x2="117.5" y2="149.39" stroke="#000" stroke-width="2"/>
<line x1="976" y1="149.39" x2="967.5" y2="149.39" stroke="#000" stroke-width="2"/>
<line x1="109" y1="143.99" x2="117.5" y2="143.99" stroke="#000" stroke-width="2"/>
<line x1="976" y1="143.99" x2="967.5" y2="143.99" stroke="#000" stroke-width="2"/>
<line x1="109" y1="139.57" x2="117.5" y2="139.57" stroke="#000" stroke-width="2"/>
<line x1="976" y1="139.57" x2="967.5" y2="139.57" stroke="#000" stroke-width="2"/>
<line x1="109" y1="135.84" x2="117.5" y2="135.84" stroke="#000" stroke-width="2"/>
<line x1="976" y1="135.84" x2="967.5" y2="135.84" stroke="#000" stroke-width="2"/>
<line x1="109" y1="132.6" x2="117.5" y2="132.6" stroke="#000" stroke-width="2"/>
<line x1="976" y1="132.6" x2="967.5" y2="132.6" stroke="#000" stroke-width="2"/>
<line x1="109" y1="129.75" x2="117.5" y2="129.75" stroke="#000" stroke-width="2"/>
<line x1="976" y1="129.75" x2="967.5" y2="129.75" stroke="#000" stroke-width="2"/>
<line x1="109" y1="127.2" x2="126" y2="127.2" stroke="#000" stroke-width="2"/>
<line x1="976" y1="127.2" x2="959" y2="127.2" stroke="#000" stroke-width="2"/>
<line x1="109" y1="110.41" x2="117.5" y2="110.41" stroke="#000" stroke-width="2"/>
<line x1="976" y1="110.41" x2="967.5" y2="110.41" stroke="#000" stroke-width="2"/>
<line x1="109" y1="100.6" x2="117.5" y2="100.6" stroke="#000" stroke-width="2"/>
<line x1="976" y1="100.6" x2="967.5" y2="100.6" stroke="#000" stroke-width="2"/>
<line x1="109" y1="93.63" x2="117.5" y2="93.63" stroke="#000" stroke-width="2"/>
<line x1="976" y1="93.63" x2="967.5" y2="93.63" stroke="#000" stroke-width="2"/>
<line x1="109" y1="88.23" x2="117.5" y2="88.23" stroke="#000" stroke-width="2"/>
<line x1="976" y1="88.23" x2="967.5" y2="88.23" stroke="#000" stroke-width="2"/>
<line x1="109" y1="83.81" x2="117.5" y2="83.81" stroke="#000" stroke-width="2"/>
<line x1="976" y1="83.81" x2="967.5" y2="83.81" stroke="#000" stroke-width="2"/>
<line x1="109" y1="80.08" x2="117.5" y2="80.08" stroke="#000" stroke-width="2"/>
<line x1="976" y1="80.08" x2="967.5" y2="80.08" stroke="#000" stroke-width="2"/>
<line x1="109" y1="76.84" x2="117.5" y2="76.84" stroke="#000" stroke-width="2"/>
<line x1="976" y1="76.84" x2="967.5" y2="76.84" stroke="#000" stroke-width="2"/>
</g>
<rect x="109" y="378.1" width="780.3" height="5.4" fill="#000"/>
<rect x="889.3" y="469.2" width="86.7" height="5.4" fill="#000"/>
<rect x="109" y="725" width="868" height="7" fill="#000"/>
<rect x="109.0" y="75.0" width="867.0" height="653.3" fill="none" stroke="#000" stroke-width="2.4"/>
<circle cx="499.15" cy="380.8" r="5.5" fill="#000"/>
<circle cx="932.65" cy="471.9" r="5.5" fill="#000"/>
<text transform="translate(87.93,127.6) scale(0.9600,1)" font-size="24.3">9</text>
<text transform="translate(49.91,142.3) scale(0.9550,1)" font-size="36.6"> 0</text>
<path d="M0.342,0 L0.342,0.688 L0.272,0.688 C0.258,0.625 0.205,0.578 0.095,0.572 L0.095,0.505 L0.254,0.505 L0.254,0 Z" fill="#000" transform="translate(49.91,142.3) scale(34.953,-36.600)"/>
<text transform="translate(87.84,183.36) scale(0.9600,1)" font-size="24.3">8</text>
<text transform="translate(49.74,198.06) scale(0.9550,1)" font-size="36.6"> 0</text>
<path d="M0.342,0 L0.342,0.688 L0.272,0.688 C0.258,0.625 0.205,0.578 0.095,0.572 L0.095,0.505 L0.254,0.505 L0.254,0 Z" fill="#000" transform="translate(49.74,198.06) scale(34.953,-36.600)"/>
<text transform="translate(88,239.12) scale(0.9600,1)" font-size="24.3">7</text>
<text transform="translate(50.08,253.82) scale(0.9550,1)" font-size="36.6"> 0</text>
<path d="M0.342,0 L0.342,0.688 L0.272,0.688 C0.258,0.625 0.205,0.578 0.095,0.572 L0.095,0.505 L0.254,0.505 L0.254,0 Z" fill="#000" transform="translate(50.08,253.82) scale(34.953,-36.600)"/>
<text transform="translate(87.85,294.88) scale(0.9600,1)" font-size="24.3">6</text>
<text transform="translate(49.92,309.58) scale(0.9550,1)" font-size="36.6"> 0</text>
<path d="M0.342,0 L0.342,0.688 L0.272,0.688 C0.258,0.625 0.205,0.578 0.095,0.572 L0.095,0.505 L0.254,0.505 L0.254,0 Z" fill="#000" transform="translate(49.92,309.58) scale(34.953,-36.600)"/>
<text transform="translate(87.81,350.64) scale(0.9600,1)" font-size="24.3">5</text>
<text transform="translate(49.63,365.34) scale(0.9550,1)" font-size="36.6"> 0</text>
<path d="M0.342,0 L0.342,0.688 L0.272,0.688 C0.258,0.625 0.205,0.578 0.095,0.572 L0.095,0.505 L0.254,0.505 L0.254,0 Z" fill="#000" transform="translate(49.63,365.34) scale(34.953,-36.600)"/>
<text transform="translate(87.51,406.4) scale(0.9600,1)" font-size="24.3">4</text>
<text transform="translate(48.93,421.1) scale(0.9550,1)" font-size="36.6"> 0</text>
<path d="M0.342,0 L0.342,0.688 L0.272,0.688 C0.258,0.625 0.205,0.578 0.095,0.572 L0.095,0.505 L0.254,0.505 L0.254,0 Z" fill="#000" transform="translate(48.93,421.1) scale(34.953,-36.600)"/>
<text transform="translate(87.85,462.16) scale(0.9600,1)" font-size="24.3">3</text>
<text transform="translate(49.63,476.86) scale(0.9550,1)" font-size="36.6"> 0</text>
<path d="M0.342,0 L0.342,0.688 L0.272,0.688 C0.258,0.625 0.205,0.578 0.095,0.572 L0.095,0.505 L0.254,0.505 L0.254,0 Z" fill="#000" transform="translate(49.63,476.86) scale(34.953,-36.600)"/>
<text transform="translate(88,517.92) scale(0.9600,1)" font-size="24.3">2</text>
<text transform="translate(50.06,532.62) scale(0.9550,1)" font-size="36.6"> 0</text>
<path d="M0.342,0 L0.342,0.688 L0.272,0.688 C0.258,0.625 0.205,0.578 0.095,0.572 L0.095,0.505 L0.254,0.505 L0.254,0 Z" fill="#000" transform="translate(50.06,532.62) scale(34.953,-36.600)"/>
<text transform="translate(62.29,585.38) scale(0.9550,1)" font-size="36.6"> 0</text>
<path d="M0.342,0 L0.342,0.688 L0.272,0.688 C0.258,0.625 0.205,0.578 0.095,0.572 L0.095,0.505 L0.254,0.505 L0.254,0 Z" fill="#000" transform="translate(62.29,585.38) scale(34.953,-36.600)"/>
<text transform="translate(87.85,641.14) scale(0.9550,1)" font-size="36.6"> </text>
<path d="M0.342,0 L0.342,0.688 L0.272,0.688 C0.258,0.625 0.205,0.578 0.095,0.572 L0.095,0.505 L0.254,0.505 L0.254,0 Z" fill="#000" transform="translate(87.85,641.14) scale(34.953,-36.600)"/>
<text transform="translate(78.2,685.2) scale(0.9600,1)" font-size="24.3">− </text>
<path d="M0.342,0 L0.342,0.688 L0.272,0.688 C0.258,0.625 0.205,0.578 0.095,0.572 L0.095,0.505 L0.254,0.505 L0.254,0 Z" fill="#000" transform="translate(91.82,685.2) scale(23.328,-24.300)"/>
<text transform="translate(40.24,699.9) scale(0.9550,1)" font-size="36.6"> 0</text>
<path d="M0.342,0 L0.342,0.688 L0.272,0.688 C0.258,0.625 0.205,0.578 0.095,0.572 L0.095,0.505 L0.254,0.505 L0.254,0 Z" fill="#000" transform="translate(40.24,699.9) scale(34.953,-36.600)"/>
<text transform="translate(34.6,82.3) rotate(-90)" x="-165.76" y="0" font-size="36">Events/bin</text>
<text transform="translate(105.74,64.4) scale(0.9533,1)" font-size="55.14" font-weight="bold">CMS</text>
<text transform="translate(234.39,64.7) scale(0.9360,1)" font-size="42.01" font-style="italic">Preliminary</text>
<text transform="translate(816.21,59.3) scale(0.9605,1)" font-size="43.46">( 3 TeV)</text>
<path d="M0.342,0 L0.342,0.688 L0.272,0.688 C0.258,0.625 0.205,0.578 0.095,0.572 L0.095,0.505 L0.254,0.505 L0.254,0 Z" fill="#000" transform="translate(830.11,59.3) scale(41.741,-43.459)"/>
<text transform="translate(671.25,59.3) scale(0.9558,1)" font-size="43.46"> 38 fb</text>
<path d="M0.342,0 L0.342,0.688 L0.272,0.688 C0.258,0.625 0.205,0.578 0.095,0.572 L0.095,0.505 L0.254,0.505 L0.254,0 Z" fill="#000" transform="translate(671.25,59.3) scale(41.539,-43.459)"/>
<rect x="788.4" y="31" width="6.8" height="2.6" fill="#000"/>
<text x="795.43" y="39.5" font-size="27"> </text>
<path d="M0.342,0 L0.342,0.688 L0.272,0.688 C0.258,0.625 0.205,0.578 0.095,0.572 L0.095,0.505 L0.254,0.505 L0.254,0 Z" fill="#000" transform="translate(795.43,39.5) scale(27.000,-27.000)"/>
<text x="489" y="323.3" font-size="36" font-family="Liberation Serif">μ</text>
<text x="509.46" y="323.3" font-size="35">, 3b3j</text>
<rect x="161.9" y="105.9" width="5.2" height="28" fill="#000"/>
<circle cx="164.5" cy="119.9" r="5.7" fill="#000"/>
<text x="197.46" y="129.7" font-size="31">Data</text>
<rect x="316.9" y="103.6" width="49" height="32.6" fill="#80b6e7"/>
<text x="376.43" y="129.7" font-size="31">tt</text>
<line x1="384.42" y1="105.52" x2="392.64" y2="105.52" stroke="#000" stroke-width="2.79"/>
<rect x="559.6" y="103.6" width="49" height="32.6" fill="#d36b57"/>
<text x="618.19" y="129.7" font-size="31">Single t</text>
<rect x="140" y="150.13" width="49" height="32.6" fill="#ffc660"/>
<text x="199.86" y="176.23" font-size="31">W+jets</text>
<rect x="316.9" y="150.13" width="49" height="32.6" fill="#b8c3c2"/>
<text x="374.36" y="176.23" font-size="31">Nonprompt</text>
<rect x="559.6" y="150.13" width="49" height="32.6" fill="#ef9857"/>
<text x="619.13" y="176.23" font-size="31">ttX</text>
<line x1="627.12" y1="152.05" x2="635.34" y2="152.05" stroke="#000" stroke-width="2.79"/>
<rect x="140" y="196.66" width="49" height="32.6" fill="#ad74cf"/>
<text x="199.02" y="222.76" font-size="31">Z+jets</text>
<rect x="316.9" y="196.66" width="49" height="32.6" fill="#c69d91"/>
<text x="376.76" y="222.76" font-size="31">VVV</text>
<rect x="559.6" y="196.66" width="49" height="32.6" fill="#d1c8a1"/>
<text x="619.13" y="222.76" font-size="31">ttW</text>
<line x1="627.12" y1="198.58" x2="635.34" y2="198.58" stroke="#000" stroke-width="2.79"/>
<rect x="140" y="243.19" width="49" height="32.6" fill="#a1a4ac"/>
<text x="199.53" y="269.29" font-size="31">ttXY</text>
<line x1="207.52" y1="245.11" x2="215.74" y2="245.11" stroke="#000" stroke-width="2.79"/>
<path d="M316.60,269.20L323.79,276.39M316.60,256.30L336.69,276.39M316.60,243.40L349.59,276.39M328.69,242.59L362.49,276.39M341.59,242.59L366.20,267.20M354.49,242.59L366.20,254.30" stroke="#505050" stroke-width="1.4" fill="none"/>
<text x="375.49" y="269.29" font-size="31">Syst unc.</text>
<rect x="559.6" y="256.69" width="49" height="5.6" fill="#000"/>
<text x="618.74" y="269.29" font-size="31">m</text>
<text x="642.14" y="279.59" font-size="21.4">H</text>
<text x="655.72" y="270.59" font-size="15.2">±</text>
<text x="671.29" y="269.29" font-size="31">=  000 GeV (x2.5)</text>
<path d="M0.342,0 L0.342,0.688 L0.272,0.688 C0.258,0.625 0.205,0.578 0.095,0.572 L0.095,0.505 L0.254,0.505 L0.254,0 Z" fill="#000" transform="translate(698.00,269.29) scale(31.000,-31.000)"/>
<path d="M109.00,822.30L119.20,832.50M109.00,809.50L132.00,832.50M117.60,805.30L144.80,832.50M130.40,805.30L157.60,832.50M143.20,805.30L170.40,832.50M156.00,805.30L183.20,832.50M168.80,805.30L196.00,832.50M181.60,805.30L208.80,832.50M194.40,805.30L221.60,832.50M207.20,805.30L234.40,832.50M220.00,805.30L247.20,832.50M232.80,805.30L260.00,832.50M245.60,805.30L272.80,832.50M258.40,805.30L285.60,832.50M271.20,805.30L298.40,832.50M284.00,805.30L311.20,832.50M296.80,805.30L324.00,832.50M309.60,805.30L336.80,832.50M322.40,805.30L349.60,832.50M335.20,805.30L362.40,832.50M348.00,805.30L375.20,832.50M360.80,805.30L388.00,832.50M373.60,805.30L400.80,832.50M386.40,805.30L413.60,832.50M399.20,805.30L426.40,832.50M412.00,805.30L439.20,832.50M424.80,805.30L452.00,832.50M437.60,805.30L464.80,832.50M450.40,805.30L477.60,832.50M463.20,805.30L490.40,832.50M476.00,805.30L503.20,832.50M488.80,805.30L516.00,832.50M501.60,805.30L528.80,832.50M514.40,805.30L541.60,832.50M527.20,805.30L554.40,832.50M540.00,805.30L567.20,832.50M552.80,805.30L580.00,832.50M565.60,805.30L592.80,832.50M578.40,805.30L605.60,832.50M591.20,805.30L618.40,832.50M604.00,805.30L631.20,832.50M616.80,805.30L644.00,832.50M629.60,805.30L656.80,832.50M642.40,805.30L669.60,832.50M655.20,805.30L682.40,832.50M668.00,805.30L695.20,832.50M680.80,805.30L708.00,832.50M693.60,805.30L720.80,832.50M706.40,805.30L733.60,832.50M719.20,805.30L746.40,832.50M732.00,805.30L759.20,832.50M744.80,805.30L772.00,832.50M757.60,805.30L784.80,832.50M770.40,805.30L797.60,832.50M783.20,805.30L810.40,832.50M796.00,805.30L823.20,832.50M808.80,805.30L836.00,832.50M821.60,805.30L848.80,832.50M834.40,805.30L861.60,832.50M847.20,805.30L874.40,832.50M860.00,805.30L887.20,832.50M872.80,805.30L889.30,821.80M885.60,805.30L889.30,809.00" stroke="#151515" stroke-width="1.65" fill="none"/>
<path d="M889.30,821.80L896.80,829.30M889.50,809.20L909.60,829.30M902.30,809.20L922.40,829.30M915.10,809.20L935.20,829.30M927.90,809.20L948.00,829.30M940.70,809.20L960.80,829.30M953.50,809.20L973.60,829.30M966.30,809.20L976.00,818.90" stroke="#151515" stroke-width="1.65" fill="none"/>
<line x1="195.7" y1="892.5" x2="195.7" y2="889.5" stroke="#000" stroke-width="1.8"/>
<line x1="195.7" y1="746.1" x2="195.7" y2="749.1" stroke="#000" stroke-width="1.8"/>
<line x1="282.4" y1="892.5" x2="282.4" y2="886.5" stroke="#000" stroke-width="1.8"/>
<line x1="282.4" y1="746.1" x2="282.4" y2="752.1" stroke="#000" stroke-width="1.8"/>
<line x1="369.1" y1="892.5" x2="369.1" y2="889.5" stroke="#000" stroke-width="1.8"/>
<line x1="369.1" y1="746.1" x2="369.1" y2="749.1" stroke="#000" stroke-width="1.8"/>
<line x1="455.8" y1="892.5" x2="455.8" y2="886.5" stroke="#000" stroke-width="1.8"/>
<line x1="455.8" y1="746.1" x2="455.8" y2="752.1" stroke="#000" stroke-width="1.8"/>
<line x1="542.5" y1="892.5" x2="542.5" y2="889.5" stroke="#000" stroke-width="1.8"/>
<line x1="542.5" y1="746.1" x2="542.5" y2="749.1" stroke="#000" stroke-width="1.8"/>
<line x1="629.2" y1="892.5" x2="629.2" y2="886.5" stroke="#000" stroke-width="1.8"/>
<line x1="629.2" y1="746.1" x2="629.2" y2="752.1" stroke="#000" stroke-width="1.8"/>
<line x1="715.9" y1="892.5" x2="715.9" y2="889.5" stroke="#000" stroke-width="1.8"/>
<line x1="715.9" y1="746.1" x2="715.9" y2="749.1" stroke="#000" stroke-width="1.8"/>
<line x1="802.6" y1="892.5" x2="802.6" y2="886.5" stroke="#000" stroke-width="1.8"/>
<line x1="802.6" y1="746.1" x2="802.6" y2="752.1" stroke="#000" stroke-width="1.8"/>
<line x1="889.3" y1="892.5" x2="889.3" y2="889.5" stroke="#000" stroke-width="1.8"/>
<line x1="889.3" y1="746.1" x2="889.3" y2="749.1" stroke="#000" stroke-width="1.8"/>
<line x1="109" y1="891.62" x2="115.2" y2="891.62" stroke="#000" stroke-width="1.8"/>
<line x1="976" y1="891.62" x2="969.8" y2="891.62" stroke="#000" stroke-width="1.8"/>
<line x1="109" y1="883.54" x2="121.3" y2="883.54" stroke="#000" stroke-width="1.8"/>
<line x1="976" y1="883.54" x2="963.7" y2="883.54" stroke="#000" stroke-width="1.8"/>
<line x1="109" y1="875.46" x2="115.2" y2="875.46" stroke="#000" stroke-width="1.8"/>
<line x1="976" y1="875.46" x2="969.8" y2="875.46" stroke="#000" stroke-width="1.8"/>
<line x1="109" y1="867.38" x2="115.2" y2="867.38" stroke="#000" stroke-width="1.8"/>
<line x1="976" y1="867.38" x2="969.8" y2="867.38" stroke="#000" stroke-width="1.8"/>
<line x1="109" y1="859.3" x2="115.2" y2="859.3" stroke="#000" stroke-width="1.8"/>
<line x1="976" y1="859.3" x2="969.8" y2="859.3" stroke="#000" stroke-width="1.8"/>
<line x1="109" y1="851.22" x2="121.3" y2="851.22" stroke="#000" stroke-width="1.8"/>
<line x1="976" y1="851.22" x2="963.7" y2="851.22" stroke="#000" stroke-width="1.8"/>
<line x1="109" y1="843.14" x2="115.2" y2="843.14" stroke="#000" stroke-width="1.8"/>
<line x1="976" y1="843.14" x2="969.8" y2="843.14" stroke="#000" stroke-width="1.8"/>
<line x1="109" y1="835.06" x2="115.2" y2="835.06" stroke="#000" stroke-width="1.8"/>
<line x1="976" y1="835.06" x2="969.8" y2="835.06" stroke="#000" stroke-width="1.8"/>
<line x1="109" y1="826.98" x2="115.2" y2="826.98" stroke="#000" stroke-width="1.8"/>
<line x1="976" y1="826.98" x2="969.8" y2="826.98" stroke="#000" stroke-width="1.8"/>
<line x1="109" y1="818.9" x2="121.3" y2="818.9" stroke="#000" stroke-width="1.8"/>
<line x1="976" y1="818.9" x2="963.7" y2="818.9" stroke="#000" stroke-width="1.8"/>
<line x1="109" y1="810.82" x2="115.2" y2="810.82" stroke="#000" stroke-width="1.8"/>
<line x1="976" y1="810.82" x2="969.8" y2="810.82" stroke="#000" stroke-width="1.8"/>
<line x1="109" y1="802.74" x2="115.2" y2="802.74" stroke="#000" stroke-width="1.8"/>
<line x1="976" y1="802.74" x2="969.8" y2="802.74" stroke="#000" stroke-width="1.8"/>
<line x1="109" y1="794.66" x2="115.2" y2="794.66" stroke="#000" stroke-width="1.8"/>
<line x1="976" y1="794.66" x2="969.8" y2="794.66" stroke="#000" stroke-width="1.8"/>
<line x1="109" y1="786.58" x2="121.3" y2="786.58" stroke="#000" stroke-width="1.8"/>
<line x1="976" y1="786.58" x2="963.7" y2="786.58" stroke="#000" stroke-width="1.8"/>
<line x1="109" y1="778.5" x2="115.2" y2="778.5" stroke="#000" stroke-width="1.8"/>
<line x1="976" y1="778.5" x2="969.8" y2="778.5" stroke="#000" stroke-width="1.8"/>
<line x1="109" y1="770.42" x2="115.2" y2="770.42" stroke="#000" stroke-width="1.8"/>
<line x1="976" y1="770.42" x2="969.8" y2="770.42" stroke="#000" stroke-width="1.8"/>
<line x1="109" y1="762.34" x2="115.2" y2="762.34" stroke="#000" stroke-width="1.8"/>
<line x1="976" y1="762.34" x2="969.8" y2="762.34" stroke="#000" stroke-width="1.8"/>
<line x1="109" y1="754.26" x2="121.3" y2="754.26" stroke="#000" stroke-width="1.8"/>
<line x1="976" y1="754.26" x2="963.7" y2="754.26" stroke="#000" stroke-width="1.8"/>
<rect x="109.0" y="746.1" width="867.0" height="146.39999999999998" fill="none" stroke="#000" stroke-width="1.8"/>
<rect x="109" y="829.65" width="780.3" height="4" fill="#000"/>
<rect x="496.65" y="815.49" width="5" height="32.32" fill="#000"/>
<rect x="889.3" y="820.6" width="86.7" height="4" fill="#000"/>
<rect x="930.15" y="806.44" width="5" height="32.32" fill="#000"/>
<text x="87.14" y="766.06" font-size="32">4</text>
<text x="87.81" y="798.38" font-size="32">2</text>
<text x="87.45" y="830.7" font-size="32">0</text>
<text x="69.12" y="863.02" font-size="32">−2</text>
<text x="68.45" y="895.34" font-size="32">−4</text>
<text x="99.91" y="921.2" font-size="32.7">0</text>
<text x="259.85" y="921.2" font-size="32.7">0.2</text>
<text x="432.91" y="921.2" font-size="32.7">0.4</text>
<text x="606.55" y="921.2" font-size="32.7">0.6</text>
<text x="779.94" y="921.2" font-size="32.7">0.8</text>
<text x="968.86" y="921.2" font-size="32.7"> </text>
<path d="M0.342,0 L0.342,0.688 L0.272,0.688 C0.258,0.625 0.205,0.578 0.095,0.572 L0.095,0.505 L0.254,0.505 L0.254,0 Z" fill="#000" transform="translate(968.86,921.2) scale(32.700,-32.700)"/>
<text x="785.41" y="960.4" font-size="35.1">pDNN score</text>
<path d="M134.30,770.80L144.00,780.50M134.30,758.00L156.70,780.40M145.40,756.30L156.70,767.60" stroke="#151515" stroke-width="1.65" fill="none"/>
<text x="161.62" y="776" font-size="32.5">Syst unc.</text>
<text transform="translate(35.0,882.0) rotate(-90)" x="-1.42" y="0" font-size="33.8">data-bkg</text>
<line x1="45.6" y1="753.8" x2="45.6" y2="882.8" stroke="#000" stroke-width="3"/>
<text transform="translate(67.0,849.0) rotate(-90)" x="0" y="0" font-size="30">σ</text>
<text transform="translate(78.5,829.5) rotate(-90)" x="0" y="0" font-size="22">data</text>
</g>
<rect x="0" y="0" width="8" height="992" fill="#000"/>
<rect x="1017" y="0" width="14" height="992" fill="#000"/>
<rect x="0" y="992" width="2040" height="5" fill="#000"/>
<rect x="1009" y="997" width="14" height="992" fill="#000"/>
<rect x="2032" y="997" width="8" height="992" fill="#000"/>
</svg></body></html>
